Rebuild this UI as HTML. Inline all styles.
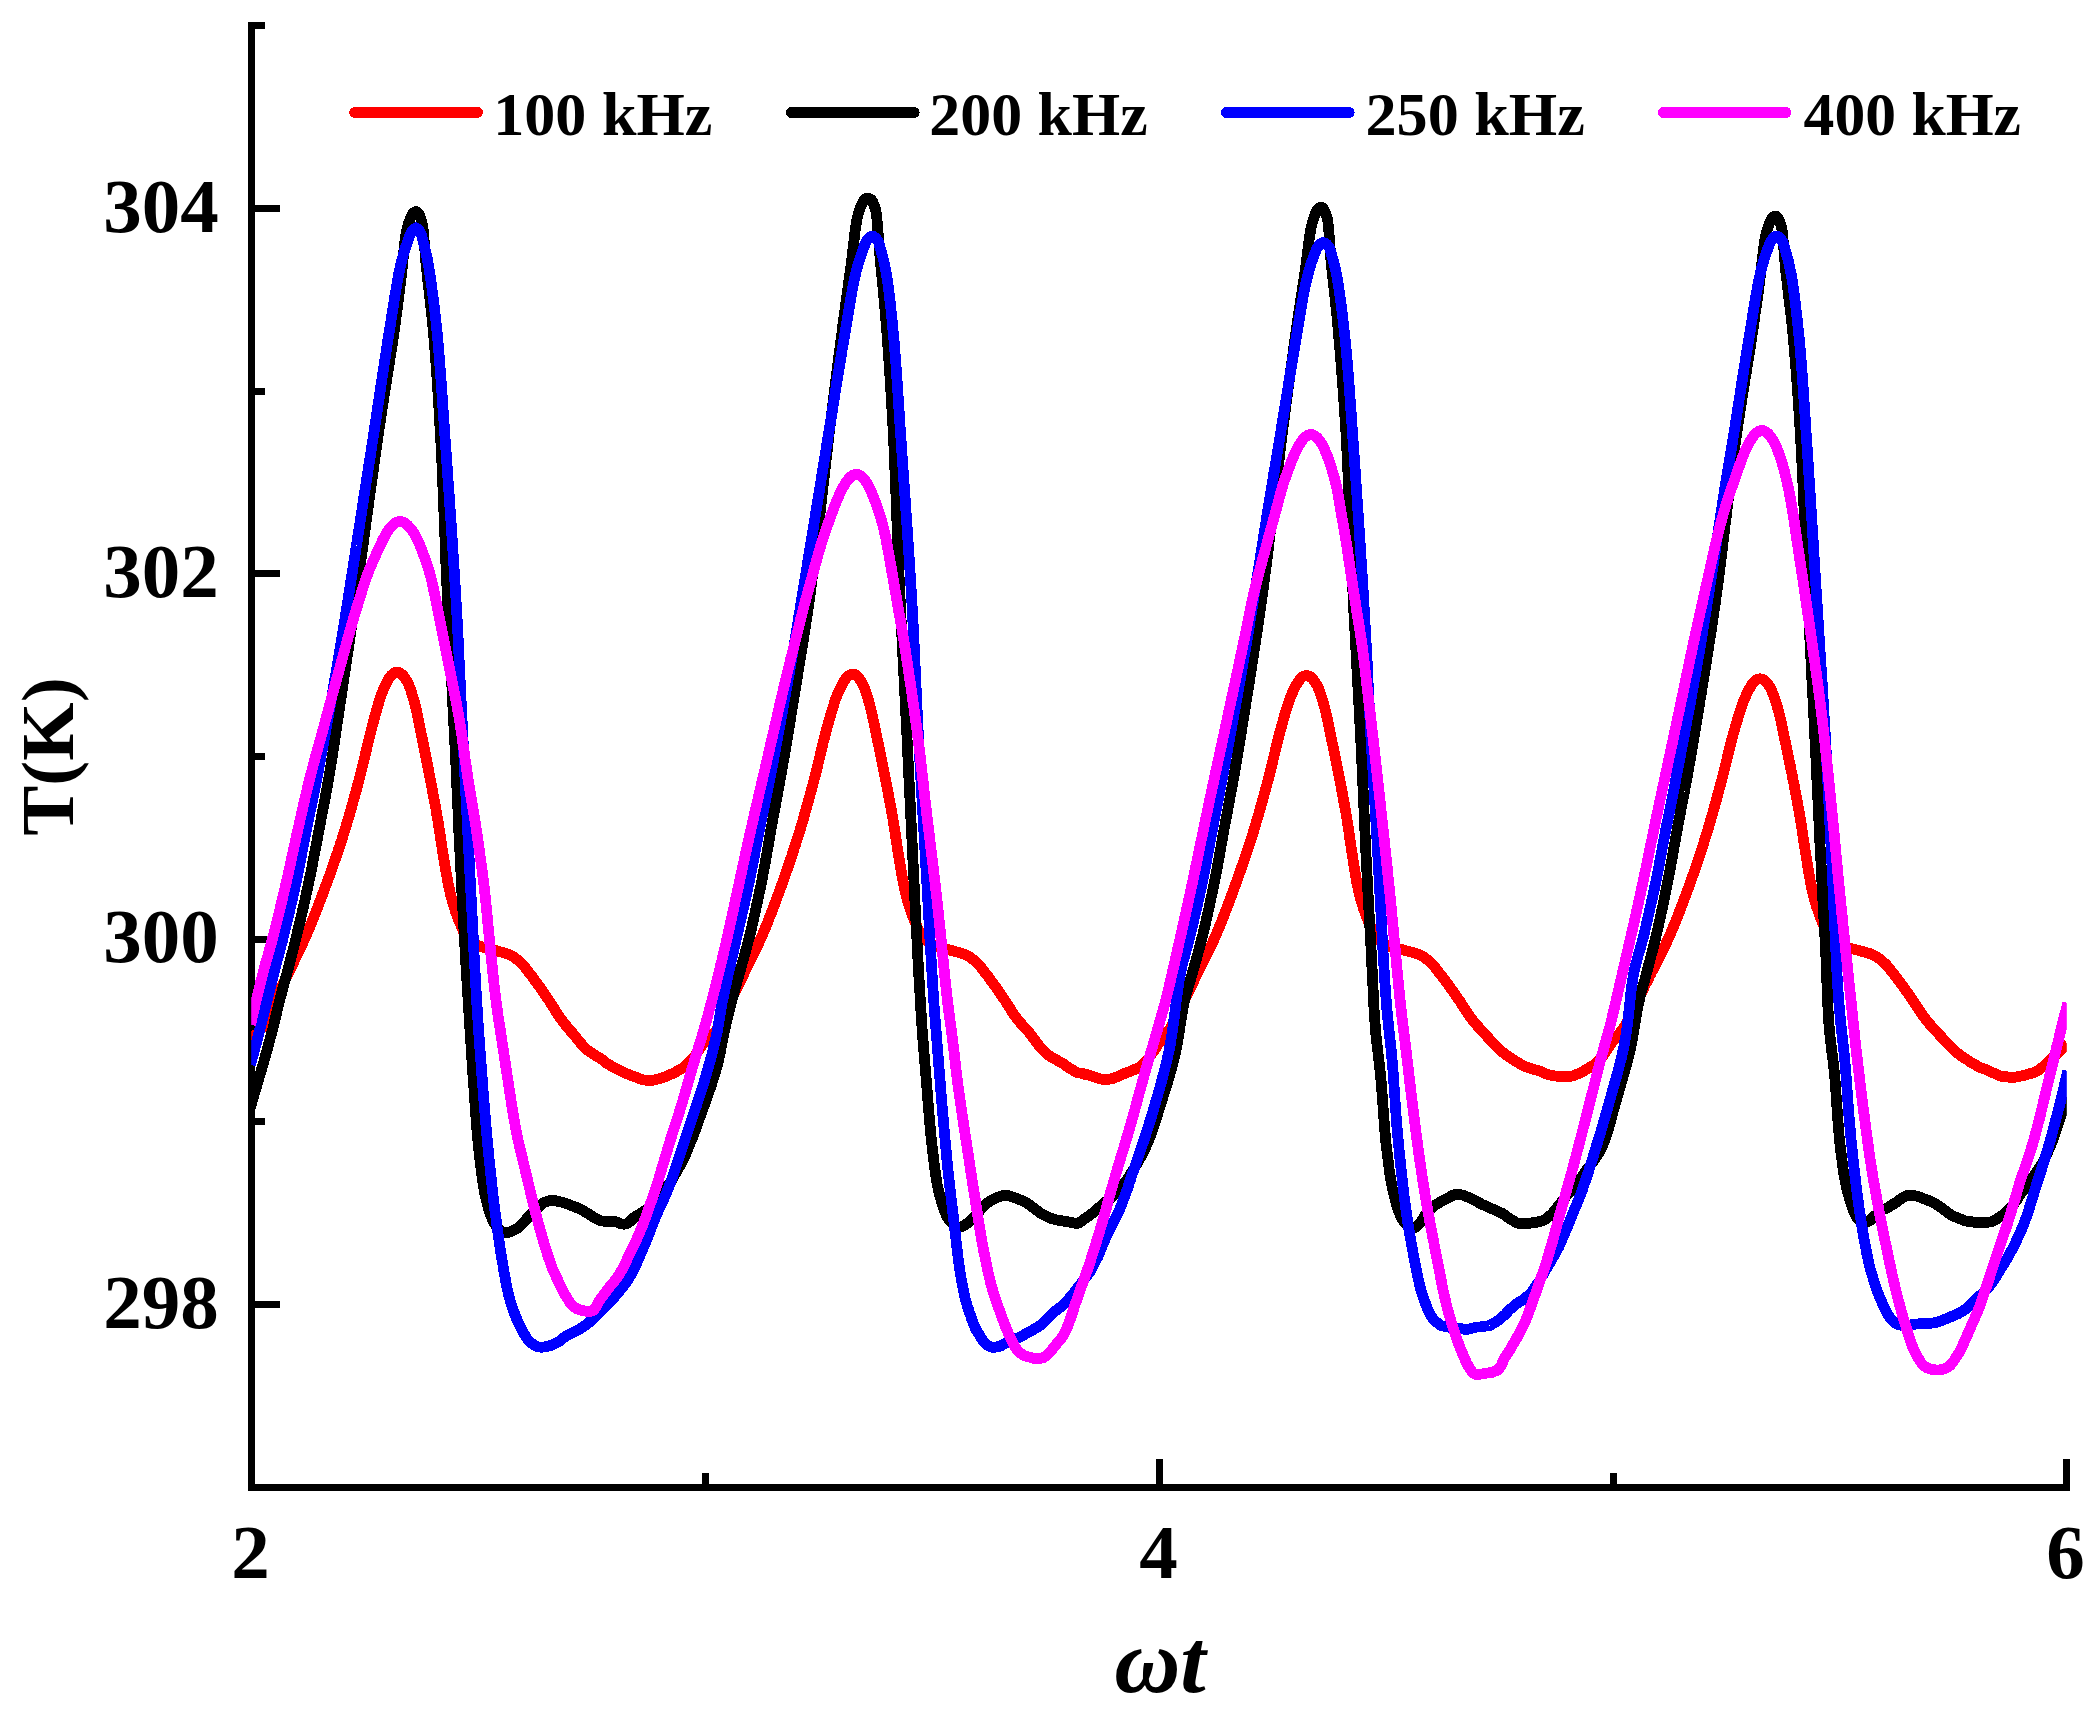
<!DOCTYPE html>
<html lang="en">
<head>
<meta charset="utf-8">
<title>T(K) vs ωt</title>
<style>
html,body{margin:0;padding:0;background:#fff;}
body{width:2091px;height:1715px;overflow:hidden;font-family:"Liberation Serif","Times New Roman",serif;}
svg text{font-family:"Liberation Serif","Times New Roman",serif;font-weight:bold;}
</style>
</head>
<body>
<svg width="2091" height="1715" viewBox="0 0 2091 1715" shape-rendering="crispEdges" style="display:block"><rect width="2091" height="1715" fill="#fff"/><defs><clipPath id="plot"><rect x="251.2" y="0" width="1815.6" height="1487"/></clipPath></defs><g fill="#000"><rect x="248.0" y="22" width="7" height="1469.0"/><rect x="248.0" y="1484.0" width="1822.0" height="7"/><rect x="251.5" y="1301" width="28.5" height="7"/><rect x="251.5" y="1118" width="13.5" height="7"/><rect x="251.5" y="936" width="28.5" height="7"/><rect x="251.5" y="753" width="13.5" height="7"/><rect x="251.5" y="570" width="28.5" height="7"/><rect x="251.5" y="388" width="13.5" height="7"/><rect x="251.5" y="205" width="28.5" height="7"/><rect x="251.5" y="22" width="13.5" height="7"/><rect x="702.00" y="1473.00" width="7" height="14.5"/><rect x="1156.00" y="1459.00" width="7" height="28.5"/><rect x="1610.00" y="1473.00" width="7" height="14.5"/><rect x="2063.00" y="1459.00" width="7" height="28.5"/></g><g clip-path="url(#plot)" shape-rendering="crispEdges"><path d="M250.6 1039.3L252.5 1037.7L254.4 1036.1L256.2 1034.4L257.9 1032.8L259.5 1031.1L261.2 1028.9L262.0 1027.7L262.8 1026.3L263.7 1024.8L264.5 1023.1L265.4 1021.4L266.3 1019.5L267.3 1017.5L268.2 1015.5L269.2 1013.5L270.1 1011.4L271.1 1009.3L272.0 1007.3L273.0 1005.2L273.9 1003.2L274.8 1001.3L275.7 999.4L276.6 997.6L277.5 995.8L278.4 993.9L279.2 992.1L280.1 990.3L281.0 988.5L281.9 986.6L282.8 984.8L283.7 982.9L284.6 981.1L285.5 979.2L286.4 977.2L287.3 975.3L288.3 973.3L289.1 971.6L290.0 969.8L290.8 968.0L291.7 966.3L292.6 964.5L293.4 962.7L294.3 960.9L295.2 959.0L296.1 957.2L297.0 955.3L297.9 953.4L298.8 951.6L299.7 949.7L300.6 947.7L301.5 945.8L302.4 943.9L303.3 941.9L304.2 940.0L305.1 938.0L305.9 936.0L306.7 934.2L307.5 932.4L308.3 930.6L309.0 928.7L309.8 926.9L310.6 925.0L311.3 923.2L312.1 921.3L312.9 919.4L313.6 917.5L314.4 915.6L315.2 913.6L315.9 911.7L316.7 909.8L317.5 907.8L318.2 905.9L319.0 903.9L319.7 901.9L320.5 900.0L321.2 898.0L322.0 896.0L322.7 894.0L323.5 892.0L324.2 890.0L324.9 888.0L325.6 886.1L326.3 884.3L327.0 882.4L327.7 880.5L328.4 878.6L329.1 876.7L329.8 874.8L330.4 872.9L331.1 871.0L331.8 869.1L332.5 867.1L333.2 865.2L333.9 863.2L334.5 861.3L335.2 859.4L335.9 857.4L336.5 855.4L337.2 853.5L337.9 851.5L338.5 849.6L339.2 847.6L339.8 845.7L340.5 843.7L341.1 841.7L341.8 839.8L342.4 837.8L343.0 835.9L343.6 833.9L344.2 832.0L344.8 830.1L345.4 828.1L346.0 826.2L346.6 824.2L347.2 822.3L347.8 820.3L348.4 818.3L348.9 816.4L349.5 814.4L350.1 812.4L350.6 810.4L351.2 808.5L351.8 806.5L352.3 804.5L352.9 802.6L353.4 800.6L354.0 798.6L354.5 796.7L355.0 794.8L355.5 792.8L356.1 790.9L356.6 789.0L357.1 787.1L357.6 785.2L358.1 783.3L358.6 781.5L359.1 779.6L359.5 777.8L360.0 776.0L360.6 773.9L361.1 771.7L361.7 769.6L362.2 767.5L362.7 765.4L363.2 763.3L363.7 761.3L364.2 759.2L364.7 757.1L365.2 755.1L365.6 753.1L366.1 751.1L366.6 749.1L367.0 747.1L367.5 745.2L367.9 743.3L368.4 741.4L368.9 739.5L369.3 737.6L369.8 735.8L370.2 734.0L370.8 731.8L371.4 729.6L371.9 727.4L372.5 725.3L373.0 723.2L373.6 721.1L374.1 719.0L374.7 717.0L375.2 715.0L375.7 713.1L376.3 711.3L376.8 709.4L377.3 707.7L377.8 706.0L378.5 703.7L379.1 701.6L379.7 699.6L380.3 697.7L381.0 695.8L381.7 693.9L382.4 692.0L383.3 689.9L384.2 687.7L385.2 685.5L386.2 683.4L387.3 681.4L388.3 679.6L389.2 678.0L391.2 675.4L393.2 673.6L395.1 672.6L397.2 672.2L399.1 672.6L400.9 673.6L403.0 675.5L404.9 678.0L406.0 679.5L406.9 681.2L407.9 683.1L408.9 685.2L409.5 686.8L410.2 688.6L410.9 690.5L411.5 692.5L412.2 694.7L412.9 696.9L413.5 699.2L414.2 701.4L414.8 703.7L415.4 706.0L415.9 707.9L416.3 709.8L416.8 711.7L417.2 713.7L417.6 715.7L418.0 717.7L418.4 719.7L418.8 721.8L419.2 723.8L419.6 725.9L420.0 727.9L420.4 730.0L420.8 732.0L421.2 734.0L421.6 736.0L422.1 738.0L422.5 740.0L422.9 742.0L423.3 744.0L423.7 746.0L424.1 748.0L424.5 750.0L424.9 752.0L425.3 754.0L425.7 756.0L426.1 758.0L426.5 760.0L426.9 762.0L427.3 764.0L427.7 766.0L428.1 768.0L428.5 770.0L428.9 772.1L429.3 774.1L429.7 776.1L430.0 778.1L430.4 780.1L430.8 782.1L431.2 784.1L431.6 786.1L432.0 788.0L432.3 790.0L432.7 792.1L433.1 794.2L433.5 796.2L433.9 798.2L434.3 800.2L434.7 802.2L435.0 804.2L435.4 806.2L435.8 808.3L436.2 810.5L436.6 812.7L436.9 815.0L437.2 816.8L437.5 818.6L437.9 820.5L438.2 822.4L438.5 824.4L438.8 826.4L439.1 828.4L439.4 830.5L439.7 832.6L440.1 834.7L440.4 836.8L440.7 838.9L441.0 841.0L441.3 843.1L441.6 845.2L442.0 847.2L442.3 849.2L442.6 851.2L442.9 853.2L443.2 855.1L443.5 857.0L443.9 859.2L444.3 861.4L444.6 863.6L445.0 865.8L445.4 868.0L445.7 870.1L446.1 872.2L446.4 874.3L446.8 876.4L447.2 878.4L447.5 880.4L447.9 882.4L448.3 884.3L448.7 886.2L449.1 888.0L449.6 890.3L450.1 892.6L450.6 894.8L451.2 896.9L451.7 899.0L452.3 901.0L452.9 903.0L453.4 905.0L454.0 907.0L454.8 909.2L455.5 911.4L456.2 913.6L457.0 915.7L457.8 917.8L458.6 919.9L459.5 922.0L460.4 924.0L461.2 926.2L462.1 928.3L463.0 930.5L464.0 932.5L465.1 934.5L466.2 936.4L467.5 938.0L469.0 939.5L470.5 940.8L472.2 942.1L474.0 943.2L475.8 944.2L477.6 945.1L479.5 946.0L481.5 946.8L483.6 947.5L485.7 948.1L487.9 948.6L490.1 949.1L492.3 949.6L494.5 950.2L496.6 950.8L498.7 951.4L500.9 952.0L503.0 952.6L505.2 953.2L507.2 953.9L509.2 954.6L511.0 955.5L512.9 956.6L514.7 957.7L516.3 958.9L517.9 960.2L519.4 961.6L521.0 963.0L522.4 964.4L523.8 965.9L525.1 967.5L526.4 969.1L527.7 970.8L529.0 972.6L530.5 974.5L531.6 975.9L532.7 977.4L533.8 978.9L535.0 980.5L536.2 982.1L537.4 983.8L538.6 985.5L539.8 987.2L541.1 989.0L542.3 990.7L543.5 992.5L544.7 994.2L545.9 995.9L547.0 997.5L548.2 999.3L549.4 1001.1L550.6 1002.9L551.7 1004.8L552.9 1006.6L554.0 1008.4L555.2 1010.2L556.3 1012.0L557.5 1013.8L558.6 1015.6L559.8 1017.3L561.0 1019.0L562.4 1020.8L563.7 1022.6L565.1 1024.4L566.5 1026.1L567.9 1027.8L569.3 1029.4L570.7 1031.1L572.2 1032.7L573.6 1034.4L575.0 1036.1L576.4 1037.8L577.8 1039.6L579.1 1041.3L580.5 1042.9L581.9 1044.5L583.3 1046.0L584.7 1047.4L586.1 1048.9L587.5 1050.3L589.0 1051.3L590.7 1052.3L592.4 1053.2L594.1 1054.5L595.9 1055.7L597.6 1056.7L599.4 1057.7L601.2 1058.9L603.0 1060.3L605.0 1061.9L606.9 1063.4L608.9 1064.6L610.9 1065.9L613.0 1067.1L615.0 1068.2L617.0 1069.2L619.0 1070.2L620.9 1071.1L622.9 1072.0L624.8 1072.9L626.8 1073.8L628.9 1074.6L631.0 1075.4L632.9 1076.2L634.9 1076.9L637.0 1077.6L639.1 1078.5L641.2 1079.3L643.4 1079.9L645.5 1080.2L647.5 1080.5L649.5 1080.6L651.7 1080.4L653.9 1080.0L656.1 1079.5L658.2 1079.0L660.3 1078.3L662.4 1077.6L664.5 1076.9L666.4 1076.2L668.3 1075.4L670.3 1074.5L672.2 1073.7L674.1 1072.8L675.9 1071.8L677.7 1070.7L679.5 1069.7L681.3 1068.8L683.0 1067.7L684.7 1066.3L686.3 1064.9L687.9 1063.5L689.5 1062.1L691.0 1060.5L692.5 1058.8L693.9 1057.2L695.2 1055.5L696.4 1053.7L697.7 1051.8L698.9 1049.9L700.1 1048.0L701.3 1046.2L702.6 1044.4L704.0 1042.7L705.4 1041.2L706.8 1039.8L708.3 1038.4L709.8 1037.0L711.3 1035.6L712.8 1034.2L714.2 1032.8L715.6 1031.2L717.0 1029.4L718.0 1027.9L719.0 1026.2L720.0 1024.6L720.9 1022.8L721.8 1021.0L722.7 1019.1L723.6 1017.2L724.4 1015.2L725.3 1013.2L726.2 1011.1L727.0 1009.1L727.9 1007.1L728.7 1005.1L729.6 1003.2L730.5 1001.3L731.4 999.4L732.3 997.6L733.2 995.8L734.1 993.9L735.0 992.1L735.8 990.3L736.7 988.5L737.6 986.6L738.5 984.8L739.4 982.9L740.3 981.1L741.2 979.2L742.2 977.2L743.1 975.3L744.1 973.3L744.9 971.6L745.7 969.8L746.6 968.1L747.5 966.3L748.4 964.5L749.3 962.7L750.2 960.9L751.1 959.1L752.0 957.2L752.9 955.4L753.8 953.5L754.7 951.6L755.6 949.7L756.5 947.8L757.4 945.9L758.4 944.0L759.2 942.0L760.1 940.1L761.0 938.1L761.9 936.1L762.7 934.3L763.4 932.5L764.2 930.7L764.9 928.9L765.7 927.0L766.5 925.2L767.2 923.3L768.0 921.5L768.7 919.6L769.4 917.7L770.2 915.8L770.9 913.9L771.7 912.0L772.4 910.0L773.2 908.1L773.9 906.2L774.6 904.2L775.3 902.3L776.1 900.3L776.8 898.3L777.5 896.4L778.3 894.4L779.0 892.4L779.7 890.4L780.4 888.4L781.1 886.6L781.8 884.7L782.4 882.9L783.1 881.0L783.8 879.1L784.4 877.2L785.1 875.3L785.8 873.4L786.4 871.5L787.1 869.6L787.8 867.7L788.4 865.8L789.1 863.8L789.7 861.9L790.4 860.0L791.0 858.0L791.7 856.1L792.3 854.1L793.0 852.2L793.6 850.3L794.2 848.3L794.9 846.4L795.5 844.4L796.1 842.5L796.7 840.5L797.3 838.6L798.0 836.7L798.6 834.7L799.2 832.8L799.8 830.8L800.4 828.8L801.0 826.8L801.6 824.8L802.2 822.8L802.8 820.8L803.4 818.8L803.9 816.7L804.5 814.7L805.1 812.7L805.7 810.6L806.3 808.6L806.8 806.6L807.4 804.5L808.0 802.5L808.5 800.5L809.1 798.5L809.6 796.5L810.1 794.5L810.7 792.5L811.2 790.6L811.7 788.6L812.3 786.7L812.8 784.7L813.3 782.8L813.8 780.9L814.3 779.0L814.8 777.2L815.3 775.1L815.9 773.0L816.4 770.9L816.9 768.8L817.4 766.7L817.9 764.6L818.4 762.5L818.9 760.5L819.4 758.5L819.9 756.4L820.4 754.4L820.8 752.5L821.3 750.5L821.8 748.5L822.2 746.6L822.7 744.7L823.1 742.8L823.6 740.9L824.1 739.1L824.5 737.3L825.0 735.5L825.6 733.3L826.2 731.1L826.7 729.0L827.3 726.8L827.9 724.7L828.5 722.6L829.0 720.6L829.6 718.6L830.2 716.6L830.7 714.7L831.3 712.9L831.8 711.1L832.3 709.3L832.9 707.7L833.6 705.4L834.2 703.3L834.9 701.3L835.5 699.4L836.2 697.6L836.9 695.7L837.7 693.8L838.6 691.7L839.6 689.5L840.7 687.3L841.7 685.2L842.8 683.2L843.8 681.4L844.8 679.9L846.8 677.3L848.8 675.5L850.9 674.5L853.0 674.1L854.7 674.5L856.3 675.5L858.3 677.4L860.2 679.9L861.2 681.4L862.2 683.0L863.1 684.9L864.1 687.0L864.7 688.6L865.4 690.4L866.0 692.3L866.7 694.3L867.3 696.4L868.0 698.6L868.6 700.9L869.2 703.1L869.9 705.4L870.4 707.7L870.9 709.5L871.4 711.4L871.8 713.3L872.3 715.3L872.7 717.3L873.1 719.3L873.6 721.3L874.0 723.3L874.4 725.4L874.8 727.4L875.2 729.4L875.7 731.5L876.1 733.5L876.5 735.5L876.9 737.5L877.3 739.4L877.7 741.4L878.2 743.4L878.6 745.4L879.0 747.4L879.4 749.4L879.8 751.4L880.2 753.4L880.6 755.3L881.0 757.3L881.4 759.3L881.8 761.3L882.2 763.3L882.6 765.3L883.0 767.3L883.4 769.3L883.8 771.3L884.2 773.3L884.6 775.3L885.0 777.3L885.4 779.3L885.8 781.3L886.2 783.3L886.6 785.2L887.0 787.2L887.4 789.2L887.8 791.1L888.2 793.2L888.6 795.2L888.9 797.2L889.3 799.2L889.7 801.2L890.1 803.2L890.4 805.2L890.8 807.2L891.2 809.3L891.6 811.4L892.0 813.6L892.4 815.9L892.7 817.7L893.0 819.5L893.3 821.4L893.6 823.3L893.9 825.2L894.2 827.2L894.5 829.3L894.8 831.3L895.2 833.4L895.5 835.5L895.8 837.5L896.1 839.6L896.4 841.7L896.7 843.8L897.1 845.9L897.4 847.9L897.7 849.9L898.0 851.9L898.3 853.9L898.6 855.8L899.0 857.6L899.3 859.8L899.7 862.0L900.0 864.2L900.4 866.4L900.8 868.5L901.1 870.7L901.5 872.8L901.8 874.8L902.2 876.9L902.6 878.9L902.9 880.9L903.3 882.8L903.7 884.7L904.1 886.6L904.5 888.4L905.0 890.7L905.5 893.0L906.1 895.2L906.6 897.3L907.2 899.3L907.8 901.4L908.4 903.4L909.0 905.3L909.6 907.3L910.3 909.5L911.1 911.7L911.8 913.8L912.6 915.9L913.4 918.0L914.3 920.1L915.2 922.2L916.0 924.2L916.9 926.3L917.8 928.5L918.7 930.6L919.7 932.7L920.8 934.6L922.0 936.5L923.3 938.1L924.7 939.6L926.4 940.9L928.1 942.1L929.9 943.2L931.7 944.2L933.6 945.1L935.5 946.0L937.5 946.8L939.6 947.5L941.7 948.1L943.9 948.6L946.1 949.1L948.3 949.6L950.5 950.2L952.6 950.8L954.7 951.4L956.9 952.0L959.0 952.6L961.2 953.2L963.2 953.9L965.2 954.6L967.0 955.5L968.9 956.6L970.7 957.7L972.3 958.9L973.9 960.2L975.4 961.6L977.0 963.0L978.4 964.4L979.8 965.9L981.1 967.5L982.4 969.1L983.7 970.8L985.0 972.6L986.5 974.5L987.6 975.9L988.7 977.4L989.8 978.9L991.0 980.5L992.2 982.1L993.4 983.8L994.6 985.5L995.8 987.2L997.1 989.0L998.3 990.7L999.5 992.5L1000.7 994.2L1001.9 995.9L1003.0 997.5L1004.2 999.3L1005.4 1001.1L1006.6 1002.9L1007.7 1004.8L1008.9 1006.6L1010.0 1008.4L1011.2 1010.2L1012.3 1012.0L1013.5 1013.8L1014.6 1015.6L1015.8 1017.2L1017.0 1018.8L1018.4 1020.4L1019.7 1021.9L1021.1 1023.6L1022.5 1025.2L1023.9 1026.7L1025.3 1028.3L1026.7 1029.8L1028.2 1031.4L1029.6 1033.1L1031.0 1035.0L1032.4 1036.9L1033.8 1038.7L1035.1 1040.4L1036.5 1042.2L1037.9 1044.0L1039.3 1045.9L1040.7 1047.7L1042.1 1049.3L1043.5 1050.7L1045.0 1052.1L1046.7 1053.6L1048.4 1055.0L1050.1 1056.3L1051.9 1057.3L1053.6 1058.2L1055.4 1059.2L1057.2 1060.4L1059.0 1061.4L1061.0 1062.3L1062.9 1063.4L1064.9 1064.8L1066.9 1066.4L1069.0 1067.8L1071.0 1068.9L1073.0 1070.2L1075.0 1071.4L1076.9 1072.4L1078.9 1073.0L1080.8 1073.2L1082.8 1073.6L1084.9 1074.3L1087.0 1074.7L1088.9 1075.1L1090.9 1075.7L1093.0 1076.5L1095.1 1077.3L1097.2 1078.1L1099.4 1078.6L1101.5 1079.2L1103.5 1079.6L1105.5 1079.7L1107.7 1079.5L1109.9 1079.1L1112.1 1078.7L1114.2 1078.0L1116.3 1077.0L1118.4 1076.2L1120.5 1075.4L1122.4 1074.5L1124.3 1073.6L1126.3 1072.8L1128.2 1072.2L1130.1 1071.5L1131.9 1070.7L1133.7 1069.8L1135.5 1069.2L1137.3 1068.6L1139.0 1067.7L1140.7 1066.3L1142.3 1064.8L1143.9 1063.3L1145.5 1061.8L1147.0 1060.1L1148.5 1058.3L1149.9 1056.5L1151.2 1054.6L1152.5 1052.8L1153.8 1050.9L1155.0 1049.1L1156.3 1047.2L1157.5 1045.3L1158.7 1043.4L1160.0 1041.6L1161.4 1039.9L1162.7 1038.2L1164.0 1036.5L1165.4 1034.8L1166.7 1033.2L1168.1 1031.4L1169.4 1029.5L1170.7 1027.5L1171.6 1026.0L1172.5 1024.4L1173.4 1022.8L1174.3 1021.0L1175.2 1019.3L1176.1 1017.4L1177.0 1015.6L1177.9 1013.7L1178.8 1011.8L1179.7 1009.8L1180.6 1007.9L1181.5 1006.0L1182.4 1004.1L1183.3 1002.2L1184.2 1000.3L1185.1 998.5L1186.0 996.7L1186.9 994.9L1187.7 993.1L1188.6 991.3L1189.5 989.5L1190.4 987.7L1191.3 985.9L1192.2 984.1L1193.1 982.3L1194.0 980.5L1194.9 978.6L1195.8 976.7L1196.7 974.8L1197.7 972.9L1198.5 971.1L1199.4 969.4L1200.2 967.7L1201.1 965.9L1202.0 964.2L1202.9 962.4L1203.8 960.6L1204.7 958.8L1205.6 957.0L1206.5 955.2L1207.4 953.3L1208.3 951.5L1209.2 949.6L1210.1 947.7L1211.0 945.8L1211.9 943.9L1212.8 942.0L1213.7 940.1L1214.6 938.1L1215.4 936.2L1216.2 934.4L1217.0 932.6L1217.7 930.8L1218.5 929.0L1219.2 927.2L1220.0 925.3L1220.7 923.5L1221.5 921.6L1222.2 919.8L1223.0 917.9L1223.7 916.0L1224.5 914.1L1225.2 912.2L1225.9 910.3L1226.7 908.3L1227.4 906.4L1228.1 904.5L1228.9 902.5L1229.6 900.5L1230.3 898.6L1231.1 896.6L1231.8 894.7L1232.5 892.7L1233.2 890.7L1234.0 888.7L1234.6 886.9L1235.3 885.1L1236.0 883.2L1236.7 881.3L1237.3 879.5L1238.0 877.6L1238.7 875.7L1239.3 873.8L1240.0 871.9L1240.7 870.0L1241.3 868.1L1242.0 866.2L1242.7 864.3L1243.3 862.4L1244.0 860.4L1244.7 858.5L1245.3 856.6L1246.0 854.6L1246.6 852.7L1247.3 850.8L1247.9 848.8L1248.5 846.9L1249.2 845.0L1249.8 843.0L1250.4 841.1L1251.0 839.2L1251.7 837.2L1252.3 835.3L1252.9 833.4L1253.5 831.4L1254.1 829.4L1254.7 827.5L1255.3 825.5L1255.9 823.4L1256.5 821.4L1257.1 819.4L1257.7 817.4L1258.3 815.4L1258.9 813.4L1259.4 811.3L1260.0 809.3L1260.6 807.3L1261.2 805.3L1261.7 803.3L1262.3 801.3L1262.8 799.3L1263.4 797.3L1263.9 795.3L1264.5 793.3L1265.0 791.4L1265.5 789.4L1266.0 787.5L1266.6 785.6L1267.1 783.7L1267.6 781.8L1268.1 779.9L1268.6 778.1L1269.1 776.0L1269.7 773.9L1270.2 771.8L1270.7 769.7L1271.2 767.6L1271.7 765.5L1272.2 763.5L1272.7 761.5L1273.2 759.4L1273.7 757.4L1274.1 755.4L1274.6 753.5L1275.1 751.5L1275.5 749.6L1276.0 747.6L1276.5 745.7L1276.9 743.9L1277.4 742.0L1277.8 740.2L1278.3 738.4L1278.8 736.6L1279.3 734.4L1279.9 732.2L1280.5 730.1L1281.1 728.0L1281.6 725.9L1282.2 723.8L1282.8 721.8L1283.3 719.8L1283.9 717.8L1284.4 715.9L1285.0 714.1L1285.5 712.3L1286.0 710.6L1286.5 708.9L1287.2 706.7L1287.9 704.6L1288.6 702.6L1289.2 700.7L1289.9 698.8L1290.6 697.0L1291.4 695.1L1292.3 693.0L1293.3 690.8L1294.3 688.7L1295.4 686.6L1296.4 684.6L1297.5 682.8L1298.5 681.2L1300.4 678.7L1302.5 676.9L1304.6 675.9L1306.7 675.5L1308.6 675.9L1310.5 676.9L1312.5 678.8L1314.5 681.2L1315.5 682.8L1316.5 684.4L1317.4 686.2L1318.4 688.3L1319.1 689.9L1319.7 691.7L1320.4 693.6L1321.1 695.6L1321.8 697.7L1322.4 699.9L1323.1 702.1L1323.7 704.4L1324.4 706.7L1325.0 708.9L1325.5 710.7L1325.9 712.6L1326.4 714.5L1326.8 716.5L1327.3 718.5L1327.7 720.4L1328.1 722.5L1328.5 724.5L1328.9 726.5L1329.3 728.5L1329.8 730.6L1330.2 732.6L1330.6 734.6L1331.0 736.6L1331.4 738.5L1331.8 740.5L1332.2 742.5L1332.6 744.5L1333.1 746.4L1333.5 748.4L1333.9 750.4L1334.3 752.4L1334.7 754.3L1335.1 756.3L1335.5 758.3L1335.9 760.3L1336.3 762.3L1336.7 764.2L1337.1 766.2L1337.5 768.2L1337.9 770.2L1338.3 772.2L1338.7 774.2L1339.1 776.2L1339.4 778.2L1339.8 780.1L1340.2 782.1L1340.6 784.1L1341.0 786.1L1341.3 788.0L1341.7 790.0L1342.1 791.9L1342.5 794.0L1342.8 796.0L1343.2 798.0L1343.6 800.0L1343.9 802.0L1344.3 803.9L1344.7 805.9L1345.0 807.9L1345.4 810.0L1345.8 812.1L1346.1 814.3L1346.5 816.6L1346.8 818.4L1347.1 820.3L1347.4 822.3L1347.7 824.3L1348.0 826.4L1348.4 828.5L1348.7 830.6L1349.0 832.7L1349.3 834.9L1349.6 837.1L1349.9 839.3L1350.3 841.4L1350.6 843.6L1350.9 845.8L1351.2 847.9L1351.5 850.0L1351.8 852.1L1352.2 854.2L1352.5 856.2L1352.8 858.1L1353.1 860.3L1353.5 862.5L1353.8 864.7L1354.2 866.8L1354.5 868.9L1354.9 871.1L1355.2 873.2L1355.5 875.2L1355.9 877.3L1356.2 879.3L1356.6 881.2L1356.9 883.2L1357.3 885.1L1357.7 886.9L1358.1 888.7L1358.6 891.0L1359.1 893.3L1359.7 895.4L1360.2 897.5L1360.8 899.6L1361.4 901.6L1362.0 903.6L1362.6 905.6L1363.2 907.5L1363.9 909.7L1364.7 911.9L1365.4 914.0L1366.2 916.1L1367.0 918.1L1367.9 920.2L1368.8 922.3L1369.7 924.4L1370.6 926.5L1371.4 928.6L1372.4 930.7L1373.4 932.8L1374.4 934.7L1375.6 936.5L1376.9 938.1L1378.4 939.6L1380.0 941.0L1381.7 942.2L1383.5 943.2L1385.4 944.2L1387.3 945.2L1389.2 946.0L1391.2 946.8L1393.3 947.5L1395.4 948.1L1397.6 948.6L1399.8 949.1L1402.0 949.6L1404.2 950.2L1406.3 950.8L1408.4 951.3L1410.6 951.9L1412.7 952.5L1414.9 953.1L1416.9 953.8L1418.9 954.6L1420.7 955.4L1422.6 956.4L1424.3 957.5L1426.0 958.7L1427.6 960.0L1429.1 961.3L1430.7 962.8L1432.1 964.1L1433.5 965.6L1434.8 967.1L1436.1 968.7L1437.4 970.4L1438.7 972.2L1440.2 974.0L1441.3 975.5L1442.5 977.1L1443.8 978.7L1445.0 980.4L1446.3 982.1L1447.7 983.9L1449.0 985.7L1450.3 987.6L1451.6 989.4L1452.9 991.3L1454.2 993.1L1455.5 994.8L1456.7 996.6L1457.9 998.4L1459.1 1000.1L1460.3 1001.9L1461.4 1003.7L1462.6 1005.5L1463.7 1007.3L1464.9 1009.0L1466.0 1010.8L1467.2 1012.5L1468.3 1014.3L1469.5 1016.0L1470.7 1017.6L1472.1 1019.4L1473.4 1021.1L1474.8 1022.8L1476.2 1024.4L1477.6 1026.0L1479.0 1027.6L1480.4 1029.1L1481.9 1030.6L1483.3 1032.2L1484.7 1033.8L1486.1 1035.3L1487.5 1036.9L1488.8 1038.4L1490.2 1040.0L1491.6 1041.5L1493.0 1043.1L1494.4 1044.6L1495.8 1046.1L1497.3 1047.5L1498.7 1048.9L1500.4 1050.4L1502.1 1051.8L1503.8 1053.2L1505.6 1054.5L1507.3 1055.7L1509.1 1056.9L1510.9 1058.1L1512.7 1059.3L1514.7 1060.5L1516.6 1061.7L1518.6 1062.9L1520.6 1064.1L1522.7 1065.4L1524.7 1066.5L1526.7 1067.2L1528.7 1067.8L1530.6 1068.4L1532.6 1069.1L1534.5 1069.7L1536.5 1070.1L1538.6 1070.7L1540.7 1071.5L1542.6 1072.5L1544.6 1073.4L1546.7 1074.1L1548.8 1074.7L1550.9 1075.2L1553.1 1075.7L1555.2 1076.0L1557.2 1076.2L1559.2 1076.2L1561.4 1076.4L1563.6 1076.7L1565.8 1076.8L1567.9 1076.5L1570.0 1076.3L1572.1 1076.0L1574.2 1075.4L1576.1 1074.6L1578.0 1073.8L1580.0 1072.9L1581.9 1072.0L1583.8 1071.0L1585.6 1069.8L1587.4 1068.7L1589.2 1067.7L1591.0 1066.7L1592.7 1065.7L1594.3 1064.4L1596.0 1062.9L1597.6 1061.5L1599.2 1060.0L1600.7 1058.4L1602.2 1056.7L1603.6 1054.9L1604.9 1052.9L1606.2 1050.9L1607.5 1048.9L1608.7 1047.0L1610.0 1045.2L1611.2 1043.4L1612.4 1041.7L1613.7 1040.0L1615.0 1038.4L1616.3 1036.9L1617.6 1035.4L1618.9 1034.0L1620.2 1032.5L1621.5 1031.0L1622.8 1029.3L1624.1 1027.3L1625.0 1025.8L1625.9 1024.2L1626.9 1022.5L1627.8 1020.8L1628.7 1019.0L1629.6 1017.2L1630.5 1015.4L1631.4 1013.5L1632.3 1011.6L1633.2 1009.7L1634.1 1007.7L1635.0 1005.8L1635.9 1003.9L1636.8 1002.0L1637.7 1000.1L1638.6 998.3L1639.5 996.5L1640.4 994.7L1641.3 992.9L1642.2 991.1L1643.1 989.4L1643.9 987.6L1644.8 985.8L1645.7 984.0L1646.7 982.2L1647.6 980.3L1648.5 978.5L1649.4 976.6L1650.4 974.7L1651.3 972.8L1652.2 971.1L1653.1 969.4L1653.9 967.6L1654.8 965.9L1655.7 964.1L1656.6 962.4L1657.5 960.6L1658.4 958.8L1659.3 957.0L1660.3 955.2L1661.2 953.4L1662.1 951.5L1663.0 949.7L1664.0 947.8L1664.9 945.9L1665.8 944.0L1666.7 942.1L1667.6 940.2L1668.5 938.3L1669.3 936.3L1670.1 934.6L1670.9 932.8L1671.6 931.0L1672.4 929.3L1673.1 927.5L1673.9 925.6L1674.7 923.8L1675.4 922.0L1676.1 920.1L1676.9 918.3L1677.6 916.4L1678.4 914.5L1679.1 912.6L1679.8 910.7L1680.6 908.8L1681.3 906.9L1682.0 905.0L1682.8 903.1L1683.5 901.1L1684.2 899.2L1684.9 897.3L1685.7 895.3L1686.4 893.4L1687.1 891.4L1687.8 889.5L1688.5 887.6L1689.2 885.7L1689.9 883.8L1690.5 881.9L1691.2 880.0L1691.9 878.1L1692.6 876.1L1693.3 874.2L1694.0 872.3L1694.6 870.3L1695.3 868.4L1696.0 866.4L1696.6 864.4L1697.3 862.5L1698.0 860.5L1698.6 858.5L1699.3 856.5L1700.0 854.6L1700.6 852.6L1701.3 850.6L1701.9 848.6L1702.6 846.6L1703.2 844.7L1703.8 842.7L1704.4 840.7L1705.1 838.7L1705.7 836.8L1706.3 834.8L1706.9 832.9L1707.5 830.9L1708.1 828.9L1708.7 826.9L1709.3 825.0L1709.9 823.0L1710.4 821.0L1711.0 819.0L1711.6 817.0L1712.2 815.0L1712.7 813.0L1713.3 811.0L1713.8 809.0L1714.4 807.0L1715.0 805.0L1715.5 803.1L1716.0 801.1L1716.6 799.1L1717.1 797.2L1717.6 795.2L1718.2 793.3L1718.7 791.3L1719.2 789.4L1719.7 787.5L1720.2 785.7L1720.7 783.8L1721.2 782.0L1721.7 780.1L1722.2 778.0L1722.8 776.0L1723.3 773.9L1723.8 771.8L1724.3 769.8L1724.8 767.8L1725.3 765.7L1725.8 763.7L1726.3 761.7L1726.8 759.7L1727.2 757.8L1727.7 755.8L1728.2 753.9L1728.7 752.0L1729.1 750.1L1729.6 748.2L1730.1 746.3L1730.5 744.5L1731.0 742.7L1731.5 740.9L1731.9 739.1L1732.5 737.0L1733.1 734.8L1733.7 732.7L1734.3 730.6L1734.9 728.6L1735.4 726.5L1736.0 724.5L1736.6 722.5L1737.2 720.6L1737.7 718.7L1738.3 716.9L1738.8 715.2L1739.4 713.4L1739.9 711.8L1740.6 709.6L1741.3 707.5L1742.0 705.6L1742.6 703.7L1743.3 701.9L1744.0 700.0L1744.8 698.1L1745.8 696.1L1746.7 694.0L1747.8 691.8L1748.8 689.7L1749.9 687.8L1750.9 686.0L1751.9 684.5L1753.9 681.9L1755.9 680.2L1758.0 679.2L1760.1 678.8L1762.1 679.2L1764.1 680.2L1766.1 682.0L1768.1 684.5L1769.1 686.0L1770.1 687.6L1771.1 689.4L1772.1 691.5L1772.7 693.1L1773.4 694.8L1774.1 696.7L1774.8 698.7L1775.5 700.7L1776.1 702.9L1776.8 705.1L1777.5 707.3L1778.1 709.6L1778.7 711.8L1779.2 713.8L1779.7 715.8L1780.2 717.8L1780.7 719.9L1781.2 722.0L1781.6 724.1L1782.1 726.3L1782.5 728.4L1782.9 730.6L1783.4 732.7L1783.8 734.9L1784.3 737.0L1784.7 739.1L1785.2 741.2L1785.6 743.3L1786.1 745.4L1786.5 747.5L1786.9 749.6L1787.4 751.7L1787.8 753.8L1788.2 755.9L1788.7 758.1L1789.1 760.2L1789.5 762.3L1790.0 764.4L1790.4 766.5L1790.8 768.6L1791.2 770.7L1791.7 772.8L1792.1 774.9L1792.5 777.0L1792.9 779.2L1793.3 781.3L1793.8 783.4L1794.2 785.5L1794.6 787.6L1795.0 789.7L1795.4 791.7L1795.8 793.8L1796.1 795.9L1796.5 797.9L1796.9 799.8L1797.3 801.8L1797.6 803.7L1798.0 805.7L1798.3 807.7L1798.7 809.7L1799.1 811.7L1799.4 813.8L1799.8 816.0L1800.2 818.2L1800.5 820.0L1800.8 821.9L1801.1 823.8L1801.4 825.8L1801.7 827.9L1802.1 829.9L1802.4 832.0L1802.7 834.1L1803.0 836.3L1803.3 838.4L1803.7 840.6L1804.0 842.8L1804.3 844.9L1804.7 847.0L1805.0 849.2L1805.3 851.2L1805.6 853.3L1806.0 855.3L1806.3 857.3L1806.6 859.2L1807.0 861.4L1807.3 863.5L1807.7 865.7L1808.0 867.8L1808.4 869.9L1808.7 872.0L1809.1 874.1L1809.4 876.1L1809.8 878.1L1810.1 880.1L1810.5 882.1L1810.9 884.0L1811.3 885.9L1811.6 887.7L1812.0 889.5L1812.6 891.8L1813.1 894.0L1813.6 896.1L1814.2 898.2L1814.7 900.2L1815.3 902.2L1815.8 904.2L1816.4 906.1L1817.0 908.0L1817.8 910.2L1818.5 912.3L1819.2 914.4L1820.0 916.5L1820.8 918.5L1821.7 920.6L1822.6 922.7L1823.4 924.7L1824.3 926.7L1825.2 928.8L1826.1 930.9L1827.1 933.0L1828.1 934.9L1829.3 936.7L1830.6 938.3L1832.1 939.7L1833.6 941.1L1835.3 942.2L1837.1 943.3L1838.9 944.3L1840.7 945.2L1842.6 946.1L1844.6 946.9L1846.7 947.5L1848.8 948.1L1851.0 948.6L1853.2 949.1L1855.4 949.6L1857.6 950.2L1859.7 950.8L1861.8 951.3L1864.0 951.9L1866.1 952.5L1868.3 953.1L1870.3 953.8L1872.3 954.5L1874.1 955.4L1876.0 956.4L1877.7 957.5L1879.4 958.7L1881.0 959.9L1882.5 961.3L1884.1 962.7L1885.5 964.1L1886.9 965.5L1888.2 967.1L1889.5 968.6L1890.8 970.3L1892.1 972.1L1893.6 973.9L1894.7 975.4L1895.9 976.9L1897.2 978.6L1898.4 980.3L1899.7 982.0L1901.1 983.8L1902.4 985.6L1903.7 987.4L1905.0 989.3L1906.3 991.1L1907.6 992.9L1908.9 994.7L1910.1 996.4L1911.3 998.2L1912.5 999.9L1913.7 1001.7L1914.8 1003.5L1916.0 1005.3L1917.1 1007.0L1918.3 1008.8L1919.4 1010.5L1920.6 1012.3L1921.7 1014.0L1922.9 1015.6L1924.1 1017.2L1925.5 1019.0L1926.8 1020.7L1928.2 1022.4L1929.6 1024.0L1931.0 1025.6L1932.4 1027.2L1933.8 1028.7L1935.3 1030.3L1936.7 1031.8L1938.1 1033.4L1939.5 1034.9L1940.9 1036.4L1942.2 1037.9L1943.6 1039.4L1945.0 1040.9L1946.4 1042.5L1947.8 1044.0L1949.2 1045.5L1950.7 1046.9L1952.1 1048.3L1953.8 1049.9L1955.5 1051.4L1957.2 1052.9L1959.0 1054.3L1960.7 1055.5L1962.5 1056.7L1964.3 1057.9L1966.1 1059.1L1968.1 1060.4L1970.0 1061.8L1972.0 1063.0L1974.0 1064.1L1976.1 1065.3L1978.1 1066.5L1980.1 1067.5L1982.1 1068.3L1984.0 1069.0L1986.0 1069.6L1987.9 1070.5L1989.9 1071.5L1992.0 1072.5L1994.1 1073.3L1996.0 1074.1L1998.0 1075.0L2000.1 1075.9L2002.2 1076.4L2004.3 1076.6L2006.5 1076.8L2008.6 1077.1L2010.6 1077.3L2012.6 1077.3L2014.8 1077.2L2017.0 1076.9L2019.2 1076.5L2021.3 1076.0L2023.4 1075.5L2025.5 1075.0L2027.6 1074.4L2029.5 1073.8L2031.4 1073.3L2033.4 1072.7L2035.3 1072.0L2037.2 1071.0L2039.0 1069.7L2040.8 1068.3L2042.6 1067.1L2044.3 1065.7L2046.0 1064.1L2047.7 1062.5L2049.3 1060.9L2050.9 1059.4L2052.5 1057.8L2054.0 1056.3L2055.6 1054.8L2057.1 1053.4L2058.7 1052.0L2060.2 1050.7L2061.7 1049.4L2063.2 1048.0L2064.7 1046.7L2066.2 1045.5L2067.7 1044.4" fill="none" stroke="#ff0000" stroke-width="10.8" stroke-linejoin="round" stroke-linecap="butt"/><path d="M250.4 1107.4L251.0 1105.5L251.5 1103.5L252.1 1101.5L252.7 1099.5L253.3 1097.5L253.9 1095.4L254.5 1093.4L255.1 1091.3L255.7 1089.3L256.3 1087.2L256.9 1085.1L257.5 1082.9L258.1 1080.8L258.8 1078.7L259.4 1076.7L260.0 1074.6L260.6 1072.6L261.2 1070.5L261.8 1068.5L262.4 1066.5L263.0 1064.4L263.6 1062.4L264.2 1060.3L264.8 1058.3L265.3 1056.2L265.9 1054.2L266.5 1052.1L267.0 1050.1L267.6 1048.1L268.1 1046.1L268.6 1044.2L269.1 1042.3L269.6 1040.5L270.1 1038.7L270.6 1037.0L271.0 1035.3L271.5 1033.7L271.9 1032.1L272.3 1030.6L272.7 1029.1L273.3 1026.6L273.9 1024.4L274.4 1022.2L274.9 1020.1L275.4 1018.1L275.9 1016.2L276.3 1014.3L276.7 1012.5L277.1 1010.7L277.6 1008.9L278.0 1007.0L278.4 1005.2L278.9 1003.3L279.4 1001.3L279.9 999.3L280.4 997.3L280.9 995.4L281.5 993.4L282.0 991.5L282.5 989.5L283.1 987.5L283.6 985.6L284.1 983.6L284.7 981.6L285.2 979.6L285.8 977.5L286.3 975.4L286.9 973.3L287.4 971.5L287.9 969.6L288.4 967.8L288.8 965.9L289.3 964.1L289.8 962.2L290.3 960.3L290.8 958.4L291.3 956.4L291.8 954.5L292.3 952.5L292.9 950.5L293.4 948.5L293.9 946.5L294.4 944.5L294.9 942.4L295.5 940.3L296.0 938.2L296.5 936.0L296.9 934.2L297.4 932.3L297.8 930.5L298.3 928.6L298.8 926.6L299.2 924.7L299.7 922.7L300.2 920.7L300.6 918.7L301.1 916.7L301.6 914.6L302.1 912.6L302.5 910.5L303.0 908.5L303.5 906.4L304.0 904.3L304.4 902.2L304.9 900.2L305.4 898.1L305.8 896.0L306.3 894.0L306.7 891.9L307.2 889.9L307.6 887.9L308.0 885.9L308.5 883.9L308.9 881.9L309.3 880.0L309.7 877.9L310.2 875.9L310.6 873.9L311.0 871.8L311.4 869.8L311.8 867.8L312.2 865.9L312.6 863.9L312.9 861.9L313.3 859.9L313.7 858.0L314.1 856.0L314.4 854.1L314.8 852.1L315.2 850.1L315.6 848.1L315.9 846.2L316.3 844.2L316.7 842.2L317.1 840.2L317.4 838.2L317.8 836.1L318.2 834.1L318.6 832.0L319.0 830.1L319.3 828.1L319.7 826.2L320.1 824.2L320.5 822.3L320.9 820.3L321.2 818.3L321.6 816.3L322.0 814.3L322.4 812.3L322.8 810.3L323.2 808.3L323.6 806.3L323.9 804.3L324.3 802.3L324.7 800.2L325.1 798.2L325.5 796.2L325.8 794.2L326.2 792.1L326.6 790.1L327.0 788.1L327.3 786.1L327.7 784.0L328.1 782.0L328.4 780.0L328.8 778.0L329.1 776.0L329.4 774.0L329.8 772.1L330.1 770.1L330.4 768.2L330.7 766.3L331.0 764.4L331.3 762.5L331.6 760.6L331.9 758.8L332.2 756.9L332.5 755.0L332.8 753.1L333.1 751.2L333.3 749.3L333.6 747.4L333.9 745.5L334.2 743.5L334.5 741.6L334.8 739.6L335.1 737.5L335.4 735.5L335.7 733.4L336.0 731.3L336.3 729.1L336.7 726.9L337.0 724.7L337.3 722.4L337.7 720.0L337.9 718.4L338.2 716.7L338.5 715.0L338.7 713.3L339.0 711.6L339.2 709.8L339.5 708.0L339.8 706.2L340.0 704.4L340.3 702.6L340.6 700.7L340.9 698.8L341.2 696.9L341.5 695.0L341.7 693.1L342.0 691.1L342.3 689.1L342.6 687.2L342.9 685.2L343.2 683.2L343.5 681.1L343.8 679.1L344.1 677.1L344.4 675.0L344.7 672.9L345.1 670.9L345.4 668.8L345.7 666.7L346.0 664.6L346.3 662.5L346.6 660.4L346.9 658.3L347.2 656.2L347.5 654.0L347.9 651.9L348.2 649.8L348.5 647.7L348.8 645.5L349.1 643.4L349.4 641.3L349.7 639.2L350.0 637.0L350.4 634.9L350.7 632.8L351.0 630.7L351.3 628.6L351.6 626.5L351.9 624.4L352.2 622.3L352.5 620.2L352.8 618.2L353.1 616.1L353.4 614.0L353.7 612.0L354.0 610.0L354.3 607.9L354.6 605.9L354.8 603.9L355.1 602.0L355.4 600.0L355.7 598.0L356.0 595.9L356.3 593.8L356.6 591.8L356.9 589.7L357.1 587.6L357.4 585.5L357.7 583.5L358.0 581.4L358.3 579.3L358.6 577.2L358.9 575.1L359.2 573.0L359.5 570.9L359.8 568.8L360.1 566.7L360.3 564.6L360.6 562.5L360.9 560.4L361.2 558.3L361.5 556.2L361.8 554.1L362.1 552.0L362.3 549.9L362.6 547.8L362.9 545.7L363.2 543.7L363.5 541.6L363.7 539.5L364.0 537.5L364.3 535.5L364.6 533.4L364.9 531.4L365.1 529.4L365.4 527.4L365.7 525.4L365.9 523.4L366.2 521.4L366.5 519.4L366.7 517.5L367.0 515.5L367.3 513.6L367.5 511.7L367.8 509.8L368.0 507.9L368.3 506.1L368.5 504.2L368.8 502.4L369.0 500.5L369.3 498.7L369.5 497.0L369.8 495.2L370.0 493.4L370.3 491.7L370.5 490.0L370.8 487.7L371.1 485.5L371.4 483.3L371.7 481.2L372.0 479.1L372.3 477.1L372.6 475.1L372.8 473.1L373.1 471.2L373.4 469.2L373.6 467.3L373.9 465.4L374.1 463.6L374.4 461.7L374.7 459.8L374.9 458.0L375.2 456.1L375.4 454.2L375.7 452.3L376.0 450.5L376.2 448.5L376.5 446.6L376.8 444.7L377.1 442.7L377.3 440.7L377.6 438.6L377.9 436.5L378.3 434.4L378.6 432.2L378.9 430.0L379.2 428.2L379.4 426.4L379.7 424.6L380.0 422.8L380.3 420.9L380.6 419.0L380.8 417.1L381.1 415.1L381.5 413.1L381.8 411.1L382.1 409.1L382.4 407.1L382.7 405.0L383.0 403.0L383.4 400.9L383.7 398.8L384.0 396.7L384.3 394.6L384.7 392.5L385.0 390.4L385.3 388.2L385.7 386.1L386.0 384.0L386.4 381.8L386.7 379.7L387.0 377.5L387.4 375.4L387.7 373.3L388.0 371.1L388.4 369.0L388.7 366.9L389.0 364.8L389.4 362.7L389.7 360.6L390.0 358.5L390.3 356.5L390.6 354.4L391.0 352.4L391.3 350.4L391.6 348.4L391.9 346.5L392.2 344.5L392.4 342.6L392.7 340.7L393.0 338.8L393.3 337.0L393.5 335.2L393.8 333.4L394.1 331.6L394.3 329.9L394.6 327.6L394.9 325.3L395.3 323.1L395.6 320.8L395.9 318.6L396.2 316.5L396.4 314.3L396.7 312.2L397.0 310.2L397.3 308.1L397.5 306.0L397.8 304.0L398.1 302.0L398.3 300.0L398.6 298.1L398.8 296.1L399.0 294.1L399.3 292.2L399.5 290.3L399.8 288.4L400.0 286.4L400.2 284.5L400.5 282.6L400.7 280.7L400.9 278.8L401.2 276.9L401.4 275.0L401.7 272.8L401.9 270.6L402.1 268.4L402.4 266.1L402.6 263.8L402.8 261.6L403.0 259.3L403.3 257.1L403.5 254.8L403.7 252.6L403.9 250.5L404.1 248.3L404.3 246.2L404.6 244.2L404.8 242.2L405.0 240.3L405.3 238.5L405.5 236.7L405.8 235.1L406.0 233.5L406.3 232.0L406.9 229.4L407.4 227.1L408.0 225.0L408.6 223.0L409.3 221.2L409.9 219.5L410.8 217.2L411.8 215.1L412.9 213.5L414.4 212.1L415.9 211.4L417.3 212.1L418.5 213.5L419.4 215.1L420.2 217.0L420.9 219.0L421.5 220.8L422.0 222.6L422.5 225.0L422.7 226.2L422.9 227.5L423.1 229.0L423.3 230.6L423.4 232.4L423.6 234.2L423.8 236.2L423.9 238.2L424.1 240.3L424.3 242.5L424.5 244.7L424.6 247.0L424.8 249.3L425.0 251.6L425.2 253.9L425.4 256.3L425.6 258.7L425.8 261.0L426.0 263.3L426.2 265.6L426.4 267.4L426.6 269.2L426.8 271.0L427.0 272.8L427.2 274.7L427.4 276.5L427.6 278.4L427.8 280.3L428.0 282.2L428.2 284.1L428.5 286.1L428.7 288.0L428.9 290.0L429.1 291.9L429.4 293.9L429.6 295.9L429.8 298.0L430.1 300.0L430.3 302.0L430.6 304.1L430.8 306.2L431.0 308.3L431.2 310.4L431.5 312.5L431.7 314.6L431.9 316.7L432.1 318.9L432.4 321.1L432.6 323.3L432.8 325.5L433.0 327.7L433.2 329.9L433.4 331.7L433.5 333.5L433.7 335.3L433.8 337.1L434.0 338.9L434.1 340.7L434.3 342.5L434.4 344.4L434.6 346.2L434.7 348.1L434.9 349.9L435.0 351.8L435.2 353.7L435.3 355.6L435.5 357.5L435.6 359.4L435.8 361.3L435.9 363.2L436.1 365.1L436.2 367.1L436.3 369.0L436.5 371.0L436.6 372.9L436.8 374.9L436.9 376.9L437.0 378.9L437.2 380.9L437.3 382.9L437.4 385.0L437.6 387.0L437.7 389.0L437.8 391.1L438.0 393.2L438.1 395.2L438.2 397.3L438.4 399.4L438.5 401.5L438.6 403.7L438.8 405.8L438.9 407.9L439.0 410.1L439.2 412.3L439.3 414.4L439.4 416.6L439.6 418.8L439.7 421.0L439.8 423.3L439.9 425.5L440.1 427.7L440.2 430.0L440.3 431.7L440.4 433.5L440.5 435.3L440.6 437.1L440.7 438.8L440.8 440.7L440.9 442.5L441.0 444.3L441.1 446.2L441.1 448.0L441.2 449.9L441.3 451.8L441.4 453.6L441.5 455.5L441.6 457.5L441.7 459.4L441.8 461.3L441.9 463.2L442.0 465.2L442.0 467.1L442.1 469.1L442.2 471.1L442.3 473.1L442.4 475.0L442.5 477.0L442.6 479.0L442.6 481.1L442.7 483.1L442.8 485.1L442.9 487.1L443.0 489.1L443.1 491.2L443.1 493.2L443.2 495.3L443.3 497.3L443.4 499.4L443.5 501.5L443.6 503.5L443.6 505.6L443.7 507.7L443.8 509.7L443.9 511.8L444.0 513.9L444.0 516.0L444.1 518.1L444.2 520.2L444.3 522.3L444.4 524.3L444.5 526.4L444.5 528.5L444.6 530.6L444.7 532.7L444.8 534.8L444.9 536.9L444.9 539.0L445.0 541.1L445.1 543.2L445.2 545.2L445.3 547.3L445.4 549.4L445.4 551.5L445.5 553.6L445.6 555.6L445.7 557.7L445.8 559.8L445.8 561.8L445.9 563.9L446.0 566.0L446.1 568.0L446.2 570.1L446.3 572.1L446.4 574.1L446.4 576.2L446.5 578.2L446.6 580.2L446.7 582.2L446.8 584.2L446.9 586.2L447.0 588.2L447.1 590.2L447.1 592.2L447.2 594.1L447.3 596.1L447.4 598.1L447.5 600.0L447.6 602.1L447.7 604.1L447.8 606.2L447.9 608.3L448.0 610.3L448.1 612.4L448.2 614.5L448.3 616.6L448.4 618.6L448.5 620.7L448.6 622.8L448.7 624.9L448.8 626.9L448.9 629.0L449.0 631.1L449.1 633.2L449.2 635.2L449.3 637.3L449.4 639.4L449.5 641.5L449.6 643.5L449.8 645.6L449.9 647.7L450.0 649.8L450.1 651.8L450.2 653.9L450.3 656.0L450.4 658.0L450.5 660.1L450.6 662.1L450.7 664.2L450.8 666.2L450.9 668.3L451.0 670.3L451.1 672.4L451.2 674.4L451.4 676.5L451.5 678.5L451.6 680.5L451.7 682.6L451.8 684.6L451.9 686.6L452.0 688.6L452.1 690.6L452.2 692.6L452.3 694.6L452.4 696.6L452.5 698.6L452.6 700.6L452.7 702.6L452.8 704.6L452.9 706.5L453.0 708.5L453.1 710.5L453.2 712.4L453.3 714.4L453.4 716.3L453.5 718.2L453.6 720.2L453.7 722.1L453.8 724.0L453.9 725.9L454.0 727.8L454.1 729.7L454.2 731.6L454.3 733.5L454.4 735.3L454.5 737.2L454.6 739.1L454.7 740.9L454.8 742.7L454.9 744.6L455.0 746.4L455.1 748.2L455.1 750.0L455.3 752.2L455.4 754.4L455.5 756.5L455.6 758.7L455.7 760.8L455.8 762.9L455.9 765.0L456.0 767.1L456.1 769.2L456.2 771.3L456.2 773.4L456.3 775.4L456.4 777.4L456.5 779.5L456.6 781.5L456.7 783.5L456.8 785.5L456.9 787.5L457.0 789.5L457.1 791.5L457.2 793.4L457.2 795.4L457.3 797.4L457.4 799.3L457.5 801.3L457.6 803.2L457.7 805.2L457.8 807.1L457.9 809.0L457.9 811.0L458.0 812.9L458.1 814.8L458.2 816.8L458.3 818.7L458.4 820.6L458.5 822.6L458.6 824.5L458.6 826.4L458.7 828.4L458.8 830.3L458.9 832.3L459.0 834.2L459.1 836.2L459.2 838.1L459.3 840.1L459.4 842.1L459.5 844.0L459.6 846.0L459.7 848.0L459.8 850.0L459.9 852.0L460.0 854.0L460.1 856.0L460.2 858.0L460.3 860.1L460.4 862.1L460.5 864.1L460.6 866.1L460.7 868.2L460.8 870.2L460.9 872.2L461.0 874.3L461.1 876.3L461.2 878.3L461.3 880.4L461.4 882.4L461.5 884.5L461.6 886.5L461.7 888.5L461.8 890.6L461.9 892.6L462.0 894.6L462.1 896.7L462.3 898.7L462.4 900.7L462.5 902.8L462.6 904.8L462.7 906.8L462.8 908.8L462.9 910.9L463.0 912.9L463.1 914.9L463.2 916.9L463.3 918.9L463.4 920.9L463.5 922.9L463.7 924.8L463.8 926.8L463.9 928.8L464.0 930.8L464.1 932.7L464.2 934.7L464.3 936.6L464.4 938.5L464.5 940.5L464.6 942.4L464.7 944.3L464.8 946.2L465.0 948.1L465.1 950.0L465.2 952.1L465.3 954.3L465.4 956.4L465.6 958.6L465.7 960.7L465.8 962.9L465.9 965.0L466.1 967.2L466.2 969.3L466.3 971.4L466.5 973.6L466.6 975.7L466.7 977.8L466.8 979.9L467.0 982.0L467.1 984.1L467.2 986.2L467.4 988.3L467.5 990.4L467.6 992.4L467.7 994.5L467.9 996.5L468.0 998.6L468.1 1000.6L468.3 1002.6L468.4 1004.6L468.5 1006.6L468.6 1008.5L468.8 1010.5L468.9 1012.4L469.0 1014.2L469.1 1016.1L469.2 1018.0L469.4 1019.8L469.5 1021.6L469.6 1023.4L469.7 1025.2L469.8 1026.9L469.9 1028.7L470.1 1030.9L470.2 1033.0L470.3 1035.1L470.5 1037.2L470.6 1039.2L470.7 1041.1L470.8 1043.0L471.0 1044.9L471.1 1046.8L471.2 1048.7L471.3 1050.6L471.4 1052.4L471.6 1054.3L471.7 1056.1L471.8 1058.0L471.9 1059.9L472.1 1061.9L472.2 1063.8L472.3 1065.8L472.5 1067.8L472.6 1069.9L472.8 1072.1L472.9 1074.3L473.1 1076.1L473.2 1078.0L473.3 1079.9L473.5 1081.8L473.6 1083.7L473.7 1085.7L473.9 1087.7L474.0 1089.7L474.1 1091.7L474.3 1093.8L474.4 1095.8L474.5 1097.9L474.7 1100.0L474.8 1102.1L475.0 1104.3L475.1 1106.4L475.3 1108.5L475.4 1110.7L475.6 1112.8L475.7 1115.0L475.9 1117.1L476.1 1119.3L476.2 1121.4L476.4 1123.6L476.6 1125.7L476.7 1127.8L476.9 1129.9L477.1 1132.0L477.3 1134.1L477.5 1136.1L477.6 1138.1L477.8 1140.1L478.0 1142.1L478.2 1144.1L478.4 1146.0L478.6 1147.9L478.8 1149.8L479.1 1152.0L479.3 1154.2L479.6 1156.4L479.8 1158.6L480.1 1160.8L480.3 1163.0L480.6 1165.2L480.8 1167.3L481.1 1169.4L481.4 1171.5L481.6 1173.6L481.9 1175.7L482.2 1177.7L482.5 1179.8L482.8 1181.8L483.1 1183.7L483.4 1185.7L483.7 1187.6L484.0 1189.5L484.4 1191.4L484.7 1193.3L485.1 1195.1L485.5 1196.8L485.9 1198.6L486.3 1200.3L486.9 1202.6L487.5 1204.9L488.1 1207.1L488.7 1209.2L489.4 1211.3L490.0 1213.3L490.7 1215.2L491.4 1217.1L492.2 1218.8L492.9 1220.5L493.7 1222.1L494.6 1223.5L495.5 1225.0L496.9 1226.9L498.4 1228.6L499.9 1230.1L501.5 1231.4L503.2 1232.4L505.0 1232.9L506.9 1232.8L508.9 1232.2L510.9 1231.5L513.0 1230.7L515.0 1229.7L517.0 1228.5L518.5 1227.4L520.0 1226.2L521.5 1224.8L522.9 1223.3L524.3 1221.6L525.7 1220.0L527.1 1218.4L528.6 1216.9L530.0 1215.5L531.5 1214.0L533.0 1212.6L534.4 1211.1L535.9 1209.8L537.4 1208.4L538.9 1206.9L540.4 1205.4L542.0 1204.0L543.9 1202.7L545.9 1201.9L547.9 1201.2L549.9 1200.7L552.0 1200.4L554.0 1200.5L556.1 1200.9L558.3 1201.4L560.5 1201.9L562.7 1202.5L564.8 1203.1L567.0 1203.8L569.2 1204.6L571.4 1205.5L573.6 1206.3L575.8 1207.2L577.9 1208.1L580.0 1209.1L582.1 1210.1L584.1 1211.3L586.0 1212.4L588.0 1213.5L590.0 1214.9L591.9 1216.2L593.9 1217.4L595.9 1218.5L597.9 1219.5L599.9 1220.4L602.0 1221.0L604.1 1221.2L606.3 1221.2L608.5 1221.4L610.8 1221.4L612.9 1221.4L615.0 1221.6L617.1 1222.2L619.1 1223.2L621.1 1223.8L623.1 1224.1L625.0 1224.1L627.0 1223.5L629.0 1222.4L630.9 1220.7L632.9 1218.6L635.0 1216.7L636.5 1215.8L638.1 1214.9L639.7 1213.9L641.4 1213.0L643.1 1211.9L644.8 1210.8L646.5 1209.5L648.3 1208.1L650.0 1206.6L651.2 1205.2L652.4 1203.7L653.7 1202.1L654.9 1200.4L656.2 1198.8L657.5 1197.4L658.8 1196.1L660.2 1194.8L661.5 1193.4L662.8 1191.9L664.1 1190.3L665.4 1188.7L666.7 1187.1L668.0 1185.5L669.2 1183.9L670.4 1182.2L671.6 1180.3L672.8 1178.4L673.9 1176.4L675.0 1174.5L676.1 1172.5L677.1 1170.7L678.1 1168.9L679.1 1167.2L680.1 1165.4L681.0 1163.7L682.0 1161.9L682.9 1160.2L683.8 1158.3L684.6 1156.5L685.5 1154.6L686.3 1152.6L687.2 1150.6L688.0 1148.6L688.8 1146.6L689.6 1144.6L690.4 1142.6L691.2 1140.7L692.0 1138.8L692.8 1136.8L693.6 1134.7L694.4 1132.6L695.2 1130.5L695.9 1128.4L696.7 1126.3L697.4 1124.3L698.1 1122.3L698.8 1120.3L699.5 1118.4L700.2 1116.5L700.9 1114.7L701.6 1112.8L702.3 1110.9L703.0 1109.0L703.6 1107.1L704.3 1105.2L705.0 1103.2L705.7 1101.3L706.3 1099.3L707.0 1097.4L707.7 1095.5L708.4 1093.6L709.0 1091.7L709.7 1089.8L710.4 1087.9L711.0 1085.9L711.7 1084.0L712.3 1082.0L712.9 1080.0L713.6 1078.0L714.2 1076.0L714.8 1074.1L715.4 1072.1L715.9 1070.2L716.5 1068.3L717.0 1066.4L717.5 1064.5L718.0 1062.5L718.5 1060.6L718.9 1058.6L719.3 1056.6L719.8 1054.6L720.2 1052.6L720.6 1050.6L720.9 1048.6L721.3 1046.6L721.7 1044.6L722.1 1042.7L722.5 1040.7L722.8 1038.8L723.2 1036.8L723.6 1034.9L724.0 1033.1L724.4 1031.2L724.8 1029.3L725.3 1027.2L725.8 1025.1L726.3 1023.0L726.7 1020.9L727.2 1018.9L727.7 1016.8L728.2 1014.8L728.7 1012.8L729.2 1010.8L729.7 1008.8L730.2 1006.9L730.7 1004.9L731.2 1002.9L731.7 1000.8L732.3 998.8L732.8 996.8L733.4 994.8L733.9 992.8L734.5 990.8L735.0 988.9L735.6 986.9L736.2 984.9L736.8 982.8L737.3 980.8L737.9 978.8L738.5 976.7L739.1 974.5L739.7 972.4L740.2 970.5L740.7 968.7L741.3 966.8L741.8 964.9L742.3 963.0L742.9 961.1L743.4 959.2L743.9 957.2L744.5 955.3L745.0 953.3L745.6 951.3L746.1 949.3L746.7 947.2L747.2 945.2L747.8 943.1L748.3 941.0L748.9 938.8L749.4 936.7L750.0 934.5L750.4 932.7L750.8 930.9L751.3 929.1L751.7 927.2L752.1 925.3L752.6 923.4L753.0 921.5L753.5 919.5L753.9 917.5L754.4 915.6L754.8 913.6L755.3 911.6L755.7 909.5L756.2 907.5L756.6 905.5L757.0 903.4L757.5 901.4L757.9 899.4L758.4 897.3L758.8 895.3L759.2 893.3L759.6 891.3L760.0 889.3L760.5 887.3L760.9 885.3L761.3 883.3L761.7 881.4L762.0 879.5L762.4 877.6L762.8 875.5L763.2 873.4L763.6 871.3L764.0 869.3L764.4 867.2L764.8 865.2L765.1 863.2L765.5 861.2L765.8 859.2L766.2 857.2L766.5 855.2L766.9 853.2L767.2 851.2L767.6 849.2L767.9 847.2L768.3 845.2L768.6 843.2L768.9 841.1L769.3 839.1L769.6 837.1L770.0 835.0L770.4 833.0L770.7 830.9L771.1 828.8L771.5 826.8L771.8 824.8L772.2 822.9L772.6 820.9L772.9 818.9L773.3 816.9L773.7 814.9L774.0 812.8L774.4 810.8L774.8 808.8L775.2 806.7L775.6 804.7L775.9 802.6L776.3 800.6L776.7 798.5L777.1 796.5L777.5 794.4L777.8 792.4L778.2 790.3L778.6 788.2L779.0 786.2L779.4 784.1L779.7 782.1L780.1 780.0L780.5 778.0L780.8 775.9L781.2 773.9L781.6 771.9L781.9 769.8L782.3 767.8L782.6 765.9L782.9 763.9L783.3 762.0L783.6 760.0L783.9 758.1L784.3 756.2L784.6 754.3L784.9 752.4L785.2 750.5L785.6 748.6L785.9 746.7L786.2 744.7L786.5 742.8L786.9 740.8L787.2 738.9L787.5 736.9L787.9 734.8L788.2 732.8L788.6 730.7L788.9 728.6L789.3 726.4L789.6 724.2L790.0 722.0L790.4 719.7L790.7 717.3L791.1 714.9L791.4 713.3L791.7 711.6L791.9 710.0L792.2 708.2L792.5 706.5L792.8 704.8L793.1 703.0L793.4 701.2L793.7 699.4L794.0 697.5L794.3 695.7L794.6 693.8L794.9 691.9L795.2 690.0L795.5 688.0L795.8 686.1L796.2 684.1L796.5 682.2L796.8 680.2L797.1 678.2L797.5 676.2L797.8 674.1L798.1 672.1L798.5 670.0L798.8 668.0L799.1 665.9L799.5 663.8L799.8 661.8L800.1 659.7L800.5 657.6L800.8 655.5L801.2 653.4L801.5 651.2L801.8 649.1L802.2 647.0L802.5 644.9L802.8 642.8L803.2 640.6L803.5 638.5L803.8 636.4L804.2 634.2L804.5 632.1L804.8 630.0L805.2 627.9L805.5 625.8L805.8 623.7L806.1 621.6L806.4 619.5L806.8 617.4L807.1 615.3L807.4 613.2L807.7 611.1L808.0 609.1L808.3 607.0L808.6 605.0L808.9 602.9L809.2 600.9L809.5 598.9L809.7 596.9L810.0 594.9L810.3 593.0L810.6 590.9L810.8 588.9L811.1 586.8L811.4 584.8L811.7 582.7L811.9 580.6L812.2 578.5L812.5 576.5L812.8 574.4L813.0 572.3L813.3 570.2L813.5 568.1L813.8 566.0L814.1 563.9L814.3 561.8L814.6 559.7L814.8 557.6L815.1 555.5L815.3 553.4L815.6 551.3L815.8 549.2L816.1 547.1L816.3 545.1L816.6 543.0L816.8 540.9L817.1 538.8L817.3 536.7L817.5 534.7L817.8 532.6L818.0 530.6L818.2 528.5L818.5 526.5L818.7 524.5L818.9 522.4L819.2 520.4L819.4 518.4L819.6 516.4L819.8 514.5L820.1 512.5L820.3 510.5L820.5 508.6L820.7 506.6L820.9 504.7L821.2 502.8L821.4 500.9L821.6 499.0L821.8 497.2L822.0 495.3L822.2 493.5L822.4 491.7L822.6 489.9L822.8 488.1L823.0 486.3L823.3 484.6L823.5 482.9L823.7 481.2L823.9 478.9L824.2 476.6L824.5 474.4L824.7 472.2L825.0 470.1L825.2 468.0L825.4 466.0L825.7 464.0L825.9 462.0L826.1 460.1L826.3 458.1L826.6 456.2L826.8 454.3L827.0 452.4L827.2 450.5L827.4 448.6L827.6 446.7L827.9 444.8L828.1 442.9L828.3 441.0L828.5 439.0L828.8 437.1L829.0 435.1L829.2 433.1L829.5 431.0L829.7 428.9L830.0 426.8L830.2 424.7L830.5 422.4L830.8 420.2L831.0 418.4L831.2 416.6L831.4 414.8L831.7 413.0L831.9 411.1L832.1 409.2L832.4 407.3L832.6 405.3L832.9 403.4L833.1 401.4L833.4 399.4L833.6 397.4L833.9 395.3L834.1 393.3L834.4 391.2L834.7 389.1L834.9 387.1L835.2 385.0L835.5 382.9L835.7 380.7L836.0 378.6L836.3 376.5L836.5 374.4L836.8 372.2L837.1 370.1L837.3 368.0L837.6 365.8L837.9 363.7L838.2 361.6L838.4 359.5L838.7 357.3L839.0 355.2L839.2 353.1L839.5 351.1L839.8 349.0L840.1 346.9L840.3 344.9L840.6 342.9L840.8 340.8L841.1 338.8L841.4 336.9L841.6 334.9L841.9 333.0L842.1 331.1L842.4 329.2L842.6 327.3L842.8 325.5L843.1 323.7L843.3 321.9L843.5 320.2L843.8 318.4L844.1 316.2L844.4 313.9L844.7 311.7L845.0 309.5L845.2 307.4L845.5 305.3L845.8 303.2L846.1 301.1L846.4 299.0L846.7 297.0L846.9 295.0L847.2 293.0L847.5 291.0L847.8 289.1L848.0 287.1L848.3 285.2L848.6 283.3L848.8 281.4L849.1 279.5L849.3 277.6L849.6 275.7L849.8 273.8L850.1 272.0L850.4 270.1L850.6 268.2L850.9 266.4L851.1 264.5L851.4 262.6L851.6 260.5L851.9 258.4L852.2 256.2L852.4 254.0L852.7 251.8L852.9 249.6L853.2 247.4L853.4 245.2L853.7 243.1L853.9 240.9L854.2 238.8L854.4 236.7L854.6 234.7L854.9 232.7L855.1 230.7L855.4 228.8L855.7 227.0L855.9 225.2L856.2 223.5L856.5 221.9L856.8 220.4L857.1 218.9L857.7 216.3L858.3 213.9L858.9 211.8L859.6 209.8L860.3 208.0L861.0 206.2L861.9 203.9L862.9 201.8L864.1 200.1L866.0 198.6L868.0 198.0L869.9 198.7L871.7 200.1L872.7 201.7L873.5 203.7L874.2 205.7L874.9 207.5L875.5 209.4L876.0 211.8L876.2 213.0L876.4 214.4L876.6 215.9L876.8 217.6L877.0 219.3L877.1 221.2L877.3 223.2L877.5 225.2L877.7 227.4L877.8 229.6L878.0 231.8L878.2 234.1L878.3 236.5L878.5 238.9L878.7 241.2L878.9 243.6L879.0 246.0L879.2 248.4L879.4 250.8L879.6 253.1L879.8 254.9L880.0 256.7L880.1 258.6L880.3 260.4L880.5 262.3L880.7 264.2L880.9 266.1L881.1 268.0L881.3 270.0L881.4 271.9L881.6 273.9L881.8 275.9L882.0 277.9L882.2 279.9L882.4 281.9L882.6 283.9L882.8 286.0L883.0 288.0L883.2 290.1L883.4 292.2L883.6 294.3L883.8 296.4L884.0 298.6L884.2 300.7L884.4 302.9L884.6 305.1L884.8 307.3L885.0 309.5L885.2 311.7L885.4 313.9L885.6 316.2L885.8 318.4L885.9 320.3L886.1 322.1L886.2 323.9L886.3 325.7L886.5 327.6L886.6 329.4L886.8 331.3L886.9 333.2L887.1 335.0L887.2 336.9L887.3 338.8L887.5 340.7L887.6 342.6L887.8 344.5L887.9 346.5L888.0 348.4L888.2 350.3L888.3 352.3L888.5 354.3L888.6 356.2L888.7 358.2L888.9 360.2L889.0 362.2L889.2 364.2L889.3 366.2L889.4 368.3L889.6 370.3L889.7 372.3L889.8 374.4L890.0 376.5L890.1 378.6L890.2 380.6L890.4 382.7L890.5 384.9L890.6 387.0L890.8 389.1L890.9 391.3L891.0 393.4L891.2 395.6L891.3 397.8L891.4 399.9L891.6 402.1L891.7 404.4L891.8 406.6L891.9 408.8L892.1 411.1L892.2 413.3L892.3 415.6L892.5 417.9L892.6 420.2L892.7 421.9L892.8 423.7L892.9 425.5L893.0 427.3L893.0 429.1L893.1 430.9L893.2 432.7L893.3 434.6L893.4 436.4L893.5 438.3L893.6 440.1L893.7 442.0L893.8 443.9L893.9 445.8L893.9 447.7L894.0 449.7L894.1 451.6L894.2 453.6L894.3 455.5L894.4 457.5L894.5 459.4L894.5 461.4L894.6 463.4L894.7 465.4L894.8 467.4L894.9 469.4L895.0 471.4L895.0 473.5L895.1 475.5L895.2 477.5L895.3 479.6L895.4 481.6L895.5 483.7L895.5 485.7L895.6 487.8L895.7 489.8L895.8 491.9L895.9 494.0L895.9 496.1L896.0 498.1L896.1 500.2L896.2 502.3L896.3 504.4L896.3 506.5L896.4 508.6L896.5 510.7L896.6 512.8L896.7 514.9L896.7 517.0L896.8 519.1L896.9 521.2L897.0 523.3L897.1 525.4L897.1 527.5L897.2 529.6L897.3 531.7L897.4 533.8L897.5 535.9L897.5 538.0L897.6 540.1L897.7 542.2L897.8 544.3L897.9 546.3L898.0 548.4L898.0 550.5L898.1 552.6L898.2 554.7L898.3 556.7L898.4 558.8L898.4 560.8L898.5 562.9L898.6 565.0L898.7 567.0L898.8 569.0L898.9 571.1L899.0 573.1L899.0 575.1L899.1 577.1L899.2 579.1L899.3 581.1L899.4 583.1L899.5 585.1L899.6 587.1L899.6 589.1L899.7 591.0L899.8 593.0L899.9 595.0L900.0 597.1L900.1 599.2L900.2 601.3L900.3 603.3L900.4 605.4L900.5 607.5L900.6 609.6L900.7 611.7L900.8 613.7L900.9 615.8L901.0 617.9L901.1 620.0L901.2 622.1L901.3 624.1L901.4 626.2L901.5 628.3L901.6 630.4L901.7 632.5L901.8 634.6L901.9 636.6L902.0 638.7L902.1 640.8L902.2 642.9L902.3 644.9L902.4 647.0L902.5 649.1L902.6 651.2L902.7 653.2L902.8 655.3L903.0 657.4L903.1 659.4L903.2 661.5L903.3 663.5L903.4 665.6L903.5 667.6L903.6 669.7L903.7 671.7L903.8 673.8L903.9 675.8L904.0 677.8L904.1 679.9L904.2 681.9L904.3 683.9L904.4 685.9L904.5 687.9L904.6 689.9L904.7 691.9L904.8 693.9L904.9 695.9L905.0 697.9L905.1 699.9L905.2 701.9L905.3 703.8L905.4 705.8L905.5 707.8L905.6 709.7L905.7 711.6L905.8 713.6L905.9 715.5L906.0 717.4L906.1 719.4L906.2 721.3L906.3 723.2L906.4 725.1L906.5 727.0L906.6 728.8L906.7 730.7L906.8 732.6L906.9 734.4L907.0 736.3L907.0 738.1L907.1 740.0L907.2 741.8L907.3 743.6L907.4 745.4L907.5 747.7L907.6 749.9L907.7 752.1L907.8 754.3L907.9 756.4L908.0 758.6L908.1 760.7L908.2 762.8L908.3 765.0L908.4 767.1L908.5 769.2L908.6 771.2L908.7 773.3L908.8 775.4L908.9 777.4L909.0 779.5L909.1 781.5L909.2 783.5L909.3 785.5L909.4 787.6L909.5 789.6L909.6 791.6L909.7 793.6L909.8 795.5L909.9 797.5L910.0 799.5L910.1 801.5L910.2 803.5L910.3 805.4L910.4 807.4L910.4 809.4L910.5 811.3L910.6 813.3L910.7 815.3L910.8 817.2L910.9 819.2L911.0 821.2L911.1 823.1L911.2 825.1L911.3 827.1L911.4 829.0L911.5 831.0L911.6 833.0L911.7 835.0L911.8 837.0L911.9 839.0L912.0 841.0L912.1 843.0L912.2 845.0L912.3 847.1L912.4 849.1L912.5 851.1L912.6 853.2L912.7 855.2L912.8 857.3L912.9 859.3L913.0 861.4L913.1 863.5L913.2 865.5L913.3 867.6L913.4 869.7L913.5 871.7L913.6 873.8L913.7 875.9L913.8 877.9L913.9 880.0L914.0 882.1L914.1 884.2L914.2 886.2L914.3 888.3L914.4 890.4L914.5 892.4L914.6 894.5L914.7 896.6L914.8 898.6L914.9 900.7L915.0 902.8L915.1 904.8L915.2 906.9L915.3 908.9L915.4 911.0L915.5 913.0L915.6 915.0L915.7 917.1L915.8 919.1L915.9 921.1L916.0 923.1L916.1 925.1L916.2 927.1L916.3 929.1L916.4 931.1L916.5 933.1L916.6 935.1L916.7 937.1L916.9 939.0L917.0 941.0L917.1 942.9L917.2 944.9L917.3 946.8L917.4 948.7L917.5 950.8L917.6 953.0L917.7 955.1L917.8 957.2L918.0 959.3L918.1 961.5L918.2 963.6L918.3 965.7L918.4 967.8L918.5 970.0L918.7 972.1L918.8 974.2L918.9 976.3L919.0 978.4L919.1 980.5L919.3 982.6L919.4 984.7L919.5 986.7L919.6 988.8L919.7 990.8L919.9 992.9L920.0 994.9L920.1 996.9L920.2 998.9L920.3 1000.9L920.4 1002.9L920.6 1004.9L920.7 1006.8L920.8 1008.8L920.9 1010.7L921.0 1012.6L921.2 1014.5L921.3 1016.3L921.4 1018.2L921.5 1020.0L921.7 1021.8L921.8 1023.6L921.9 1025.4L922.0 1027.1L922.1 1028.8L922.3 1031.0L922.4 1033.2L922.6 1035.3L922.8 1037.4L922.9 1039.4L923.1 1041.3L923.2 1043.3L923.4 1045.2L923.5 1047.1L923.7 1049.0L923.8 1050.8L924.0 1052.7L924.1 1054.6L924.3 1056.4L924.5 1058.3L924.6 1060.2L924.8 1062.2L924.9 1064.1L925.1 1066.1L925.3 1068.2L925.5 1070.3L925.7 1072.5L925.8 1074.7L926.0 1076.5L926.1 1078.4L926.3 1080.2L926.5 1082.2L926.6 1084.1L926.8 1086.1L926.9 1088.1L927.1 1090.2L927.3 1092.2L927.4 1094.3L927.6 1096.4L927.8 1098.5L927.9 1100.6L928.1 1102.8L928.3 1104.9L928.4 1107.1L928.6 1109.2L928.8 1111.4L929.0 1113.6L929.2 1115.7L929.3 1117.9L929.5 1120.0L929.7 1122.1L929.9 1124.3L930.1 1126.3L930.3 1128.4L930.5 1130.5L930.7 1132.5L930.8 1134.5L931.0 1136.5L931.2 1138.4L931.4 1140.4L931.6 1142.3L931.8 1144.1L932.1 1145.9L932.3 1147.7L932.5 1149.4L932.7 1151.7L933.0 1153.9L933.3 1156.1L933.5 1158.2L933.8 1160.4L934.0 1162.5L934.3 1164.6L934.6 1166.7L934.8 1168.8L935.1 1170.8L935.4 1172.9L935.7 1174.9L936.0 1176.9L936.3 1178.9L936.6 1180.8L936.9 1182.7L937.2 1184.6L937.6 1186.5L938.0 1188.3L938.4 1190.0L938.8 1191.7L939.2 1193.4L939.8 1195.5L940.4 1197.7L941.0 1199.8L941.6 1201.9L942.2 1204.0L942.8 1206.1L943.5 1208.1L944.2 1210.1L945.0 1212.0L945.8 1214.0L946.6 1215.8L947.5 1217.5L948.5 1219.0L950.3 1221.3L952.3 1223.2L954.4 1225.3L956.6 1226.7L958.8 1227.1L960.5 1227.0L962.1 1226.6L963.9 1225.7L965.6 1224.5L967.4 1223.2L969.1 1221.8L970.8 1220.4L972.5 1219.0L974.1 1217.3L975.7 1215.4L977.3 1213.6L978.8 1211.9L980.3 1210.1L981.8 1208.2L983.4 1206.4L985.0 1204.8L986.7 1203.5L988.5 1202.2L990.4 1201.0L992.2 1199.9L994.0 1198.9L995.8 1198.0L997.5 1197.3L999.6 1196.5L1001.7 1195.9L1003.8 1195.5L1006.0 1195.4L1007.8 1195.6L1009.8 1196.1L1011.8 1196.8L1013.9 1197.4L1016.0 1198.2L1018.0 1199.0L1020.0 1199.8L1021.9 1200.6L1023.7 1201.4L1025.5 1202.2L1027.2 1203.2L1029.0 1204.5L1030.7 1205.9L1032.5 1207.3L1034.3 1208.5L1036.1 1209.7L1037.8 1211.1L1039.6 1212.5L1041.4 1213.8L1043.2 1214.8L1045.0 1215.7L1047.1 1216.7L1049.1 1217.7L1051.2 1218.4L1053.3 1219.0L1055.4 1219.7L1057.5 1220.2L1059.6 1220.4L1061.8 1220.7L1063.9 1221.1L1066.1 1221.5L1068.1 1221.9L1070.0 1222.2L1072.6 1222.8L1075.0 1223.3L1077.5 1223.3L1079.4 1222.6L1081.4 1221.3L1083.4 1219.8L1085.4 1218.2L1087.5 1216.8L1089.0 1215.8L1090.5 1214.7L1092.0 1213.5L1093.5 1212.3L1095.0 1210.9L1096.6 1209.5L1098.3 1208.1L1100.0 1206.7L1101.2 1205.7L1102.5 1204.7L1103.8 1203.5L1105.2 1202.2L1106.6 1201.2L1108.0 1200.2L1109.4 1199.3L1110.9 1198.1L1112.3 1196.6L1113.8 1195.2L1115.3 1193.9L1116.8 1192.5L1118.2 1191.0L1119.6 1189.3L1121.0 1187.6L1122.4 1185.9L1123.7 1184.1L1125.0 1182.5L1126.2 1180.8L1127.5 1179.0L1128.7 1177.1L1129.8 1175.2L1131.0 1173.3L1132.2 1171.6L1133.3 1169.9L1134.5 1168.1L1135.6 1166.2L1136.7 1164.2L1137.8 1162.2L1138.9 1160.4L1139.9 1158.6L1141.0 1156.8L1142.0 1154.8L1143.0 1152.8L1144.0 1150.8L1145.0 1148.7L1145.8 1147.0L1146.6 1145.2L1147.4 1143.5L1148.1 1141.6L1148.9 1139.7L1149.6 1137.8L1150.4 1135.8L1151.1 1133.8L1151.8 1131.8L1152.5 1129.8L1153.1 1127.8L1153.8 1125.8L1154.5 1123.8L1155.1 1121.9L1155.8 1119.9L1156.4 1117.9L1157.1 1116.0L1157.7 1114.0L1158.3 1112.0L1158.9 1110.1L1159.5 1108.1L1160.1 1106.1L1160.7 1104.2L1161.3 1102.2L1161.9 1100.3L1162.5 1098.5L1163.1 1096.5L1163.7 1094.6L1164.3 1092.7L1164.9 1090.8L1165.5 1088.9L1166.1 1087.0L1166.7 1085.1L1167.3 1083.1L1167.8 1081.2L1168.4 1079.4L1168.9 1077.5L1169.5 1075.6L1170.0 1073.8L1170.5 1072.0L1171.1 1070.1L1171.6 1068.3L1172.1 1066.4L1172.6 1064.5L1173.1 1062.6L1173.6 1060.7L1174.1 1058.7L1174.5 1056.7L1175.0 1054.7L1175.4 1052.8L1175.8 1050.9L1176.2 1049.0L1176.6 1047.0L1177.0 1045.0L1177.4 1043.0L1177.7 1041.0L1178.1 1038.9L1178.4 1036.8L1178.7 1034.8L1179.1 1032.7L1179.4 1030.6L1179.7 1028.5L1180.0 1026.4L1180.4 1024.3L1180.7 1022.2L1181.0 1020.1L1181.3 1018.0L1181.7 1016.0L1182.0 1014.0L1182.3 1012.0L1182.7 1010.1L1183.0 1008.2L1183.4 1006.4L1183.7 1004.6L1184.1 1002.8L1184.4 1001.2L1185.0 998.9L1185.5 996.7L1186.1 994.6L1186.6 992.5L1187.2 990.6L1187.7 988.6L1188.3 986.7L1188.9 984.9L1189.5 983.0L1190.0 981.1L1190.6 979.1L1191.2 977.2L1191.8 975.1L1192.4 973.0L1192.9 971.2L1193.4 969.3L1193.9 967.5L1194.5 965.6L1195.0 963.7L1195.5 961.8L1196.1 959.9L1196.6 958.0L1197.1 956.1L1197.7 954.1L1198.2 952.1L1198.8 950.1L1199.3 948.1L1199.9 946.1L1200.4 944.0L1201.0 941.9L1201.5 939.8L1202.0 937.7L1202.6 935.5L1203.0 933.7L1203.5 931.8L1203.9 929.9L1204.4 928.0L1204.8 926.1L1205.3 924.1L1205.7 922.1L1206.2 920.1L1206.7 918.1L1207.1 916.1L1207.6 914.0L1208.1 912.0L1208.5 909.9L1209.0 907.8L1209.4 905.7L1209.9 903.6L1210.3 901.6L1210.8 899.5L1211.2 897.4L1211.7 895.3L1212.1 893.3L1212.5 891.2L1213.0 889.2L1213.4 887.1L1213.8 885.1L1214.2 883.1L1214.6 881.1L1215.0 879.2L1215.4 877.1L1215.8 875.1L1216.2 873.0L1216.6 871.0L1217.0 869.0L1217.4 867.0L1217.7 865.0L1218.1 863.0L1218.4 861.0L1218.8 859.0L1219.1 857.1L1219.5 855.1L1219.8 853.1L1220.2 851.1L1220.5 849.2L1220.9 847.2L1221.2 845.2L1221.6 843.2L1221.9 841.2L1222.3 839.2L1222.7 837.1L1223.0 835.1L1223.4 833.0L1223.8 830.9L1224.1 829.0L1224.5 827.1L1224.9 825.1L1225.2 823.1L1225.6 821.1L1226.0 819.2L1226.3 817.2L1226.7 815.2L1227.1 813.2L1227.5 811.2L1227.9 809.1L1228.2 807.1L1228.6 805.1L1229.0 803.1L1229.4 801.0L1229.8 799.0L1230.1 797.0L1230.5 794.9L1230.9 792.9L1231.3 790.9L1231.7 788.8L1232.0 786.8L1232.4 784.8L1232.8 782.7L1233.1 780.7L1233.5 778.7L1233.8 776.7L1234.2 774.6L1234.6 772.6L1234.9 770.7L1235.2 768.7L1235.6 766.8L1235.9 764.9L1236.2 763.0L1236.5 761.1L1236.9 759.2L1237.2 757.3L1237.5 755.4L1237.8 753.5L1238.1 751.6L1238.4 749.7L1238.8 747.8L1239.1 745.9L1239.4 744.0L1239.7 742.0L1240.0 740.0L1240.4 738.0L1240.7 736.0L1241.0 733.9L1241.4 731.8L1241.7 729.7L1242.0 727.5L1242.4 725.3L1242.8 723.0L1243.1 720.7L1243.5 718.3L1243.8 716.7L1244.0 715.1L1244.3 713.4L1244.6 711.7L1244.8 710.0L1245.1 708.3L1245.4 706.5L1245.7 704.7L1246.0 702.9L1246.2 701.1L1246.5 699.3L1246.8 697.4L1247.1 695.5L1247.4 693.6L1247.7 691.7L1248.0 689.8L1248.3 687.9L1248.7 685.9L1249.0 684.0L1249.3 682.0L1249.6 680.0L1249.9 678.0L1250.2 676.0L1250.5 673.9L1250.9 671.9L1251.2 669.8L1251.5 667.8L1251.8 665.7L1252.1 663.7L1252.5 661.6L1252.8 659.5L1253.1 657.4L1253.4 655.3L1253.8 653.2L1254.1 651.1L1254.4 649.0L1254.7 646.9L1255.0 644.8L1255.4 642.7L1255.7 640.6L1256.0 638.5L1256.3 636.4L1256.6 634.3L1256.9 632.2L1257.3 630.1L1257.6 628.0L1257.9 626.0L1258.2 623.9L1258.5 621.8L1258.8 619.7L1259.1 617.7L1259.4 615.6L1259.7 613.6L1260.0 611.6L1260.3 609.6L1260.6 607.5L1260.8 605.6L1261.1 603.6L1261.4 601.6L1261.7 599.6L1262.0 597.7L1262.2 595.6L1262.5 593.6L1262.8 591.5L1263.1 589.4L1263.4 587.3L1263.6 585.3L1263.9 583.2L1264.2 581.1L1264.5 579.0L1264.7 576.9L1265.0 574.7L1265.3 572.6L1265.6 570.5L1265.8 568.4L1266.1 566.3L1266.4 564.2L1266.6 562.1L1266.9 560.0L1267.2 557.8L1267.4 555.7L1267.7 553.6L1268.0 551.5L1268.2 549.4L1268.5 547.3L1268.7 545.2L1269.0 543.2L1269.2 541.1L1269.5 539.0L1269.7 536.9L1270.0 534.9L1270.2 532.8L1270.5 530.8L1270.7 528.7L1271.0 526.7L1271.2 524.7L1271.5 522.7L1271.7 520.7L1271.9 518.7L1272.2 516.7L1272.4 514.7L1272.6 512.8L1272.9 510.8L1273.1 508.9L1273.3 507.0L1273.6 505.1L1273.8 503.2L1274.0 501.4L1274.2 499.5L1274.4 497.7L1274.7 495.9L1274.9 494.1L1275.1 492.3L1275.3 490.6L1275.5 488.8L1275.7 487.1L1276.0 484.8L1276.3 482.6L1276.6 480.4L1276.8 478.3L1277.1 476.2L1277.3 474.1L1277.6 472.1L1277.8 470.1L1278.0 468.2L1278.3 466.2L1278.5 464.3L1278.7 462.4L1279.0 460.5L1279.2 458.6L1279.4 456.8L1279.6 454.9L1279.8 453.0L1280.1 451.1L1280.3 449.2L1280.5 447.3L1280.8 445.4L1281.0 443.5L1281.2 441.5L1281.5 439.5L1281.7 437.5L1282.0 435.4L1282.3 433.3L1282.5 431.2L1282.8 429.0L1283.1 426.8L1283.3 425.0L1283.6 423.2L1283.8 421.4L1284.1 419.5L1284.3 417.6L1284.6 415.7L1284.8 413.8L1285.1 411.8L1285.3 409.8L1285.6 407.8L1285.9 405.8L1286.1 403.7L1286.4 401.7L1286.7 399.6L1287.0 397.5L1287.2 395.4L1287.5 393.3L1287.8 391.2L1288.1 389.1L1288.4 386.9L1288.7 384.8L1289.0 382.6L1289.3 380.5L1289.5 378.3L1289.8 376.2L1290.1 374.0L1290.4 371.9L1290.7 369.7L1291.0 367.6L1291.3 365.5L1291.6 363.3L1291.9 361.2L1292.2 359.1L1292.5 357.0L1292.8 354.9L1293.0 352.9L1293.3 350.8L1293.6 348.8L1293.9 346.7L1294.2 344.7L1294.4 342.8L1294.7 340.8L1295.0 338.9L1295.3 337.0L1295.5 335.1L1295.8 333.2L1296.0 331.4L1296.3 329.6L1296.6 327.9L1296.8 326.1L1297.1 323.8L1297.5 321.5L1297.8 319.2L1298.1 317.0L1298.5 314.8L1298.8 312.6L1299.1 310.5L1299.4 308.4L1299.7 306.3L1300.1 304.2L1300.4 302.1L1300.7 300.1L1301.0 298.1L1301.3 296.1L1301.6 294.1L1301.9 292.1L1302.2 290.2L1302.5 288.2L1302.8 286.3L1303.1 284.4L1303.4 282.4L1303.7 280.5L1304.0 278.6L1304.3 276.7L1304.5 274.8L1304.8 272.9L1305.1 270.9L1305.4 268.7L1305.7 266.5L1306.0 264.3L1306.3 262.0L1306.6 259.7L1306.9 257.4L1307.2 255.2L1307.4 252.9L1307.7 250.7L1308.0 248.5L1308.3 246.3L1308.5 244.1L1308.8 242.0L1309.1 240.0L1309.4 238.0L1309.6 236.1L1309.9 234.2L1310.2 232.5L1310.5 230.8L1310.8 229.2L1311.1 227.7L1311.7 225.1L1312.3 222.8L1312.9 220.6L1313.5 218.7L1314.2 216.9L1314.8 215.1L1315.8 212.8L1316.7 210.8L1317.8 209.1L1319.3 207.7L1320.8 207.0L1322.2 207.7L1323.6 209.1L1324.5 210.7L1325.3 212.7L1326.0 214.6L1326.6 216.4L1327.2 218.2L1327.7 220.7L1327.9 221.9L1328.0 223.2L1328.2 224.7L1328.4 226.4L1328.6 228.1L1328.7 229.9L1328.9 231.9L1329.0 233.9L1329.2 236.0L1329.3 238.2L1329.5 240.5L1329.7 242.7L1329.8 245.1L1330.0 247.4L1330.2 249.8L1330.3 252.1L1330.5 254.5L1330.7 256.9L1330.9 259.2L1331.1 261.5L1331.3 263.3L1331.5 265.1L1331.6 266.9L1331.8 268.8L1332.0 270.6L1332.2 272.5L1332.4 274.4L1332.6 276.3L1332.8 278.2L1333.0 280.1L1333.2 282.1L1333.5 284.0L1333.7 286.0L1333.9 288.0L1334.1 290.0L1334.3 292.0L1334.5 294.0L1334.8 296.1L1335.0 298.1L1335.2 300.2L1335.4 302.3L1335.7 304.4L1335.9 306.5L1336.1 308.6L1336.3 310.8L1336.5 312.9L1336.8 315.1L1337.0 317.3L1337.2 319.5L1337.4 321.7L1337.6 323.9L1337.8 326.1L1338.0 327.9L1338.1 329.7L1338.3 331.5L1338.5 333.4L1338.6 335.2L1338.8 337.0L1338.9 338.8L1339.1 340.7L1339.3 342.6L1339.4 344.4L1339.6 346.3L1339.8 348.2L1339.9 350.1L1340.1 351.9L1340.2 353.9L1340.4 355.8L1340.6 357.7L1340.7 359.6L1340.9 361.6L1341.0 363.5L1341.2 365.5L1341.4 367.4L1341.5 369.4L1341.7 371.4L1341.8 373.4L1342.0 375.4L1342.1 377.4L1342.3 379.5L1342.4 381.5L1342.6 383.5L1342.8 385.6L1342.9 387.7L1343.1 389.7L1343.2 391.8L1343.4 393.9L1343.5 396.0L1343.7 398.2L1343.8 400.3L1344.0 402.4L1344.1 404.6L1344.3 406.8L1344.4 408.9L1344.6 411.1L1344.7 413.3L1344.8 415.5L1345.0 417.8L1345.1 420.0L1345.3 422.2L1345.4 424.5L1345.5 426.8L1345.7 428.5L1345.8 430.3L1345.9 432.1L1346.0 433.9L1346.1 435.7L1346.2 437.5L1346.3 439.3L1346.4 441.2L1346.5 443.0L1346.6 444.9L1346.7 446.8L1346.8 448.6L1346.9 450.5L1347.0 452.5L1347.0 454.4L1347.1 456.3L1347.2 458.2L1347.3 460.2L1347.4 462.1L1347.5 464.1L1347.6 466.1L1347.7 468.1L1347.8 470.1L1347.9 472.1L1348.0 474.1L1348.1 476.1L1348.2 478.1L1348.2 480.1L1348.3 482.2L1348.4 484.2L1348.5 486.2L1348.6 488.3L1348.7 490.3L1348.8 492.4L1348.9 494.5L1348.9 496.5L1349.0 498.6L1349.1 500.7L1349.2 502.8L1349.3 504.9L1349.4 506.9L1349.5 509.0L1349.5 511.1L1349.6 513.2L1349.7 515.3L1349.8 517.4L1349.9 519.5L1350.0 521.6L1350.0 523.7L1350.1 525.8L1350.2 527.9L1350.3 530.0L1350.4 532.1L1350.5 534.2L1350.6 536.3L1350.6 538.4L1350.7 540.5L1350.8 542.6L1350.9 544.7L1351.0 546.8L1351.1 548.9L1351.1 551.0L1351.2 553.1L1351.3 555.2L1351.4 557.3L1351.5 559.3L1351.6 561.4L1351.7 563.5L1351.8 565.5L1351.8 567.6L1351.9 569.6L1352.0 571.7L1352.1 573.7L1352.2 575.8L1352.3 577.8L1352.4 579.8L1352.5 581.8L1352.6 583.8L1352.6 585.8L1352.7 587.8L1352.8 589.8L1352.9 591.8L1353.0 593.8L1353.1 595.7L1353.2 597.7L1353.3 599.8L1353.4 601.8L1353.5 603.9L1353.6 606.0L1353.7 608.1L1353.8 610.2L1353.9 612.3L1354.0 614.3L1354.1 616.4L1354.3 618.5L1354.4 620.6L1354.5 622.7L1354.6 624.8L1354.7 626.9L1354.8 628.9L1354.9 631.0L1355.0 633.1L1355.1 635.2L1355.2 637.3L1355.4 639.4L1355.5 641.5L1355.6 643.5L1355.7 645.6L1355.8 647.7L1355.9 649.8L1356.0 651.9L1356.1 653.9L1356.2 656.0L1356.4 658.1L1356.5 660.2L1356.6 662.2L1356.7 664.3L1356.8 666.3L1356.9 668.4L1357.0 670.5L1357.1 672.5L1357.3 674.6L1357.4 676.6L1357.5 678.7L1357.6 680.7L1357.7 682.7L1357.8 684.8L1357.9 686.8L1358.0 688.8L1358.1 690.8L1358.3 692.8L1358.4 694.8L1358.5 696.8L1358.6 698.8L1358.7 700.8L1358.8 702.8L1358.9 704.8L1359.0 706.8L1359.1 708.7L1359.2 710.7L1359.3 712.7L1359.4 714.6L1359.5 716.6L1359.6 718.5L1359.7 720.4L1359.8 722.4L1360.0 724.3L1360.1 726.2L1360.1 728.1L1360.2 730.0L1360.3 731.9L1360.4 733.8L1360.5 735.6L1360.6 737.5L1360.7 739.3L1360.8 741.2L1360.9 743.0L1361.0 744.9L1361.1 746.7L1361.2 748.5L1361.3 750.7L1361.4 752.9L1361.5 755.1L1361.6 757.2L1361.7 759.4L1361.8 761.5L1361.9 763.6L1362.0 765.7L1362.1 767.8L1362.2 769.9L1362.3 772.0L1362.4 774.0L1362.5 776.1L1362.6 778.1L1362.7 780.2L1362.7 782.2L1362.8 784.2L1362.9 786.2L1363.0 788.2L1363.1 790.2L1363.2 792.2L1363.3 794.1L1363.3 796.1L1363.4 798.1L1363.5 800.0L1363.6 802.0L1363.7 803.9L1363.8 805.9L1363.9 807.9L1363.9 809.8L1364.0 811.7L1364.1 813.7L1364.2 815.6L1364.3 817.6L1364.4 819.5L1364.4 821.5L1364.5 823.4L1364.6 825.4L1364.7 827.3L1364.8 829.3L1364.9 831.2L1365.0 833.2L1365.1 835.1L1365.2 837.1L1365.2 839.1L1365.3 841.1L1365.4 843.0L1365.5 845.0L1365.6 847.0L1365.7 849.0L1365.8 851.0L1365.9 853.1L1366.0 855.1L1366.1 857.1L1366.2 859.1L1366.3 861.2L1366.4 863.2L1366.5 865.3L1366.6 867.3L1366.8 869.3L1366.9 871.4L1367.0 873.4L1367.1 875.5L1367.2 877.5L1367.3 879.6L1367.4 881.6L1367.5 883.7L1367.6 885.7L1367.7 887.8L1367.8 889.8L1367.9 891.9L1368.0 893.9L1368.2 896.0L1368.3 898.0L1368.4 900.0L1368.5 902.1L1368.6 904.1L1368.7 906.2L1368.8 908.2L1368.9 910.2L1369.0 912.2L1369.1 914.3L1369.3 916.3L1369.4 918.3L1369.5 920.3L1369.6 922.3L1369.7 924.3L1369.8 926.3L1369.9 928.2L1370.0 930.2L1370.1 932.2L1370.2 934.2L1370.3 936.1L1370.4 938.1L1370.6 940.0L1370.7 941.9L1370.8 943.9L1370.9 945.8L1371.0 947.7L1371.1 949.6L1371.2 951.7L1371.3 953.9L1371.4 956.1L1371.5 958.2L1371.6 960.4L1371.7 962.5L1371.8 964.7L1371.9 966.8L1372.1 969.0L1372.2 971.1L1372.3 973.3L1372.4 975.4L1372.5 977.5L1372.6 979.7L1372.7 981.8L1372.8 983.9L1372.9 986.0L1373.0 988.1L1373.1 990.2L1373.2 992.3L1373.3 994.3L1373.4 996.4L1373.5 998.4L1373.6 1000.5L1373.7 1002.5L1373.8 1004.5L1373.9 1006.5L1374.0 1008.4L1374.1 1010.4L1374.3 1012.3L1374.4 1014.2L1374.5 1016.1L1374.6 1018.0L1374.8 1019.8L1374.9 1021.6L1375.0 1023.5L1375.2 1025.3L1375.3 1027.0L1375.4 1028.8L1375.6 1031.0L1375.8 1033.2L1376.0 1035.3L1376.2 1037.4L1376.4 1039.4L1376.6 1041.4L1376.9 1043.4L1377.1 1045.3L1377.3 1047.2L1377.5 1049.1L1377.8 1050.9L1378.0 1052.8L1378.2 1054.6L1378.4 1056.5L1378.7 1058.4L1378.9 1060.3L1379.1 1062.2L1379.4 1064.2L1379.6 1066.2L1379.8 1068.2L1380.0 1070.3L1380.3 1072.5L1380.5 1074.7L1380.7 1076.5L1380.8 1078.3L1381.0 1080.2L1381.2 1082.1L1381.3 1084.0L1381.5 1086.0L1381.6 1088.0L1381.8 1090.0L1381.9 1092.1L1382.1 1094.1L1382.3 1096.2L1382.4 1098.3L1382.6 1100.4L1382.7 1102.6L1382.9 1104.7L1383.0 1106.9L1383.2 1109.0L1383.4 1111.2L1383.5 1113.3L1383.7 1115.5L1383.8 1117.6L1384.0 1119.8L1384.2 1121.9L1384.3 1124.0L1384.5 1126.1L1384.7 1128.2L1384.8 1130.3L1385.0 1132.3L1385.2 1134.4L1385.4 1136.4L1385.6 1138.3L1385.7 1140.3L1385.9 1142.2L1386.1 1144.1L1386.3 1145.9L1386.5 1147.7L1386.7 1149.4L1387.0 1151.7L1387.3 1153.9L1387.5 1156.1L1387.8 1158.3L1388.1 1160.5L1388.3 1162.6L1388.6 1164.8L1388.9 1166.8L1389.1 1168.9L1389.4 1171.0L1389.7 1173.0L1390.0 1175.0L1390.3 1177.0L1390.6 1179.0L1391.0 1180.9L1391.3 1182.8L1391.7 1184.7L1392.0 1186.6L1392.4 1188.5L1392.8 1190.3L1393.3 1192.1L1393.7 1193.9L1394.3 1196.2L1394.9 1198.6L1395.5 1200.9L1396.1 1203.2L1396.7 1205.4L1397.4 1207.6L1398.1 1209.7L1398.8 1211.7L1399.6 1213.6L1400.4 1215.5L1401.3 1217.4L1402.2 1219.1L1403.2 1220.7L1405.0 1222.9L1407.1 1224.7L1409.2 1226.7L1411.4 1228.1L1413.6 1228.2L1415.3 1227.3L1417.0 1225.9L1418.8 1224.3L1420.5 1222.5L1422.3 1219.7L1424.1 1216.7L1425.8 1214.2L1427.5 1212.5L1429.1 1211.0L1430.6 1209.4L1432.2 1207.8L1433.7 1206.3L1435.2 1205.1L1436.7 1204.1L1438.3 1203.3L1440.0 1202.3L1441.8 1201.2L1443.6 1200.2L1445.5 1199.3L1447.4 1198.3L1449.3 1197.2L1451.2 1196.1L1453.1 1195.2L1455.0 1194.6L1457.1 1194.5L1459.2 1194.6L1461.3 1194.8L1463.3 1195.2L1465.4 1196.1L1467.5 1197.0L1469.4 1197.6L1471.2 1198.5L1473.1 1199.4L1475.0 1200.5L1476.9 1201.6L1478.7 1202.6L1480.6 1203.6L1482.5 1204.6L1484.4 1205.4L1486.3 1206.2L1488.1 1207.0L1490.0 1208.0L1491.9 1208.8L1493.7 1209.4L1495.6 1210.2L1497.5 1211.1L1499.4 1212.0L1501.2 1212.9L1503.1 1213.8L1504.9 1215.0L1506.8 1216.6L1508.7 1218.1L1510.6 1219.2L1512.5 1220.3L1514.6 1221.7L1516.7 1222.9L1518.9 1223.6L1521.0 1223.7L1523.2 1223.7L1525.4 1223.9L1527.5 1223.7L1529.7 1223.3L1531.9 1222.9L1534.1 1222.6L1536.3 1222.4L1538.4 1221.8L1540.5 1221.2L1542.5 1220.6L1544.2 1219.9L1545.8 1219.0L1547.3 1217.9L1548.8 1216.7L1550.2 1215.4L1551.7 1214.0L1553.3 1212.4L1555.0 1210.3L1556.2 1208.7L1557.4 1207.1L1558.6 1205.5L1559.9 1204.0L1561.2 1202.4L1562.5 1200.8L1563.9 1199.0L1565.3 1197.2L1566.7 1195.5L1568.0 1194.0L1569.4 1192.7L1570.8 1191.3L1572.2 1189.9L1573.6 1188.3L1574.9 1186.6L1576.2 1184.8L1577.5 1183.2L1578.8 1181.5L1580.0 1179.9L1581.2 1178.2L1582.4 1176.4L1583.6 1174.5L1584.8 1172.7L1586.0 1170.9L1587.2 1169.2L1588.3 1167.7L1589.5 1166.2L1590.6 1164.8L1591.7 1163.5L1592.8 1162.0L1593.9 1160.4L1594.9 1158.8L1596.0 1157.3L1597.0 1155.8L1598.0 1154.4L1599.0 1152.9L1600.0 1151.3L1600.8 1149.8L1601.5 1148.1L1602.3 1146.4L1603.0 1144.6L1603.7 1142.8L1604.4 1140.9L1605.1 1139.1L1605.7 1137.1L1606.4 1135.2L1607.0 1133.2L1607.7 1131.2L1608.3 1129.2L1608.9 1127.1L1609.5 1125.0L1610.1 1122.9L1610.7 1120.7L1611.3 1118.5L1611.9 1116.4L1612.5 1114.2L1613.0 1112.0L1613.6 1109.9L1614.2 1107.8L1614.7 1105.7L1615.3 1103.7L1615.8 1101.7L1616.4 1099.8L1616.9 1097.8L1617.5 1095.9L1618.1 1093.8L1618.7 1091.8L1619.3 1089.7L1619.9 1087.7L1620.5 1085.7L1621.1 1083.7L1621.7 1081.8L1622.2 1079.8L1622.8 1077.9L1623.3 1076.0L1623.9 1074.0L1624.4 1072.1L1625.0 1070.2L1625.5 1068.3L1626.0 1066.4L1626.6 1064.4L1627.1 1062.5L1627.6 1060.5L1628.1 1058.6L1628.6 1056.6L1629.1 1054.6L1629.5 1052.6L1630.0 1050.6L1630.4 1048.5L1630.9 1046.5L1631.3 1044.4L1631.7 1042.4L1632.1 1040.3L1632.5 1038.1L1632.9 1036.0L1633.3 1033.9L1633.6 1031.7L1634.0 1029.6L1634.3 1027.4L1634.7 1025.3L1635.0 1023.1L1635.4 1021.0L1635.7 1018.9L1636.1 1016.8L1636.4 1014.8L1636.8 1012.7L1637.1 1010.7L1637.5 1008.8L1637.8 1006.9L1638.2 1005.0L1638.6 1003.2L1639.0 1001.5L1639.5 999.2L1640.0 997.1L1640.5 995.0L1641.0 993.0L1641.6 991.1L1642.1 989.2L1642.6 987.3L1643.1 985.4L1643.7 983.5L1644.2 981.6L1644.8 979.7L1645.3 977.7L1645.9 975.7L1646.4 973.6L1646.9 971.8L1647.4 970.0L1647.9 968.1L1648.3 966.3L1648.8 964.4L1649.3 962.6L1649.8 960.7L1650.3 958.8L1650.8 956.9L1651.3 954.9L1651.9 953.0L1652.4 951.0L1652.9 949.0L1653.4 947.0L1653.9 944.9L1654.4 942.9L1654.9 940.8L1655.4 938.7L1655.9 936.5L1656.4 934.7L1656.8 932.9L1657.2 931.0L1657.7 929.1L1658.1 927.2L1658.5 925.3L1659.0 923.3L1659.4 921.3L1659.9 919.3L1660.3 917.3L1660.7 915.3L1661.2 913.2L1661.6 911.2L1662.1 909.1L1662.5 907.1L1663.0 905.0L1663.4 903.0L1663.8 900.9L1664.3 898.8L1664.7 896.8L1665.1 894.7L1665.5 892.7L1665.9 890.7L1666.3 888.7L1666.7 886.7L1667.1 884.7L1667.5 882.8L1667.9 880.8L1668.3 878.8L1668.7 876.7L1669.1 874.7L1669.5 872.7L1669.8 870.7L1670.2 868.7L1670.6 866.8L1670.9 864.8L1671.3 862.8L1671.6 860.9L1672.0 858.9L1672.3 857.0L1672.7 855.0L1673.0 853.1L1673.3 851.1L1673.7 849.2L1674.0 847.2L1674.4 845.2L1674.7 843.2L1675.1 841.2L1675.4 839.2L1675.8 837.2L1676.2 835.2L1676.6 833.1L1676.9 831.2L1677.3 829.3L1677.6 827.3L1678.0 825.4L1678.4 823.4L1678.7 821.5L1679.1 819.5L1679.5 817.5L1679.9 815.5L1680.3 813.5L1680.6 811.5L1681.0 809.5L1681.4 807.5L1681.8 805.5L1682.2 803.5L1682.6 801.5L1682.9 799.5L1683.3 797.5L1683.7 795.5L1684.1 793.5L1684.5 791.5L1684.8 789.4L1685.2 787.4L1685.6 785.4L1686.0 783.4L1686.3 781.4L1686.7 779.4L1687.1 777.4L1687.4 775.4L1687.8 773.5L1688.1 771.6L1688.4 769.7L1688.8 767.8L1689.1 765.9L1689.4 764.0L1689.8 762.1L1690.1 760.3L1690.4 758.4L1690.7 756.5L1691.1 754.7L1691.4 752.8L1691.7 750.9L1692.0 749.0L1692.3 747.1L1692.7 745.1L1693.0 743.2L1693.3 741.2L1693.7 739.2L1694.0 737.1L1694.4 735.1L1694.7 733.0L1695.1 730.8L1695.4 728.6L1695.8 726.4L1696.2 724.1L1696.6 721.7L1696.8 720.1L1697.1 718.5L1697.4 716.8L1697.6 715.1L1697.9 713.4L1698.2 711.6L1698.5 709.8L1698.8 708.0L1699.1 706.2L1699.4 704.4L1699.7 702.5L1700.0 700.7L1700.3 698.8L1700.6 696.9L1701.0 695.0L1701.3 693.0L1701.6 691.1L1701.9 689.1L1702.2 687.1L1702.6 685.1L1702.9 683.1L1703.2 681.1L1703.5 679.1L1703.9 677.0L1704.2 675.0L1704.5 672.9L1704.9 670.8L1705.2 668.8L1705.5 666.7L1705.9 664.6L1706.2 662.5L1706.6 660.4L1706.9 658.3L1707.2 656.2L1707.6 654.1L1707.9 651.9L1708.2 649.8L1708.6 647.7L1708.9 645.6L1709.2 643.5L1709.5 641.4L1709.9 639.3L1710.2 637.2L1710.5 635.1L1710.8 633.0L1711.2 630.9L1711.5 628.8L1711.8 626.7L1712.1 624.6L1712.4 622.5L1712.7 620.5L1713.0 618.4L1713.3 616.4L1713.6 614.3L1713.9 612.3L1714.2 610.3L1714.5 608.3L1714.8 606.3L1715.1 604.4L1715.4 602.4L1715.7 600.4L1715.9 598.3L1716.2 596.3L1716.5 594.2L1716.8 592.2L1717.1 590.1L1717.3 588.0L1717.6 586.0L1717.9 583.9L1718.2 581.8L1718.4 579.7L1718.7 577.6L1719.0 575.5L1719.2 573.5L1719.5 571.4L1719.8 569.3L1720.0 567.2L1720.3 565.1L1720.6 563.0L1720.8 560.9L1721.1 558.8L1721.3 556.8L1721.6 554.7L1721.8 552.6L1722.1 550.5L1722.3 548.5L1722.6 546.4L1722.8 544.4L1723.1 542.3L1723.3 540.3L1723.6 538.2L1723.8 536.2L1724.1 534.2L1724.3 532.2L1724.5 530.2L1724.8 528.2L1725.0 526.2L1725.2 524.3L1725.5 522.3L1725.7 520.4L1725.9 518.4L1726.2 516.5L1726.4 514.6L1726.6 512.7L1726.9 510.9L1727.1 509.0L1727.3 507.2L1727.5 505.3L1727.7 503.5L1728.0 501.7L1728.2 499.9L1728.4 498.2L1728.6 496.5L1728.8 494.7L1729.1 493.0L1729.3 490.8L1729.6 488.6L1729.9 486.4L1730.1 484.3L1730.4 482.2L1730.7 480.2L1730.9 478.2L1731.1 476.2L1731.4 474.3L1731.6 472.4L1731.8 470.5L1732.1 468.6L1732.3 466.7L1732.5 464.9L1732.8 463.0L1733.0 461.2L1733.2 459.3L1733.5 457.5L1733.7 455.6L1733.9 453.7L1734.2 451.8L1734.4 449.9L1734.7 447.9L1734.9 446.0L1735.2 444.0L1735.5 441.9L1735.8 439.9L1736.1 437.7L1736.4 435.6L1736.7 433.4L1736.9 431.6L1737.2 429.8L1737.5 428.0L1737.7 426.2L1738.0 424.3L1738.3 422.4L1738.6 420.5L1738.9 418.5L1739.2 416.6L1739.5 414.6L1739.8 412.6L1740.1 410.6L1740.4 408.5L1740.8 406.5L1741.1 404.4L1741.4 402.4L1741.7 400.3L1742.1 398.2L1742.4 396.1L1742.8 393.9L1743.1 391.8L1743.4 389.7L1743.8 387.6L1744.1 385.5L1744.5 383.3L1744.8 381.2L1745.1 379.1L1745.5 377.0L1745.8 374.8L1746.2 372.7L1746.5 370.6L1746.9 368.5L1747.2 366.4L1747.5 364.4L1747.9 362.3L1748.2 360.3L1748.5 358.2L1748.8 356.2L1749.1 354.2L1749.5 352.3L1749.8 350.3L1750.1 348.4L1750.4 346.4L1750.7 344.6L1750.9 342.7L1751.2 340.9L1751.5 339.1L1751.8 337.3L1752.0 335.5L1752.3 333.8L1752.6 331.5L1753.0 329.3L1753.3 327.0L1753.6 324.8L1753.9 322.6L1754.2 320.5L1754.6 318.4L1754.9 316.3L1755.1 314.2L1755.4 312.1L1755.7 310.1L1756.0 308.1L1756.3 306.1L1756.6 304.1L1756.8 302.2L1757.1 300.2L1757.4 298.3L1757.6 296.3L1757.9 294.4L1758.2 292.5L1758.4 290.6L1758.7 288.7L1758.9 286.8L1759.2 284.9L1759.4 283.0L1759.7 281.1L1760.0 279.2L1760.2 277.1L1760.5 274.9L1760.8 272.6L1761.1 270.4L1761.3 268.1L1761.6 265.9L1761.8 263.6L1762.1 261.4L1762.3 259.2L1762.6 257.0L1762.8 254.8L1763.1 252.7L1763.3 250.6L1763.6 248.6L1763.8 246.7L1764.1 244.8L1764.3 242.9L1764.6 241.2L1764.9 239.5L1765.2 238.0L1765.5 236.5L1766.1 233.9L1766.7 231.6L1767.3 229.5L1767.9 227.6L1768.5 225.8L1769.2 224.1L1770.1 221.7L1771.1 219.7L1772.2 218.1L1773.9 216.6L1775.5 216.0L1776.8 216.7L1777.9 218.1L1779.2 220.6L1780.3 223.6L1780.9 225.3L1781.4 227.1L1781.9 229.5L1782.1 230.7L1782.3 232.1L1782.5 233.5L1782.6 235.1L1782.8 236.9L1783.0 238.7L1783.2 240.6L1783.3 242.6L1783.5 244.7L1783.7 246.9L1783.9 249.1L1784.0 251.4L1784.2 253.6L1784.4 256.0L1784.6 258.3L1784.8 260.7L1785.0 263.0L1785.2 265.3L1785.4 267.6L1785.7 269.9L1785.8 271.7L1786.0 273.5L1786.2 275.3L1786.4 277.1L1786.7 278.9L1786.9 280.8L1787.1 282.6L1787.3 284.5L1787.5 286.4L1787.8 288.3L1788.0 290.2L1788.2 292.2L1788.5 294.1L1788.7 296.1L1788.9 298.1L1789.2 300.1L1789.4 302.1L1789.7 304.1L1789.9 306.1L1790.2 308.2L1790.4 310.2L1790.6 312.3L1790.9 314.4L1791.1 316.5L1791.4 318.6L1791.6 320.8L1791.8 322.9L1792.1 325.1L1792.3 327.2L1792.5 329.4L1792.7 331.6L1792.9 333.8L1793.1 335.6L1793.3 337.5L1793.4 339.3L1793.6 341.1L1793.8 343.0L1793.9 344.8L1794.1 346.7L1794.3 348.5L1794.4 350.4L1794.6 352.3L1794.7 354.2L1794.9 356.1L1795.1 358.0L1795.2 359.9L1795.4 361.8L1795.5 363.8L1795.7 365.7L1795.8 367.7L1796.0 369.6L1796.1 371.6L1796.3 373.6L1796.4 375.6L1796.6 377.6L1796.7 379.6L1796.9 381.6L1797.0 383.6L1797.2 385.7L1797.3 387.7L1797.5 389.8L1797.6 391.8L1797.8 393.9L1797.9 396.0L1798.1 398.1L1798.2 400.2L1798.4 402.4L1798.5 404.5L1798.6 406.7L1798.8 408.8L1798.9 411.0L1799.1 413.2L1799.2 415.4L1799.4 417.6L1799.5 419.8L1799.6 422.0L1799.8 424.3L1799.9 426.5L1800.0 428.8L1800.2 431.1L1800.3 433.4L1800.4 435.1L1800.5 436.9L1800.6 438.7L1800.7 440.5L1800.8 442.3L1800.9 444.1L1801.0 445.9L1801.1 447.8L1801.2 449.6L1801.3 451.5L1801.4 453.4L1801.5 455.3L1801.6 457.2L1801.7 459.1L1801.8 461.0L1801.9 462.9L1802.0 464.9L1802.1 466.8L1802.2 468.8L1802.3 470.8L1802.4 472.7L1802.5 474.7L1802.6 476.7L1802.7 478.7L1802.8 480.7L1802.9 482.8L1803.0 484.8L1803.1 486.8L1803.2 488.8L1803.2 490.9L1803.3 492.9L1803.4 495.0L1803.5 497.0L1803.6 499.1L1803.7 501.2L1803.8 503.3L1803.9 505.3L1804.0 507.4L1804.1 509.5L1804.1 511.6L1804.2 513.7L1804.3 515.8L1804.4 517.9L1804.5 520.0L1804.6 522.1L1804.7 524.2L1804.8 526.3L1804.9 528.4L1804.9 530.5L1805.0 532.6L1805.1 534.7L1805.2 536.8L1805.3 538.9L1805.4 541.0L1805.5 543.1L1805.6 545.2L1805.7 547.3L1805.7 549.4L1805.8 551.5L1805.9 553.6L1806.0 555.7L1806.1 557.8L1806.2 559.9L1806.3 561.9L1806.4 564.0L1806.4 566.1L1806.5 568.2L1806.6 570.2L1806.7 572.3L1806.8 574.3L1806.9 576.4L1807.0 578.4L1807.1 580.5L1807.2 582.5L1807.3 584.5L1807.3 586.5L1807.4 588.6L1807.5 590.6L1807.6 592.6L1807.7 594.5L1807.8 596.5L1807.9 598.5L1808.0 600.5L1808.1 602.4L1808.2 604.5L1808.3 606.6L1808.4 608.7L1808.5 610.7L1808.6 612.8L1808.7 614.9L1808.8 617.0L1808.9 619.1L1809.0 621.2L1809.1 623.3L1809.2 625.4L1809.3 627.5L1809.4 629.6L1809.5 631.7L1809.6 633.7L1809.7 635.8L1809.8 637.9L1809.9 640.0L1810.0 642.1L1810.1 644.2L1810.3 646.3L1810.4 648.4L1810.5 650.5L1810.6 652.6L1810.7 654.6L1810.8 656.7L1810.9 658.8L1811.0 660.9L1811.1 663.0L1811.2 665.0L1811.3 667.1L1811.4 669.2L1811.5 671.2L1811.6 673.3L1811.7 675.4L1811.8 677.4L1811.9 679.5L1812.0 681.5L1812.1 683.6L1812.2 685.6L1812.3 687.6L1812.5 689.7L1812.6 691.7L1812.7 693.7L1812.8 695.7L1812.9 697.8L1813.0 699.8L1813.1 701.8L1813.2 703.8L1813.3 705.8L1813.4 707.7L1813.5 709.7L1813.6 711.7L1813.7 713.7L1813.8 715.6L1813.9 717.6L1814.0 719.5L1814.1 721.5L1814.2 723.4L1814.3 725.4L1814.4 727.3L1814.5 729.2L1814.6 731.1L1814.7 733.0L1814.7 734.9L1814.8 736.8L1814.9 738.7L1815.0 740.5L1815.1 742.4L1815.2 744.2L1815.3 746.1L1815.4 747.9L1815.5 749.8L1815.6 751.6L1815.7 753.8L1815.8 756.0L1815.9 758.2L1816.0 760.4L1816.1 762.5L1816.2 764.7L1816.3 766.8L1816.4 769.0L1816.5 771.1L1816.6 773.2L1816.7 775.2L1816.8 777.3L1816.9 779.4L1817.0 781.4L1817.1 783.5L1817.2 785.5L1817.3 787.6L1817.4 789.6L1817.5 791.6L1817.6 793.6L1817.7 795.6L1817.8 797.6L1817.9 799.6L1818.0 801.6L1818.1 803.5L1818.1 805.5L1818.2 807.5L1818.3 809.4L1818.4 811.4L1818.5 813.4L1818.6 815.3L1818.7 817.3L1818.8 819.3L1818.9 821.2L1819.0 823.2L1819.1 825.1L1819.2 827.1L1819.3 829.1L1819.4 831.0L1819.5 833.0L1819.6 835.0L1819.6 837.0L1819.7 839.0L1819.8 841.0L1819.9 843.0L1820.0 845.0L1820.1 847.0L1820.2 849.0L1820.3 851.0L1820.4 853.0L1820.5 855.1L1820.7 857.1L1820.8 859.2L1820.9 861.2L1821.0 863.3L1821.1 865.3L1821.2 867.4L1821.3 869.4L1821.4 871.5L1821.5 873.6L1821.6 875.6L1821.7 877.7L1821.8 879.8L1821.9 881.8L1822.1 883.9L1822.2 886.0L1822.3 888.0L1822.4 890.1L1822.5 892.2L1822.6 894.2L1822.7 896.3L1822.8 898.4L1822.9 900.4L1823.1 902.5L1823.2 904.5L1823.3 906.6L1823.4 908.6L1823.5 910.7L1823.6 912.7L1823.7 914.8L1823.8 916.8L1823.9 918.8L1824.0 920.9L1824.2 922.9L1824.3 924.9L1824.4 926.9L1824.5 928.9L1824.6 930.9L1824.7 932.9L1824.8 934.9L1824.9 936.9L1825.0 938.8L1825.1 940.8L1825.2 942.7L1825.3 944.7L1825.4 946.6L1825.5 948.5L1825.6 950.4L1825.7 952.6L1825.8 954.7L1825.9 956.8L1826.0 959.0L1826.1 961.1L1826.2 963.2L1826.3 965.4L1826.3 967.5L1826.4 969.6L1826.5 971.8L1826.6 973.9L1826.7 976.0L1826.8 978.1L1826.8 980.2L1826.9 982.3L1827.0 984.4L1827.1 986.5L1827.2 988.5L1827.2 990.6L1827.3 992.6L1827.4 994.7L1827.5 996.7L1827.6 998.7L1827.7 1000.7L1827.8 1002.7L1827.8 1004.7L1827.9 1006.7L1828.0 1008.6L1828.1 1010.6L1828.2 1012.4L1828.3 1014.3L1828.4 1016.1L1828.6 1017.9L1828.7 1019.7L1828.8 1021.5L1828.9 1023.3L1829.0 1025.0L1829.2 1026.8L1829.3 1028.5L1829.5 1030.7L1829.7 1032.8L1829.9 1034.9L1830.1 1036.9L1830.3 1038.9L1830.5 1040.8L1830.7 1042.8L1831.0 1044.6L1831.2 1046.5L1831.4 1048.4L1831.7 1050.2L1831.9 1052.1L1832.1 1053.9L1832.4 1055.7L1832.6 1057.6L1832.9 1059.5L1833.1 1061.4L1833.3 1063.3L1833.6 1065.3L1833.8 1067.3L1834.0 1069.4L1834.2 1071.6L1834.5 1073.8L1834.6 1075.6L1834.8 1077.5L1835.0 1079.4L1835.1 1081.3L1835.3 1083.3L1835.4 1085.3L1835.6 1087.3L1835.7 1089.3L1835.9 1091.4L1836.0 1093.5L1836.2 1095.6L1836.3 1097.7L1836.5 1099.9L1836.6 1102.0L1836.8 1104.2L1836.9 1106.3L1837.1 1108.5L1837.2 1110.7L1837.4 1112.8L1837.5 1115.0L1837.7 1117.2L1837.8 1119.3L1838.0 1121.5L1838.1 1123.6L1838.3 1125.7L1838.5 1127.8L1838.6 1129.9L1838.8 1132.0L1839.0 1134.1L1839.1 1136.1L1839.3 1138.1L1839.5 1140.0L1839.7 1142.0L1839.9 1143.8L1840.1 1145.7L1840.3 1147.5L1840.5 1149.3L1840.8 1151.5L1841.1 1153.8L1841.4 1156.0L1841.7 1158.2L1842.0 1160.4L1842.2 1162.6L1842.5 1164.7L1842.8 1166.8L1843.1 1168.9L1843.4 1170.9L1843.7 1173.0L1844.1 1175.0L1844.4 1176.9L1844.7 1178.9L1845.1 1180.8L1845.5 1182.7L1845.9 1184.6L1846.3 1186.4L1846.7 1188.3L1847.1 1190.1L1847.6 1191.8L1848.1 1193.6L1848.7 1196.0L1849.4 1198.4L1850.1 1200.8L1850.8 1203.2L1851.6 1205.5L1852.4 1207.8L1853.2 1209.9L1854.0 1211.9L1855.0 1213.8L1855.9 1215.7L1856.9 1217.5L1858.0 1219.0L1859.8 1220.8L1861.8 1221.7L1863.9 1222.1L1866.0 1222.0L1868.0 1221.7L1869.8 1220.7L1871.6 1219.0L1873.4 1217.1L1875.1 1215.4L1876.9 1213.9L1878.7 1212.6L1880.5 1211.4L1882.1 1210.2L1883.6 1209.4L1885.1 1208.9L1886.6 1208.3L1888.1 1207.4L1889.7 1206.2L1891.3 1205.2L1893.0 1204.3L1894.8 1203.4L1896.6 1202.3L1898.4 1200.7L1900.3 1199.2L1902.2 1198.0L1904.2 1197.1L1906.1 1196.1L1908.0 1195.3L1910.1 1195.1L1912.3 1195.2L1914.4 1195.6L1916.6 1196.1L1918.7 1196.8L1920.9 1197.6L1923.0 1198.4L1924.9 1199.0L1926.8 1199.8L1928.7 1200.6L1930.6 1201.4L1932.5 1202.3L1934.3 1203.3L1936.2 1204.4L1938.0 1205.4L1939.7 1206.4L1941.4 1207.7L1943.0 1209.0L1944.7 1210.2L1946.3 1211.5L1948.0 1212.7L1949.6 1213.8L1951.3 1214.9L1953.0 1215.9L1954.8 1216.7L1956.7 1217.5L1958.6 1218.3L1960.5 1219.1L1962.4 1219.8L1964.3 1220.5L1966.2 1221.1L1968.0 1221.4L1970.1 1221.6L1972.2 1221.9L1974.3 1222.2L1976.4 1222.2L1978.4 1222.2L1980.5 1222.2L1982.6 1222.6L1984.7 1222.8L1986.8 1222.5L1988.9 1222.1L1991.0 1221.8L1993.0 1221.1L1994.8 1220.2L1996.6 1219.1L1998.4 1218.0L2000.1 1216.8L2001.9 1215.5L2003.6 1214.2L2005.5 1212.8L2006.8 1211.8L2008.0 1210.5L2009.3 1209.1L2010.7 1207.6L2012.0 1206.0L2013.3 1204.4L2014.7 1202.8L2016.1 1201.0L2017.4 1198.9L2018.8 1196.7L2020.2 1194.5L2021.5 1192.6L2022.9 1190.8L2024.2 1189.0L2025.5 1187.0L2026.6 1185.4L2027.8 1183.7L2028.9 1182.1L2030.1 1180.7L2031.2 1179.3L2032.4 1177.9L2033.5 1176.5L2034.7 1175.0L2035.8 1173.2L2037.0 1171.5L2038.1 1169.8L2039.2 1168.1L2040.3 1166.3L2041.4 1164.6L2042.5 1162.8L2043.5 1160.9L2044.5 1158.8L2045.5 1156.8L2046.5 1154.7L2047.4 1152.7L2048.3 1150.8L2049.2 1148.8L2050.1 1146.8L2051.0 1144.7L2051.8 1142.5L2052.6 1140.3L2053.4 1138.0L2054.1 1135.8L2054.9 1133.7L2055.6 1131.5L2056.3 1129.5L2056.9 1127.5L2057.6 1125.5L2058.2 1123.5L2058.9 1121.5L2059.5 1119.6L2060.1 1117.8L2060.7 1116.0L2061.3 1114.4L2062.1 1112.1L2062.9 1110.1L2063.6 1108.1L2064.3 1106.3L2065.0 1104.6L2065.6 1102.9L2066.3 1101.2L2067.0 1099.5L2067.7 1097.7" fill="none" stroke="#000000" stroke-width="10.8" stroke-linejoin="round" stroke-linecap="butt"/><path d="M250.4 1064.7L250.9 1062.8L251.4 1060.9L252.0 1058.9L252.5 1057.0L253.0 1055.1L253.6 1053.2L254.1 1051.3L254.6 1049.3L255.1 1047.4L255.7 1045.4L256.2 1043.5L256.7 1041.5L257.2 1039.5L257.7 1037.5L258.2 1035.5L258.7 1033.5L259.2 1031.6L259.7 1029.7L260.2 1027.5L260.8 1025.4L261.3 1023.3L261.8 1021.2L262.3 1019.2L262.8 1017.2L263.3 1015.2L263.8 1013.2L264.3 1011.2L264.8 1009.2L265.3 1007.2L265.8 1005.3L266.3 1003.3L266.8 1001.3L267.3 999.3L267.8 997.3L268.3 995.4L268.8 993.4L269.3 991.5L269.7 989.5L270.2 987.5L270.7 985.6L271.2 983.6L271.7 981.6L272.2 979.6L272.7 977.5L273.3 975.4L273.8 973.3L274.3 971.5L274.7 969.6L275.2 967.8L275.7 965.9L276.2 964.1L276.7 962.2L277.2 960.3L277.8 958.4L278.3 956.4L278.8 954.5L279.3 952.5L279.8 950.5L280.4 948.5L280.9 946.5L281.4 944.5L282.0 942.4L282.5 940.3L283.0 938.2L283.6 936.0L284.0 934.2L284.5 932.3L284.9 930.5L285.4 928.6L285.9 926.6L286.3 924.7L286.8 922.7L287.3 920.7L287.8 918.7L288.2 916.7L288.7 914.6L289.2 912.6L289.7 910.5L290.2 908.5L290.7 906.4L291.1 904.3L291.6 902.2L292.1 900.2L292.6 898.1L293.0 896.0L293.5 894.0L293.9 891.9L294.4 889.9L294.8 887.9L295.3 885.9L295.7 883.9L296.1 881.9L296.6 880.0L297.0 877.9L297.4 875.9L297.8 873.9L298.2 871.8L298.6 869.8L299.0 867.8L299.4 865.9L299.8 863.9L300.2 861.9L300.6 859.9L300.9 858.0L301.3 856.0L301.7 854.0L302.1 852.1L302.4 850.1L302.8 848.1L303.2 846.2L303.5 844.2L303.9 842.2L304.3 840.2L304.7 838.2L305.1 836.1L305.5 834.1L305.9 832.0L306.3 830.1L306.7 828.2L307.1 826.3L307.4 824.4L307.8 822.5L308.2 820.7L308.6 818.8L309.0 816.9L309.4 815.0L309.8 813.2L310.2 811.3L310.6 809.4L311.0 807.5L311.4 805.6L311.8 803.6L312.2 801.7L312.6 799.7L313.0 797.7L313.4 795.7L313.8 793.6L314.3 791.6L314.7 789.5L315.1 787.3L315.5 785.1L316.0 782.9L316.4 780.7L316.9 778.3L317.3 776.0L317.6 774.4L318.0 772.7L318.3 771.0L318.6 769.2L318.9 767.5L319.3 765.7L319.6 763.9L320.0 762.1L320.3 760.2L320.7 758.3L321.0 756.4L321.4 754.5L321.7 752.5L322.1 750.6L322.5 748.6L322.8 746.6L323.2 744.6L323.6 742.6L323.9 740.5L324.3 738.5L324.7 736.4L325.1 734.3L325.4 732.2L325.8 730.1L326.2 728.0L326.6 725.9L327.0 723.8L327.3 721.7L327.7 719.6L328.1 717.4L328.5 715.3L328.9 713.1L329.3 711.0L329.6 708.9L330.0 706.7L330.4 704.6L330.8 702.4L331.1 700.3L331.5 698.2L331.9 696.1L332.3 693.9L332.6 691.8L333.0 689.7L333.4 687.6L333.7 685.6L334.1 683.5L334.5 681.4L334.8 679.4L335.2 677.4L335.5 675.3L335.9 673.3L336.2 671.4L336.6 669.4L336.9 667.4L337.2 665.5L337.5 663.6L337.9 661.7L338.2 659.8L338.5 658.0L338.9 655.8L339.2 653.7L339.6 651.6L339.9 649.5L340.3 647.3L340.6 645.3L341.0 643.2L341.3 641.1L341.7 639.1L342.0 637.0L342.3 635.0L342.7 633.0L343.0 631.0L343.3 629.0L343.6 627.0L344.0 625.0L344.3 623.0L344.6 621.0L344.9 619.0L345.2 617.1L345.5 615.1L345.8 613.2L346.1 611.2L346.5 609.3L346.8 607.3L347.1 605.4L347.4 603.4L347.7 601.5L348.0 599.5L348.3 597.6L348.6 595.6L348.9 593.7L349.2 591.7L349.5 589.8L349.8 587.8L350.1 585.9L350.4 583.9L350.7 581.9L351.1 580.0L351.4 578.0L351.7 576.0L352.0 574.0L352.3 572.0L352.6 570.0L352.9 568.0L353.3 565.9L353.6 563.9L353.9 561.9L354.2 559.8L354.5 557.8L354.9 555.7L355.2 553.7L355.5 551.6L355.8 549.6L356.1 547.5L356.5 545.5L356.8 543.4L357.1 541.4L357.4 539.3L357.7 537.3L358.0 535.2L358.4 533.2L358.7 531.1L359.0 529.1L359.3 527.0L359.6 525.0L359.9 523.0L360.2 521.0L360.5 519.0L360.8 517.0L361.2 515.0L361.5 513.0L361.8 511.0L362.1 509.0L362.4 507.1L362.7 505.1L363.0 503.2L363.3 501.3L363.6 499.3L363.8 497.5L364.1 495.6L364.4 493.7L364.7 491.8L365.0 490.0L365.3 487.9L365.7 485.7L366.0 483.7L366.3 481.6L366.6 479.6L366.9 477.6L367.2 475.6L367.5 473.7L367.8 471.7L368.1 469.8L368.4 467.9L368.7 466.0L369.0 464.1L369.3 462.2L369.6 460.3L369.9 458.4L370.2 456.5L370.5 454.6L370.8 452.7L371.1 450.8L371.4 448.8L371.7 446.8L372.0 444.8L372.3 442.8L372.6 440.8L373.0 438.7L373.3 436.6L373.6 434.4L374.0 432.2L374.3 430.0L374.6 428.2L374.8 426.5L375.1 424.6L375.4 422.8L375.7 420.9L376.0 419.0L376.3 417.1L376.5 415.2L376.8 413.2L377.1 411.3L377.4 409.3L377.7 407.3L378.0 405.3L378.3 403.2L378.6 401.2L379.0 399.1L379.3 397.0L379.6 395.0L379.9 392.9L380.2 390.8L380.5 388.7L380.8 386.6L381.1 384.4L381.5 382.3L381.8 380.2L382.1 378.1L382.4 376.0L382.7 373.9L383.1 371.7L383.4 369.6L383.7 367.5L384.0 365.4L384.3 363.3L384.6 361.3L384.9 359.2L385.3 357.1L385.6 355.1L385.9 353.0L386.2 351.0L386.5 349.0L386.8 347.0L387.1 345.0L387.4 343.1L387.7 341.1L388.0 339.2L388.3 337.3L388.6 335.5L388.9 333.6L389.2 331.8L389.5 330.0L389.9 327.8L390.2 325.5L390.6 323.3L390.9 321.0L391.3 318.8L391.6 316.6L392.0 314.3L392.3 312.1L392.7 309.9L393.0 307.7L393.4 305.5L393.7 303.3L394.1 301.2L394.4 299.0L394.7 296.9L395.1 294.8L395.4 292.7L395.8 290.7L396.1 288.7L396.4 286.7L396.8 284.7L397.1 282.8L397.4 280.9L397.8 279.0L398.1 277.2L398.5 275.4L398.8 273.6L399.1 271.9L399.5 270.3L399.8 268.7L400.2 267.1L400.5 265.6L401.1 263.1L401.7 260.7L402.3 258.4L402.9 256.3L403.4 254.2L404.0 252.2L404.6 250.3L405.2 248.4L405.8 246.7L406.4 244.9L407.0 243.2L407.8 240.9L408.6 238.7L409.4 236.6L410.2 234.7L411.0 233.0L411.9 231.5L413.9 229.0L415.9 227.8L418.0 229.0L419.9 231.5L420.7 233.0L421.3 234.7L421.9 236.6L422.5 238.7L423.0 240.9L423.6 243.2L424.1 244.9L424.5 246.7L424.9 248.5L425.4 250.3L425.8 252.2L426.3 254.2L426.7 256.3L427.2 258.4L427.6 260.7L428.1 263.1L428.5 265.6L428.8 267.1L429.0 268.7L429.3 270.3L429.5 271.9L429.8 273.6L430.1 275.4L430.3 277.2L430.6 279.0L430.9 280.8L431.2 282.7L431.4 284.7L431.7 286.6L432.0 288.6L432.2 290.6L432.5 292.7L432.8 294.8L433.0 296.9L433.3 299.0L433.6 301.1L433.8 303.3L434.1 305.4L434.3 307.6L434.6 309.8L434.9 312.0L435.1 314.2L435.4 316.5L435.6 318.7L435.9 320.9L436.1 323.2L436.3 325.4L436.6 327.7L436.8 329.9L437.0 331.7L437.2 333.5L437.3 335.3L437.5 337.1L437.7 338.9L437.9 340.7L438.0 342.5L438.2 344.4L438.3 346.2L438.5 348.1L438.7 349.9L438.8 351.8L439.0 353.7L439.1 355.6L439.3 357.5L439.4 359.4L439.6 361.3L439.7 363.2L439.9 365.1L440.0 367.1L440.2 369.0L440.3 371.0L440.5 372.9L440.6 374.9L440.8 376.9L440.9 378.9L441.1 380.9L441.2 382.9L441.3 385.0L441.5 387.0L441.6 389.0L441.8 391.1L441.9 393.2L442.1 395.2L442.2 397.3L442.4 399.4L442.5 401.5L442.6 403.7L442.8 405.8L442.9 407.9L443.1 410.1L443.2 412.3L443.4 414.4L443.5 416.6L443.7 418.8L443.9 421.0L444.0 423.3L444.2 425.5L444.3 427.7L444.5 430.0L444.6 431.7L444.8 433.5L444.9 435.3L445.0 437.1L445.1 438.9L445.3 440.7L445.4 442.5L445.5 444.4L445.7 446.2L445.8 448.1L445.9 450.0L446.1 451.9L446.2 453.8L446.3 455.7L446.5 457.7L446.6 459.6L446.8 461.5L446.9 463.5L447.0 465.5L447.2 467.5L447.3 469.5L447.5 471.5L447.6 473.5L447.8 475.5L447.9 477.5L448.0 479.5L448.2 481.6L448.3 483.6L448.5 485.7L448.6 487.7L448.8 489.8L448.9 491.9L449.1 493.9L449.2 496.0L449.3 498.1L449.5 500.2L449.6 502.3L449.8 504.4L449.9 506.5L450.1 508.6L450.2 510.7L450.4 512.8L450.5 514.9L450.6 517.0L450.8 519.1L450.9 521.2L451.1 523.3L451.2 525.4L451.4 527.5L451.5 529.6L451.6 531.7L451.8 533.8L451.9 535.9L452.1 538.0L452.2 540.1L452.3 542.2L452.5 544.3L452.6 546.4L452.8 548.5L452.9 550.5L453.0 552.6L453.2 554.7L453.3 556.7L453.4 558.8L453.6 560.8L453.7 562.9L453.8 564.9L454.0 566.9L454.1 569.0L454.2 571.0L454.3 573.0L454.5 575.0L454.6 577.0L454.7 578.9L454.8 580.9L455.0 582.9L455.1 584.8L455.2 586.8L455.3 588.7L455.4 590.6L455.6 592.5L455.7 594.4L455.8 596.3L455.9 598.1L456.0 600.0L456.1 602.2L456.3 604.3L456.4 606.5L456.5 608.6L456.6 610.7L456.7 612.9L456.9 615.0L457.0 617.1L457.1 619.2L457.2 621.2L457.3 623.3L457.4 625.4L457.5 627.5L457.6 629.5L457.7 631.6L457.9 633.6L458.0 635.7L458.1 637.7L458.2 639.7L458.3 641.7L458.4 643.8L458.5 645.8L458.6 647.8L458.7 649.8L458.8 651.8L458.9 653.8L459.0 655.8L459.0 657.7L459.1 659.7L459.2 661.7L459.3 663.7L459.4 665.7L459.5 667.6L459.6 669.6L459.7 671.6L459.8 673.6L459.9 675.5L460.0 677.5L460.1 679.5L460.2 681.4L460.3 683.4L460.4 685.4L460.4 687.3L460.5 689.3L460.6 691.2L460.7 693.2L460.8 695.2L460.9 697.2L461.0 699.1L461.1 701.1L461.2 703.1L461.3 705.0L461.4 707.0L461.5 709.0L461.6 711.0L461.7 713.0L461.8 715.0L461.9 717.0L462.0 719.0L462.1 721.0L462.2 723.0L462.3 725.0L462.4 727.0L462.5 729.0L462.6 731.0L462.7 733.0L462.8 735.0L462.9 737.0L463.0 739.0L463.1 741.0L463.2 743.0L463.3 745.0L463.4 747.0L463.5 749.0L463.6 751.0L463.7 753.0L463.8 755.0L463.9 757.0L464.0 759.0L464.1 761.0L464.2 762.9L464.3 764.9L464.4 766.9L464.5 768.9L464.6 770.9L464.7 772.9L464.8 774.9L464.9 776.8L465.0 778.8L465.1 780.8L465.2 782.8L465.3 784.8L465.4 786.8L465.5 788.8L465.6 790.8L465.7 792.8L465.8 794.8L466.0 796.8L466.1 798.8L466.2 800.8L466.3 802.8L466.4 804.8L466.5 806.8L466.6 808.8L466.7 810.9L466.8 812.9L466.9 814.9L467.0 816.9L467.1 819.0L467.2 821.0L467.3 823.0L467.4 825.1L467.5 827.1L467.6 829.2L467.7 831.3L467.8 833.3L468.0 835.4L468.1 837.5L468.2 839.5L468.3 841.6L468.4 843.7L468.5 845.8L468.6 847.9L468.7 850.0L468.8 851.9L468.9 853.8L469.0 855.8L469.1 857.7L469.2 859.7L469.3 861.7L469.4 863.7L469.5 865.7L469.6 867.7L469.7 869.7L469.8 871.7L469.9 873.8L470.0 875.8L470.1 877.9L470.3 880.0L470.4 882.0L470.5 884.1L470.6 886.2L470.7 888.3L470.8 890.4L470.9 892.5L471.0 894.6L471.1 896.7L471.2 898.8L471.3 900.9L471.4 903.0L471.5 905.1L471.6 907.2L471.8 909.4L471.9 911.5L472.0 913.6L472.1 915.7L472.2 917.9L472.3 920.0L472.4 922.1L472.5 924.2L472.6 926.3L472.7 928.4L472.8 930.5L472.9 932.6L473.1 934.7L473.2 936.8L473.3 938.9L473.4 941.0L473.5 943.1L473.6 945.1L473.7 947.2L473.8 949.2L473.9 951.3L474.0 953.3L474.1 955.3L474.2 957.4L474.3 959.4L474.5 961.4L474.6 963.3L474.7 965.3L474.8 967.3L474.9 969.2L475.0 971.2L475.1 973.1L475.2 975.0L475.3 976.9L475.4 978.8L475.5 980.6L475.6 982.5L475.7 984.3L475.8 986.1L475.9 987.9L476.0 989.7L476.1 991.5L476.2 993.2L476.3 994.9L476.4 996.6L476.5 998.3L476.6 1000.0L476.8 1002.4L476.9 1004.7L477.1 1007.0L477.2 1009.2L477.3 1011.4L477.5 1013.5L477.6 1015.6L477.8 1017.7L477.9 1019.8L478.0 1021.8L478.2 1023.8L478.3 1025.8L478.4 1027.8L478.6 1029.7L478.7 1031.6L478.8 1033.6L479.0 1035.5L479.1 1037.4L479.2 1039.2L479.4 1041.1L479.5 1043.0L479.6 1044.8L479.8 1046.7L479.9 1048.6L480.0 1050.4L480.2 1052.3L480.3 1054.1L480.4 1056.0L480.6 1057.8L480.7 1059.7L480.9 1061.6L481.0 1063.5L481.2 1065.4L481.3 1067.3L481.5 1069.2L481.6 1071.2L481.8 1073.2L481.9 1075.3L482.1 1077.3L482.2 1079.4L482.4 1081.4L482.5 1083.4L482.7 1085.5L482.9 1087.6L483.0 1089.6L483.2 1091.7L483.4 1093.7L483.5 1095.8L483.7 1097.9L483.8 1099.9L484.0 1102.0L484.2 1104.1L484.3 1106.1L484.5 1108.2L484.7 1110.2L484.9 1112.3L485.0 1114.3L485.2 1116.4L485.4 1118.4L485.5 1120.5L485.7 1122.5L485.9 1124.5L486.1 1126.6L486.2 1128.6L486.4 1130.6L486.6 1132.6L486.8 1134.6L487.0 1136.6L487.2 1138.6L487.3 1140.6L487.5 1142.5L487.7 1144.5L487.9 1146.4L488.1 1148.4L488.3 1150.5L488.5 1152.6L488.7 1154.6L488.9 1156.7L489.1 1158.8L489.3 1160.9L489.5 1163.0L489.8 1165.1L490.0 1167.1L490.2 1169.2L490.4 1171.3L490.6 1173.4L490.8 1175.4L491.1 1177.5L491.3 1179.5L491.5 1181.6L491.7 1183.6L492.0 1185.7L492.2 1187.7L492.4 1189.7L492.6 1191.7L492.9 1193.8L493.1 1195.8L493.3 1197.7L493.6 1199.7L493.8 1201.7L494.0 1203.7L494.3 1205.6L494.5 1207.5L494.8 1209.5L495.0 1211.4L495.3 1213.5L495.6 1215.6L495.9 1217.7L496.1 1219.8L496.4 1221.9L496.7 1224.0L497.0 1226.2L497.3 1228.3L497.6 1230.4L497.9 1232.5L498.2 1234.6L498.5 1236.7L498.8 1238.8L499.1 1240.9L499.4 1243.0L499.7 1245.1L500.0 1247.1L500.3 1249.1L500.6 1251.2L500.9 1253.2L501.2 1255.1L501.5 1257.1L501.9 1259.0L502.2 1260.9L502.5 1262.8L502.9 1264.9L503.2 1267.0L503.6 1269.1L503.9 1271.2L504.3 1273.2L504.7 1275.3L505.0 1277.3L505.4 1279.3L505.7 1281.2L506.1 1283.2L506.5 1285.1L506.9 1287.1L507.3 1289.0L507.7 1290.9L508.1 1292.7L508.6 1294.6L509.0 1296.4L509.5 1298.3L510.0 1300.1L510.6 1302.1L511.2 1304.2L511.9 1306.1L512.5 1308.1L513.2 1310.0L513.9 1311.9L514.6 1313.7L515.3 1315.6L516.1 1317.4L516.8 1319.3L517.6 1321.1L518.4 1322.9L519.2 1324.6L520.0 1326.2L521.0 1328.2L522.0 1330.1L523.0 1332.0L524.1 1333.8L525.1 1335.6L526.3 1337.4L527.4 1339.1L528.7 1340.7L530.0 1342.0L531.9 1343.5L533.9 1344.8L536.0 1346.0L538.2 1346.8L540.4 1347.1L542.5 1347.1L544.6 1346.9L546.7 1346.6L548.8 1346.1L550.9 1345.4L553.0 1344.6L555.0 1343.7L556.8 1342.7L558.6 1341.7L560.4 1340.4L562.2 1339.0L563.9 1337.7L565.7 1336.4L567.5 1335.3L569.3 1334.4L571.1 1333.5L572.9 1332.6L574.7 1331.7L576.5 1330.8L578.2 1329.8L580.0 1328.8L581.6 1327.8L583.2 1326.8L584.8 1325.8L586.3 1324.7L587.9 1323.4L589.4 1322.1L591.0 1320.8L592.5 1319.4L593.9 1318.1L595.3 1316.7L596.7 1315.3L598.1 1313.9L599.5 1312.5L600.9 1311.0L602.3 1309.7L603.6 1308.4L605.0 1307.1L606.4 1305.8L607.8 1304.3L609.2 1302.8L610.6 1301.3L612.0 1299.8L613.4 1298.3L614.8 1296.7L616.1 1295.1L617.5 1293.4L618.8 1291.9L620.1 1290.3L621.4 1288.7L622.6 1287.1L623.9 1285.4L625.1 1283.7L626.4 1282.0L627.6 1280.2L628.8 1278.4L630.0 1276.4L631.0 1274.5L632.0 1272.5L633.0 1270.6L634.0 1268.6L635.0 1266.6L636.0 1264.6L636.9 1262.6L637.8 1260.5L638.8 1258.3L639.7 1256.1L640.6 1253.9L641.6 1251.8L642.5 1249.7L643.3 1247.9L644.1 1246.0L644.9 1244.1L645.7 1242.1L646.5 1240.1L647.3 1238.1L648.0 1236.1L648.8 1234.2L649.6 1232.3L650.4 1230.3L651.1 1228.4L651.9 1226.4L652.7 1224.4L653.4 1222.5L654.2 1220.5L655.0 1218.6L655.8 1216.7L656.6 1214.8L657.4 1213.0L658.1 1211.3L658.9 1209.6L659.7 1208.0L660.5 1206.3L661.3 1204.7L662.1 1203.0L662.9 1201.2L663.7 1199.3L664.4 1197.5L665.2 1195.7L666.0 1194.0L666.7 1192.2L667.5 1190.5L668.2 1188.8L668.9 1187.0L669.6 1185.2L670.3 1183.3L671.0 1181.4L671.7 1179.4L672.4 1177.3L673.1 1175.3L673.8 1173.2L674.5 1171.1L675.2 1169.0L675.9 1166.9L676.6 1164.8L677.2 1162.8L677.9 1160.9L678.6 1158.8L679.3 1156.7L680.0 1154.5L680.7 1152.4L681.4 1150.2L682.1 1148.1L682.8 1146.0L683.5 1143.9L684.2 1141.9L684.9 1140.0L685.6 1138.0L686.3 1135.9L687.0 1133.9L687.7 1131.8L688.4 1129.7L689.1 1127.6L689.8 1125.5L690.5 1123.4L691.1 1121.4L691.8 1119.4L692.5 1117.4L693.1 1115.5L693.8 1113.6L694.4 1111.7L695.1 1109.7L695.7 1107.8L696.4 1105.9L697.0 1103.9L697.6 1101.9L698.3 1099.9L698.9 1097.9L699.5 1096.0L700.2 1094.1L700.8 1092.2L701.4 1090.3L702.0 1088.4L702.6 1086.6L703.2 1084.7L703.8 1082.7L704.4 1080.8L705.0 1078.8L705.5 1076.9L706.1 1075.0L706.6 1073.1L707.2 1071.2L707.7 1069.3L708.2 1067.5L708.8 1065.6L709.3 1063.8L709.8 1061.9L710.4 1060.0L710.9 1058.1L711.4 1056.2L711.9 1054.2L712.4 1052.3L712.9 1050.3L713.3 1048.4L713.8 1046.5L714.3 1044.6L714.7 1042.7L715.2 1040.8L715.6 1039.0L716.0 1037.1L716.4 1035.1L716.9 1033.0L717.3 1031.0L717.6 1029.0L718.0 1026.9L718.4 1024.9L718.7 1022.8L719.1 1020.8L719.4 1018.8L719.7 1016.8L720.1 1014.8L720.4 1012.8L720.7 1010.8L721.0 1008.9L721.4 1006.9L721.7 1005.0L722.1 1003.2L722.4 1001.3L722.8 999.2L723.3 997.2L723.7 995.2L724.1 993.2L724.5 991.3L724.9 989.4L725.3 987.5L725.7 985.5L726.2 983.6L726.6 981.7L727.0 979.7L727.5 977.7L727.9 975.7L728.4 973.6L728.8 971.7L729.3 969.8L729.7 967.8L730.1 965.9L730.6 963.9L731.0 961.9L731.5 960.0L732.0 958.0L732.4 955.9L732.9 953.9L733.4 951.8L733.9 949.7L734.3 947.6L734.8 945.5L735.3 943.3L735.8 941.1L736.3 938.9L736.8 936.7L737.2 934.9L737.7 933.1L738.1 931.2L738.5 929.3L739.0 927.4L739.4 925.5L739.8 923.5L740.3 921.5L740.7 919.6L741.2 917.6L741.7 915.5L742.1 913.5L742.6 911.5L743.1 909.4L743.5 907.4L744.0 905.3L744.5 903.3L744.9 901.2L745.4 899.2L745.8 897.1L746.3 895.1L746.7 893.1L747.2 891.1L747.6 889.1L748.0 887.1L748.5 885.1L748.9 883.2L749.3 881.3L749.7 879.2L750.1 877.2L750.5 875.2L750.9 873.2L751.3 871.2L751.7 869.2L752.1 867.3L752.5 865.3L752.9 863.4L753.3 861.4L753.6 859.5L754.0 857.5L754.4 855.6L754.8 853.7L755.1 851.7L755.5 849.8L755.9 847.8L756.3 845.8L756.7 843.9L757.0 841.9L757.4 839.9L757.8 837.9L758.2 835.8L758.6 833.8L759.0 831.9L759.4 830.0L759.8 828.1L760.2 826.3L760.6 824.4L760.9 822.6L761.3 820.7L761.7 818.9L762.1 817.0L762.5 815.2L762.9 813.3L763.3 811.4L763.7 809.5L764.1 807.6L764.5 805.7L764.9 803.8L765.3 801.8L765.7 799.9L766.1 797.9L766.5 795.8L766.9 793.8L767.3 791.7L767.8 789.6L768.2 787.4L768.6 785.2L769.1 783.0L769.5 780.7L770.0 778.4L770.3 776.8L770.6 775.1L770.9 773.4L771.3 771.7L771.6 770.0L771.9 768.2L772.3 766.4L772.6 764.6L773.0 762.7L773.3 760.9L773.7 759.0L774.0 757.1L774.4 755.2L774.7 753.2L775.1 751.3L775.5 749.3L775.9 747.3L776.2 745.3L776.6 743.3L777.0 741.3L777.4 739.2L777.7 737.2L778.1 735.1L778.5 733.0L778.9 730.9L779.3 728.8L779.6 726.7L780.0 724.6L780.4 722.5L780.8 720.4L781.2 718.3L781.6 716.2L781.9 714.1L782.3 712.0L782.7 709.8L783.1 707.7L783.5 705.6L783.9 703.5L784.2 701.4L784.6 699.3L785.0 697.2L785.4 695.1L785.7 693.0L786.1 691.0L786.5 688.9L786.8 686.9L787.2 684.8L787.6 682.8L787.9 680.8L788.3 678.8L788.6 676.8L789.0 674.8L789.3 672.9L789.6 671.0L790.0 669.1L790.3 667.2L790.6 665.3L791.0 663.5L791.3 661.6L791.6 659.5L792.0 657.4L792.4 655.3L792.7 653.2L793.1 651.1L793.4 649.0L793.8 647.0L794.1 644.9L794.5 642.9L794.8 640.9L795.1 638.9L795.5 636.9L795.8 634.9L796.1 632.9L796.5 630.9L796.8 629.0L797.1 627.0L797.4 625.0L797.8 623.1L798.1 621.1L798.4 619.2L798.7 617.3L799.0 615.3L799.3 613.4L799.7 611.5L800.0 609.6L800.3 607.6L800.6 605.7L800.9 603.8L801.2 601.9L801.5 599.9L801.8 598.0L802.2 596.1L802.5 594.1L802.8 592.2L803.1 590.3L803.4 588.3L803.7 586.4L804.1 584.4L804.4 582.5L804.7 580.5L805.0 578.5L805.3 576.5L805.7 574.6L806.0 572.6L806.3 570.6L806.7 568.5L807.0 566.5L807.3 564.5L807.6 562.5L808.0 560.5L808.3 558.4L808.6 556.4L809.0 554.4L809.3 552.3L809.6 550.3L810.0 548.3L810.3 546.2L810.6 544.2L811.0 542.2L811.3 540.1L811.6 538.1L812.0 536.1L812.3 534.1L812.6 532.1L812.9 530.1L813.3 528.1L813.6 526.1L813.9 524.1L814.2 522.1L814.6 520.1L814.9 518.1L815.2 516.2L815.5 514.2L815.8 512.3L816.1 510.4L816.5 508.5L816.8 506.6L817.1 504.7L817.4 502.8L817.7 500.9L818.0 499.1L818.3 497.2L818.6 495.4L818.9 493.3L819.3 491.2L819.6 489.1L819.9 487.1L820.2 485.1L820.6 483.1L820.9 481.2L821.2 479.3L821.5 477.3L821.8 475.4L822.1 473.6L822.4 471.7L822.7 469.8L823.0 467.9L823.3 466.1L823.6 464.2L823.9 462.3L824.3 460.4L824.6 458.5L824.9 456.6L825.2 454.7L825.5 452.7L825.8 450.7L826.1 448.7L826.5 446.7L826.8 444.6L827.2 442.6L827.5 440.4L827.8 438.3L828.2 436.1L828.5 434.3L828.8 432.5L829.1 430.7L829.4 428.9L829.7 427.1L830.0 425.2L830.3 423.3L830.6 421.4L830.9 419.5L831.2 417.5L831.5 415.6L831.8 413.6L832.2 411.6L832.5 409.6L832.8 407.5L833.1 405.5L833.5 403.4L833.8 401.4L834.1 399.3L834.5 397.2L834.8 395.2L835.1 393.1L835.5 391.0L835.8 388.9L836.1 386.8L836.5 384.7L836.8 382.6L837.1 380.5L837.5 378.4L837.8 376.3L838.2 374.2L838.5 372.2L838.8 370.1L839.2 368.0L839.5 366.0L839.8 363.9L840.2 361.9L840.5 359.9L840.8 357.9L841.2 355.9L841.5 353.9L841.8 352.0L842.1 350.0L842.4 348.1L842.8 346.2L843.1 344.4L843.4 342.5L843.7 340.7L844.0 338.9L844.3 337.1L844.7 334.9L845.1 332.7L845.4 330.5L845.8 328.2L846.2 326.0L846.5 323.8L846.9 321.6L847.3 319.4L847.6 317.2L848.0 315.0L848.3 312.9L848.7 310.7L849.1 308.6L849.4 306.5L849.8 304.4L850.1 302.3L850.5 300.2L850.8 298.2L851.2 296.2L851.5 294.2L851.9 292.3L852.2 290.4L852.6 288.5L852.9 286.7L853.3 284.8L853.6 283.1L854.0 281.4L854.3 279.7L854.7 278.0L855.0 276.4L855.4 274.9L855.7 273.4L856.3 270.9L857.0 268.5L857.6 266.3L858.2 264.1L858.8 262.1L859.4 260.1L860.0 258.2L860.6 256.4L861.2 254.7L861.8 252.9L862.4 251.2L863.3 249.0L864.0 246.8L864.8 244.7L865.7 242.8L866.5 241.1L867.5 239.7L869.7 237.2L872.0 236.0L873.7 236.5L875.5 237.9L877.1 239.7L878.0 241.1L878.7 242.8L879.3 244.7L879.9 246.8L880.5 249.0L881.1 251.2L881.6 252.9L882.1 254.7L882.6 256.4L883.1 258.3L883.5 260.1L884.0 262.1L884.5 264.2L884.9 266.3L885.4 268.6L885.8 270.9L886.3 273.4L886.5 274.9L886.8 276.4L887.0 278.0L887.3 279.7L887.5 281.4L887.8 283.1L888.0 284.8L888.3 286.6L888.5 288.5L888.8 290.4L889.0 292.3L889.2 294.2L889.5 296.2L889.7 298.2L889.9 300.2L890.2 302.3L890.4 304.3L890.6 306.4L890.9 308.5L891.1 310.7L891.3 312.8L891.5 315.0L891.7 317.2L892.0 319.3L892.2 321.5L892.4 323.7L892.6 325.9L892.8 328.2L893.0 330.4L893.3 332.6L893.5 334.8L893.7 337.0L893.8 338.8L894.0 340.6L894.2 342.4L894.3 344.3L894.5 346.1L894.6 347.9L894.8 349.8L894.9 351.6L895.1 353.5L895.2 355.4L895.4 357.3L895.5 359.1L895.7 361.0L895.8 362.9L896.0 364.9L896.1 366.8L896.2 368.7L896.4 370.7L896.5 372.6L896.7 374.6L896.8 376.6L896.9 378.5L897.1 380.5L897.2 382.5L897.3 384.5L897.5 386.6L897.6 388.6L897.7 390.6L897.9 392.7L898.0 394.7L898.2 396.8L898.3 398.9L898.4 401.0L898.6 403.1L898.7 405.2L898.8 407.3L899.0 409.5L899.1 411.6L899.3 413.8L899.4 416.0L899.5 418.1L899.7 420.3L899.8 422.6L900.0 424.8L900.1 427.0L900.3 429.2L900.4 431.5L900.6 433.8L900.8 436.1L900.9 437.8L901.0 439.6L901.1 441.3L901.2 443.1L901.4 444.9L901.5 446.8L901.6 448.6L901.8 450.5L901.9 452.3L902.0 454.2L902.1 456.1L902.3 458.0L902.4 459.9L902.5 461.8L902.7 463.8L902.8 465.7L903.0 467.7L903.1 469.6L903.2 471.6L903.4 473.6L903.5 475.6L903.7 477.6L903.8 479.6L903.9 481.6L904.1 483.7L904.2 485.7L904.4 487.7L904.5 489.8L904.6 491.8L904.8 493.9L904.9 496.0L905.1 498.0L905.2 500.1L905.4 502.2L905.5 504.3L905.7 506.4L905.8 508.5L905.9 510.6L906.1 512.7L906.2 514.8L906.4 516.9L906.5 519.0L906.7 521.1L906.8 523.2L907.0 525.3L907.1 527.4L907.2 529.5L907.4 531.6L907.5 533.7L907.7 535.9L907.8 538.0L907.9 540.1L908.1 542.2L908.2 544.3L908.4 546.4L908.5 548.4L908.6 550.5L908.8 552.6L908.9 554.7L909.1 556.8L909.2 558.8L909.3 560.9L909.5 563.0L909.6 565.0L909.7 567.1L909.9 569.1L910.0 571.1L910.1 573.2L910.2 575.2L910.4 577.2L910.5 579.2L910.6 581.2L910.7 583.2L910.9 585.1L911.0 587.1L911.1 589.1L911.2 591.0L911.3 592.9L911.4 594.8L911.6 596.7L911.7 598.6L911.8 600.5L911.9 602.4L912.0 604.2L912.1 606.4L912.2 608.6L912.4 610.8L912.5 612.9L912.6 615.0L912.7 617.2L912.8 619.3L912.9 621.4L913.1 623.5L913.2 625.6L913.3 627.7L913.4 629.8L913.5 631.9L913.6 633.9L913.7 636.0L913.8 638.0L913.9 640.1L914.0 642.1L914.1 644.2L914.2 646.2L914.3 648.2L914.4 650.2L914.5 652.3L914.6 654.3L914.6 656.3L914.7 658.3L914.8 660.3L914.9 662.3L915.0 664.3L915.1 666.3L915.2 668.3L915.3 670.2L915.4 672.2L915.5 674.2L915.5 676.2L915.6 678.2L915.7 680.2L915.8 682.1L915.9 684.1L916.0 686.1L916.1 688.1L916.2 690.0L916.3 692.0L916.3 694.0L916.4 696.0L916.5 697.9L916.6 699.9L916.7 701.9L916.8 703.9L916.9 705.9L917.0 707.9L917.1 709.9L917.2 711.8L917.3 713.8L917.4 715.8L917.5 717.8L917.6 719.8L917.7 721.9L917.8 723.9L917.9 725.9L918.0 727.9L918.1 729.9L918.2 732.0L918.3 734.0L918.4 736.0L918.5 738.0L918.7 740.0L918.8 742.0L918.9 744.1L919.0 746.1L919.1 748.1L919.2 750.1L919.3 752.1L919.4 754.1L919.5 756.1L919.6 758.1L919.8 760.1L919.9 762.1L920.0 764.1L920.1 766.1L920.2 768.1L920.3 770.1L920.4 772.1L920.5 774.1L920.7 776.1L920.8 778.0L920.9 780.0L921.0 782.0L921.1 784.0L921.2 786.0L921.3 788.1L921.5 790.1L921.6 792.1L921.7 794.1L921.8 796.1L921.9 798.1L922.0 800.1L922.2 802.1L922.3 804.1L922.4 806.2L922.5 808.2L922.6 810.2L922.8 812.2L922.9 814.3L923.0 816.3L923.1 818.4L923.2 820.4L923.4 822.4L923.5 824.5L923.6 826.5L923.7 828.6L923.8 830.7L924.0 832.7L924.1 834.8L924.2 836.9L924.3 839.0L924.4 841.1L924.6 843.2L924.7 845.3L924.8 847.4L924.9 849.5L925.0 851.6L925.2 853.5L925.3 855.5L925.4 857.4L925.5 859.4L925.6 861.4L925.7 863.4L925.8 865.4L925.9 867.5L926.1 869.5L926.2 871.6L926.3 873.7L926.4 875.8L926.5 877.9L926.7 880.0L926.8 882.1L926.9 884.2L927.0 886.4L927.1 888.5L927.3 890.7L927.4 892.8L927.5 895.0L927.6 897.2L927.7 899.3L927.9 901.5L928.0 903.7L928.1 905.9L928.2 908.1L928.4 910.3L928.5 912.5L928.6 914.6L928.7 916.8L928.8 919.0L929.0 921.2L929.1 923.4L929.2 925.5L929.3 927.7L929.5 929.9L929.6 932.0L929.7 934.2L929.8 936.3L929.9 938.5L930.1 940.6L930.2 942.7L930.3 944.8L930.4 946.9L930.6 949.0L930.7 951.1L930.8 953.1L930.9 955.2L931.0 957.2L931.1 959.2L931.3 961.2L931.4 963.2L931.5 965.2L931.6 967.2L931.7 969.1L931.8 971.0L932.0 972.9L932.1 974.8L932.2 976.6L932.3 978.5L932.4 980.3L932.5 982.1L932.6 983.8L932.7 985.6L932.9 987.3L933.0 989.0L933.1 990.6L933.2 992.3L933.3 993.9L933.4 995.4L933.5 997.0L933.6 998.5L933.7 1000.0L933.9 1002.5L934.0 1004.9L934.2 1007.2L934.4 1009.4L934.5 1011.6L934.7 1013.7L934.8 1015.8L935.0 1017.8L935.1 1019.7L935.3 1021.6L935.5 1023.5L935.6 1025.4L935.8 1027.2L935.9 1029.1L936.1 1030.9L936.2 1032.7L936.4 1034.5L936.5 1036.3L936.7 1038.2L936.8 1040.1L937.0 1042.0L937.1 1043.9L937.3 1045.9L937.5 1047.9L937.6 1049.9L937.8 1051.8L937.9 1053.7L938.1 1055.6L938.2 1057.6L938.4 1059.5L938.5 1061.4L938.7 1063.4L938.8 1065.3L939.0 1067.3L939.1 1069.3L939.3 1071.2L939.4 1073.2L939.6 1075.2L939.8 1077.2L939.9 1079.2L940.1 1081.2L940.2 1083.2L940.4 1085.3L940.5 1087.3L940.7 1089.3L940.9 1091.3L941.0 1093.3L941.2 1095.3L941.4 1097.4L941.5 1099.4L941.7 1101.4L941.9 1103.4L942.0 1105.4L942.2 1107.4L942.4 1109.4L942.5 1111.4L942.7 1113.4L942.9 1115.4L943.1 1117.5L943.3 1119.5L943.4 1121.5L943.6 1123.6L943.8 1125.6L944.0 1127.7L944.2 1129.7L944.3 1131.8L944.5 1133.9L944.7 1135.9L944.9 1138.0L945.1 1140.0L945.3 1142.1L945.5 1144.1L945.7 1146.2L945.9 1148.2L946.1 1150.3L946.2 1152.3L946.4 1154.3L946.6 1156.4L946.8 1158.4L947.0 1160.4L947.2 1162.4L947.4 1164.3L947.6 1166.3L947.8 1168.3L948.0 1170.2L948.2 1172.2L948.4 1174.1L948.7 1176.2L948.9 1178.3L949.1 1180.4L949.4 1182.4L949.6 1184.5L949.8 1186.5L950.0 1188.5L950.3 1190.5L950.5 1192.5L950.8 1194.6L951.0 1196.6L951.2 1198.6L951.5 1200.7L951.7 1202.7L952.0 1204.8L952.2 1206.9L952.4 1209.0L952.7 1211.1L952.9 1213.2L953.2 1215.3L953.4 1217.4L953.7 1219.5L953.9 1221.7L954.2 1223.8L954.4 1226.0L954.7 1228.2L954.9 1230.3L955.2 1232.5L955.4 1234.7L955.7 1236.9L955.9 1239.0L956.1 1241.2L956.4 1243.3L956.6 1245.5L956.9 1247.6L957.1 1249.7L957.4 1251.7L957.6 1253.8L957.9 1255.8L958.1 1257.9L958.4 1259.9L958.6 1261.9L958.9 1264.0L959.2 1266.0L959.5 1268.0L959.8 1269.9L960.1 1271.9L960.4 1273.8L960.7 1275.7L961.0 1277.6L961.4 1280.0L961.8 1282.2L962.2 1284.5L962.7 1286.8L963.1 1289.0L963.6 1291.2L964.0 1293.3L964.5 1295.4L964.9 1297.5L965.4 1299.4L965.9 1301.2L966.4 1303.0L966.9 1304.7L967.4 1306.4L967.9 1308.0L968.5 1309.5L969.0 1311.1L969.6 1312.9L970.3 1314.7L970.9 1316.6L971.5 1318.6L972.2 1320.5L972.9 1322.4L973.5 1324.2L974.3 1325.9L975.0 1327.5L975.8 1329.1L976.6 1330.6L977.5 1332.0L978.8 1334.0L980.1 1336.2L981.5 1338.5L982.9 1340.7L984.4 1342.6L985.9 1344.0L987.5 1345.2L989.4 1346.3L991.4 1347.0L993.4 1347.4L995.5 1347.2L997.5 1346.8L999.5 1346.3L1001.5 1345.5L1003.5 1344.4L1005.5 1343.2L1007.5 1342.3L1009.2 1341.6L1011.0 1340.9L1012.8 1340.1L1014.6 1339.2L1016.4 1338.5L1018.2 1337.9L1020.0 1337.1L1022.1 1336.0L1024.2 1334.7L1026.3 1333.5L1028.4 1332.5L1030.5 1331.4L1032.5 1330.2L1034.3 1329.0L1036.1 1327.9L1037.9 1326.9L1039.7 1325.8L1041.5 1324.5L1043.2 1322.9L1045.0 1320.9L1046.6 1319.2L1048.2 1317.7L1049.7 1316.4L1051.3 1314.9L1052.9 1313.3L1054.4 1311.7L1056.0 1310.4L1057.5 1309.3L1058.9 1308.3L1060.4 1307.3L1061.8 1306.1L1063.2 1304.7L1064.6 1303.3L1065.9 1301.9L1067.3 1300.5L1068.7 1299.0L1070.0 1297.4L1071.3 1295.9L1072.6 1294.3L1073.8 1292.8L1075.1 1291.2L1076.4 1289.5L1077.6 1287.8L1078.8 1286.3L1080.1 1284.9L1081.3 1283.4L1082.5 1281.8L1083.7 1280.1L1084.8 1278.5L1086.0 1277.0L1087.1 1275.5L1088.3 1274.0L1089.4 1272.4L1090.6 1270.7L1091.7 1268.7L1092.8 1266.7L1093.9 1264.5L1095.0 1262.4L1096.0 1260.4L1097.0 1258.4L1098.0 1256.5L1098.9 1254.3L1099.9 1251.9L1100.9 1249.4L1101.8 1246.9L1102.8 1244.5L1103.7 1242.2L1104.7 1240.2L1105.6 1238.2L1106.6 1236.2L1107.5 1234.2L1108.3 1232.5L1109.2 1230.7L1110.0 1228.9L1110.9 1227.1L1111.7 1225.3L1112.6 1223.6L1113.4 1222.0L1114.3 1220.5L1115.1 1219.0L1115.9 1217.5L1116.7 1215.9L1117.6 1214.2L1118.4 1212.4L1119.2 1210.5L1120.0 1208.5L1120.8 1206.6L1121.5 1204.6L1122.3 1202.7L1123.0 1200.7L1123.8 1198.7L1124.5 1196.8L1125.3 1194.8L1126.0 1192.9L1126.7 1190.8L1127.5 1188.7L1128.2 1186.5L1128.9 1184.2L1129.6 1182.0L1130.4 1179.8L1131.1 1177.6L1131.8 1175.4L1132.5 1173.4L1133.2 1171.5L1133.9 1169.6L1134.5 1167.7L1135.2 1165.8L1135.9 1163.9L1136.5 1162.0L1137.2 1160.1L1137.9 1158.2L1138.5 1156.2L1139.2 1154.3L1139.8 1152.3L1140.5 1150.4L1141.1 1148.4L1141.8 1146.5L1142.4 1144.7L1143.1 1142.8L1143.7 1140.9L1144.4 1139.0L1145.0 1137.0L1145.6 1135.2L1146.2 1133.4L1146.7 1131.5L1147.3 1129.6L1147.9 1127.8L1148.5 1126.0L1149.1 1124.1L1149.6 1122.3L1150.2 1120.5L1150.8 1118.6L1151.4 1116.8L1151.9 1114.9L1152.5 1113.0L1153.1 1111.1L1153.6 1109.1L1154.2 1107.2L1154.7 1105.3L1155.3 1103.4L1155.8 1101.5L1156.4 1099.6L1157.0 1097.7L1157.5 1095.8L1158.0 1094.0L1158.5 1092.2L1159.1 1090.3L1159.6 1088.4L1160.1 1086.6L1160.6 1084.6L1161.2 1082.7L1161.7 1080.8L1162.2 1078.9L1162.7 1076.9L1163.3 1075.0L1163.8 1073.0L1164.3 1071.0L1164.8 1069.0L1165.3 1067.0L1165.8 1064.9L1166.3 1062.9L1166.8 1060.8L1167.3 1058.7L1167.7 1056.6L1168.2 1054.4L1168.7 1052.2L1169.1 1050.0L1169.6 1047.7L1170.0 1045.5L1170.4 1043.5L1170.7 1041.5L1171.0 1039.5L1171.4 1037.5L1171.7 1035.4L1172.0 1033.4L1172.3 1031.3L1172.6 1029.2L1172.9 1027.0L1173.2 1024.9L1173.5 1022.8L1173.8 1020.6L1174.1 1018.5L1174.4 1016.3L1174.6 1014.1L1174.9 1012.0L1175.2 1009.8L1175.4 1007.6L1175.7 1005.5L1176.0 1003.3L1176.2 1001.2L1176.5 999.1L1176.8 996.9L1177.1 994.9L1177.3 992.8L1177.6 990.7L1177.9 988.7L1178.2 986.7L1178.5 984.8L1178.8 982.8L1179.1 980.9L1179.4 979.1L1179.7 977.3L1180.0 975.5L1180.4 973.8L1180.8 971.5L1181.3 969.2L1181.8 967.1L1182.3 965.0L1182.8 962.9L1183.3 961.0L1183.8 959.0L1184.3 957.1L1184.9 955.2L1185.4 953.3L1185.9 951.4L1186.4 949.5L1187.0 947.6L1187.5 945.6L1188.1 943.6L1188.6 941.5L1189.1 939.4L1189.7 937.2L1190.1 935.4L1190.5 933.6L1191.0 931.8L1191.4 929.9L1191.9 928.0L1192.4 926.1L1192.8 924.2L1193.3 922.2L1193.8 920.3L1194.2 918.3L1194.7 916.3L1195.2 914.3L1195.6 912.2L1196.1 910.2L1196.6 908.2L1197.1 906.1L1197.5 904.1L1198.0 902.1L1198.5 900.0L1198.9 898.0L1199.4 896.0L1199.8 894.0L1200.3 892.0L1200.7 890.0L1201.1 888.1L1201.5 886.1L1202.0 884.2L1202.4 882.3L1202.8 880.2L1203.2 878.1L1203.6 876.0L1204.1 873.9L1204.5 871.9L1204.9 869.8L1205.2 867.8L1205.6 865.8L1206.0 863.8L1206.4 861.8L1206.8 859.8L1207.1 857.7L1207.5 855.7L1207.9 853.7L1208.2 851.7L1208.6 849.7L1209.0 847.7L1209.4 845.6L1209.7 843.6L1210.1 841.5L1210.5 839.4L1210.9 837.3L1211.3 835.2L1211.7 833.2L1212.1 831.3L1212.4 829.4L1212.8 827.5L1213.2 825.6L1213.6 823.7L1213.9 821.8L1214.3 819.9L1214.7 818.0L1215.1 816.0L1215.4 814.1L1215.8 812.2L1216.2 810.2L1216.6 808.3L1217.0 806.3L1217.4 804.3L1217.7 802.3L1218.1 800.2L1218.5 798.2L1219.0 796.1L1219.4 793.9L1219.8 791.7L1220.2 789.5L1220.6 787.3L1221.1 785.0L1221.5 782.7L1222.0 780.3L1222.3 778.6L1222.6 776.9L1222.9 775.2L1223.2 773.5L1223.5 771.8L1223.9 770.0L1224.2 768.2L1224.5 766.3L1224.9 764.5L1225.2 762.6L1225.6 760.7L1225.9 758.8L1226.3 756.8L1226.7 754.9L1227.0 752.9L1227.4 750.9L1227.8 748.9L1228.1 746.8L1228.5 744.8L1228.9 742.8L1229.3 740.7L1229.6 738.6L1230.0 736.5L1230.4 734.4L1230.8 732.3L1231.2 730.2L1231.5 728.1L1231.9 726.0L1232.3 723.8L1232.7 721.7L1233.1 719.6L1233.5 717.4L1233.9 715.3L1234.2 713.2L1234.6 711.0L1235.0 708.9L1235.4 706.8L1235.8 704.6L1236.1 702.5L1236.5 700.4L1236.9 698.3L1237.3 696.2L1237.6 694.1L1238.0 692.0L1238.4 690.0L1238.7 687.9L1239.1 685.9L1239.5 683.8L1239.8 681.8L1240.2 679.8L1240.5 677.8L1240.9 675.9L1241.2 673.9L1241.5 672.0L1241.9 670.1L1242.2 668.2L1242.5 666.4L1242.8 664.5L1243.2 662.3L1243.6 660.2L1243.9 658.0L1244.3 655.9L1244.7 653.8L1245.0 651.7L1245.4 649.6L1245.7 647.6L1246.1 645.5L1246.4 643.4L1246.7 641.4L1247.1 639.4L1247.4 637.4L1247.7 635.4L1248.1 633.3L1248.4 631.4L1248.7 629.4L1249.1 627.4L1249.4 625.4L1249.7 623.4L1250.0 621.5L1250.3 619.5L1250.7 617.5L1251.0 615.6L1251.3 613.6L1251.6 611.7L1251.9 609.7L1252.2 607.8L1252.5 605.8L1252.9 603.9L1253.2 601.9L1253.5 599.9L1253.8 598.0L1254.1 596.0L1254.4 594.0L1254.8 592.1L1255.1 590.1L1255.4 588.1L1255.7 586.1L1256.0 584.1L1256.4 582.1L1256.7 580.1L1257.0 578.1L1257.3 576.0L1257.7 574.0L1258.0 572.0L1258.3 569.9L1258.6 567.9L1259.0 565.8L1259.3 563.8L1259.6 561.7L1260.0 559.6L1260.3 557.6L1260.6 555.5L1260.9 553.4L1261.3 551.4L1261.6 549.3L1261.9 547.2L1262.2 545.2L1262.6 543.1L1262.9 541.1L1263.2 539.0L1263.5 537.0L1263.9 534.9L1264.2 532.9L1264.5 530.9L1264.8 528.8L1265.1 526.8L1265.5 524.8L1265.8 522.8L1266.1 520.8L1266.4 518.8L1266.7 516.9L1267.0 514.9L1267.4 513.0L1267.7 511.0L1268.0 509.1L1268.3 507.2L1268.6 505.3L1268.9 503.4L1269.2 501.6L1269.5 499.7L1269.9 497.5L1270.2 495.4L1270.5 493.3L1270.9 491.2L1271.2 489.2L1271.6 487.1L1271.9 485.1L1272.2 483.2L1272.5 481.2L1272.9 479.3L1273.2 477.3L1273.5 475.4L1273.8 473.5L1274.2 471.6L1274.5 469.6L1274.8 467.7L1275.1 465.8L1275.5 463.8L1275.8 461.9L1276.1 459.9L1276.5 457.9L1276.8 455.9L1277.1 453.8L1277.5 451.8L1277.8 449.7L1278.2 447.5L1278.6 445.3L1278.9 443.1L1279.3 440.9L1279.6 439.1L1279.9 437.3L1280.2 435.5L1280.5 433.6L1280.8 431.8L1281.1 429.9L1281.4 428.0L1281.7 426.0L1282.1 424.1L1282.4 422.1L1282.7 420.1L1283.0 418.1L1283.4 416.1L1283.7 414.0L1284.0 412.0L1284.4 409.9L1284.7 407.8L1285.0 405.7L1285.4 403.6L1285.7 401.5L1286.0 399.4L1286.4 397.3L1286.7 395.2L1287.1 393.1L1287.4 391.0L1287.8 388.8L1288.1 386.7L1288.5 384.6L1288.8 382.5L1289.1 380.4L1289.5 378.3L1289.8 376.2L1290.2 374.1L1290.5 372.0L1290.9 369.9L1291.2 367.9L1291.5 365.8L1291.9 363.8L1292.2 361.8L1292.5 359.8L1292.9 357.8L1293.2 355.9L1293.5 353.9L1293.8 352.0L1294.2 350.1L1294.5 348.2L1294.8 346.4L1295.1 344.6L1295.4 342.8L1295.8 340.6L1296.1 338.4L1296.5 336.2L1296.9 334.0L1297.2 331.8L1297.6 329.6L1298.0 327.4L1298.3 325.2L1298.7 323.0L1299.0 320.9L1299.4 318.7L1299.8 316.6L1300.1 314.5L1300.5 312.4L1300.8 310.3L1301.2 308.2L1301.5 306.2L1301.8 304.2L1302.2 302.2L1302.5 300.2L1302.9 298.3L1303.2 296.4L1303.6 294.5L1303.9 292.7L1304.3 290.9L1304.6 289.2L1305.0 287.5L1305.3 285.8L1305.6 284.2L1306.0 282.6L1306.3 281.1L1306.7 279.6L1307.3 277.1L1307.9 274.8L1308.5 272.5L1309.1 270.4L1309.7 268.4L1310.2 266.4L1310.8 264.6L1311.4 262.7L1312.0 261.0L1312.6 259.3L1313.3 257.6L1314.1 255.4L1314.9 253.2L1315.7 251.2L1316.5 249.3L1317.4 247.6L1318.3 246.1L1320.6 243.7L1323.0 242.5L1324.8 243.0L1326.7 244.3L1328.4 246.1L1329.3 247.6L1330.0 249.3L1330.6 251.2L1331.2 253.2L1331.8 255.4L1332.4 257.6L1332.9 259.3L1333.4 261.0L1333.8 262.8L1334.3 264.6L1334.8 266.4L1335.2 268.4L1335.7 270.4L1336.1 272.6L1336.5 274.8L1337.0 277.1L1337.4 279.6L1337.7 281.1L1338.0 282.7L1338.2 284.3L1338.5 286.0L1338.8 287.7L1339.0 289.5L1339.3 291.3L1339.6 293.2L1339.9 295.1L1340.1 297.0L1340.4 299.0L1340.7 301.0L1340.9 303.0L1341.2 305.1L1341.5 307.1L1341.7 309.2L1342.0 311.4L1342.2 313.5L1342.5 315.7L1342.8 317.9L1343.0 320.1L1343.3 322.3L1343.5 324.6L1343.8 326.8L1344.0 329.1L1344.3 331.3L1344.5 333.6L1344.8 335.9L1345.0 338.1L1345.2 340.4L1345.5 342.7L1345.6 344.4L1345.8 346.2L1346.0 348.0L1346.2 349.8L1346.3 351.7L1346.5 353.5L1346.7 355.3L1346.8 357.2L1347.0 359.0L1347.2 360.9L1347.3 362.7L1347.5 364.6L1347.6 366.5L1347.8 368.4L1348.0 370.3L1348.1 372.2L1348.3 374.1L1348.4 376.0L1348.6 378.0L1348.7 379.9L1348.9 381.9L1349.0 383.8L1349.2 385.8L1349.3 387.8L1349.5 389.8L1349.6 391.8L1349.8 393.8L1349.9 395.8L1350.0 397.8L1350.2 399.9L1350.3 401.9L1350.5 404.0L1350.6 406.1L1350.8 408.2L1350.9 410.3L1351.1 412.4L1351.2 414.5L1351.4 416.6L1351.5 418.8L1351.7 420.9L1351.8 423.1L1352.0 425.3L1352.1 427.5L1352.3 429.7L1352.4 431.9L1352.6 434.1L1352.8 436.3L1352.9 438.6L1353.1 440.9L1353.2 442.6L1353.3 444.4L1353.5 446.2L1353.6 448.0L1353.7 449.8L1353.9 451.6L1354.0 453.4L1354.1 455.3L1354.2 457.2L1354.4 459.1L1354.5 461.0L1354.6 462.9L1354.8 464.8L1354.9 466.7L1355.1 468.7L1355.2 470.6L1355.3 472.6L1355.5 474.6L1355.6 476.6L1355.7 478.5L1355.9 480.6L1356.0 482.6L1356.2 484.6L1356.3 486.6L1356.4 488.7L1356.6 490.7L1356.7 492.8L1356.9 494.8L1357.0 496.9L1357.1 499.0L1357.3 501.0L1357.4 503.1L1357.6 505.2L1357.7 507.3L1357.8 509.4L1358.0 511.5L1358.1 513.6L1358.3 515.7L1358.4 517.8L1358.6 519.9L1358.7 522.0L1358.8 524.1L1359.0 526.3L1359.1 528.4L1359.3 530.5L1359.4 532.6L1359.5 534.7L1359.7 536.8L1359.8 538.9L1359.9 541.1L1360.1 543.2L1360.2 545.3L1360.4 547.4L1360.5 549.5L1360.6 551.6L1360.8 553.7L1360.9 555.8L1361.0 557.9L1361.2 560.0L1361.3 562.0L1361.4 564.1L1361.6 566.2L1361.7 568.2L1361.8 570.3L1362.0 572.3L1362.1 574.4L1362.2 576.4L1362.3 578.4L1362.5 580.5L1362.6 582.5L1362.7 584.5L1362.8 586.5L1363.0 588.4L1363.1 590.4L1363.2 592.4L1363.3 594.3L1363.4 596.2L1363.6 598.2L1363.7 600.1L1363.8 602.0L1363.9 603.9L1364.0 605.8L1364.1 607.6L1364.3 609.8L1364.4 611.9L1364.5 614.1L1364.6 616.2L1364.8 618.3L1364.9 620.4L1365.0 622.5L1365.1 624.6L1365.2 626.7L1365.3 628.8L1365.5 630.9L1365.6 632.9L1365.7 635.0L1365.8 637.0L1365.9 639.1L1366.0 641.1L1366.1 643.1L1366.2 645.2L1366.3 647.2L1366.4 649.2L1366.5 651.2L1366.6 653.2L1366.7 655.2L1366.8 657.2L1366.9 659.2L1367.1 661.2L1367.2 663.2L1367.3 665.2L1367.4 667.1L1367.5 669.1L1367.5 671.1L1367.6 673.1L1367.7 675.0L1367.8 677.0L1367.9 678.9L1368.0 680.9L1368.1 682.9L1368.2 684.8L1368.3 686.8L1368.4 688.8L1368.5 690.7L1368.6 692.7L1368.7 694.6L1368.8 696.6L1368.9 698.5L1369.0 700.5L1369.1 702.5L1369.2 704.4L1369.3 706.4L1369.4 708.4L1369.5 710.3L1369.6 712.3L1369.7 714.3L1369.8 716.3L1370.0 718.3L1370.1 720.2L1370.2 722.2L1370.3 724.2L1370.4 726.2L1370.5 728.2L1370.6 730.2L1370.7 732.2L1370.8 734.2L1370.9 736.3L1371.1 738.3L1371.2 740.3L1371.3 742.2L1371.4 744.2L1371.5 746.2L1371.6 748.2L1371.7 750.2L1371.8 752.2L1372.0 754.2L1372.1 756.2L1372.2 758.2L1372.3 760.1L1372.4 762.1L1372.5 764.1L1372.6 766.1L1372.7 768.1L1372.9 770.0L1373.0 772.0L1373.1 774.0L1373.2 776.0L1373.3 778.0L1373.4 779.9L1373.6 781.9L1373.7 783.9L1373.8 785.9L1373.9 787.9L1374.0 789.9L1374.1 791.8L1374.2 793.8L1374.4 795.8L1374.5 797.8L1374.6 799.8L1374.7 801.8L1374.8 803.8L1375.0 805.8L1375.1 807.8L1375.2 809.8L1375.3 811.8L1375.4 813.8L1375.5 815.9L1375.7 817.9L1375.8 819.9L1375.9 821.9L1376.0 824.0L1376.1 826.0L1376.3 828.0L1376.4 830.1L1376.5 832.1L1376.6 834.2L1376.7 836.2L1376.9 838.3L1377.0 840.3L1377.1 842.4L1377.2 844.5L1377.3 846.6L1377.5 848.7L1377.6 850.8L1377.7 852.9L1377.8 854.8L1377.9 856.7L1378.0 858.7L1378.1 860.7L1378.3 862.7L1378.4 864.7L1378.5 866.7L1378.6 868.7L1378.7 870.8L1378.8 872.8L1378.9 874.9L1379.0 877.0L1379.1 879.1L1379.3 881.2L1379.4 883.3L1379.5 885.4L1379.6 887.5L1379.7 889.6L1379.8 891.8L1379.9 893.9L1380.0 896.0L1380.2 898.2L1380.3 900.3L1380.4 902.5L1380.5 904.7L1380.6 906.8L1380.7 909.0L1380.8 911.1L1381.0 913.3L1381.1 915.5L1381.2 917.6L1381.3 919.8L1381.4 921.9L1381.5 924.1L1381.6 926.3L1381.8 928.4L1381.9 930.5L1382.0 932.7L1382.1 934.8L1382.2 937.0L1382.3 939.1L1382.5 941.2L1382.6 943.3L1382.7 945.4L1382.8 947.5L1382.9 949.6L1383.0 951.6L1383.2 953.7L1383.3 955.7L1383.4 957.8L1383.5 959.8L1383.6 961.8L1383.8 963.8L1383.9 965.8L1384.0 967.8L1384.1 969.7L1384.2 971.7L1384.3 973.6L1384.5 975.5L1384.6 977.4L1384.7 979.2L1384.8 981.1L1384.9 982.9L1385.1 984.7L1385.2 986.5L1385.3 988.3L1385.4 990.0L1385.5 991.7L1385.7 993.4L1385.8 995.1L1385.9 996.8L1386.0 998.4L1386.2 1000.0L1386.3 1002.4L1386.5 1004.8L1386.7 1007.1L1386.9 1009.3L1387.1 1011.5L1387.3 1013.6L1387.5 1015.7L1387.7 1017.7L1387.9 1019.7L1388.1 1021.7L1388.3 1023.7L1388.5 1025.6L1388.7 1027.5L1388.9 1029.4L1389.1 1031.2L1389.3 1033.1L1389.5 1034.9L1389.7 1036.8L1389.9 1038.6L1390.1 1040.4L1390.3 1042.3L1390.5 1044.1L1390.7 1046.0L1390.9 1047.8L1391.1 1049.7L1391.3 1051.6L1391.5 1053.5L1391.7 1055.5L1391.8 1057.5L1392.0 1059.5L1392.2 1061.6L1392.4 1063.5L1392.5 1065.4L1392.7 1067.4L1392.9 1069.4L1393.0 1071.4L1393.2 1073.4L1393.3 1075.4L1393.5 1077.4L1393.6 1079.4L1393.7 1081.5L1393.9 1083.5L1394.0 1085.6L1394.2 1087.7L1394.3 1089.7L1394.4 1091.8L1394.6 1093.9L1394.7 1095.9L1394.9 1098.0L1395.0 1100.1L1395.1 1102.2L1395.3 1104.3L1395.4 1106.4L1395.6 1108.5L1395.7 1110.6L1395.9 1112.7L1396.0 1114.7L1396.2 1116.8L1396.3 1118.9L1396.5 1121.0L1396.7 1123.1L1396.8 1125.2L1397.0 1127.2L1397.2 1129.3L1397.3 1131.4L1397.5 1133.4L1397.7 1135.5L1397.9 1137.5L1398.1 1139.6L1398.3 1141.6L1398.5 1143.7L1398.7 1145.7L1398.9 1147.8L1399.1 1149.9L1399.3 1152.0L1399.5 1154.1L1399.7 1156.2L1399.9 1158.3L1400.2 1160.4L1400.4 1162.6L1400.6 1164.7L1400.8 1166.8L1401.1 1168.9L1401.3 1171.0L1401.5 1173.2L1401.7 1175.3L1402.0 1177.4L1402.2 1179.5L1402.4 1181.6L1402.7 1183.7L1402.9 1185.7L1403.2 1187.8L1403.4 1189.9L1403.7 1191.9L1403.9 1193.9L1404.1 1196.0L1404.4 1197.9L1404.6 1199.9L1404.9 1201.9L1405.1 1203.8L1405.4 1205.7L1405.7 1207.6L1405.9 1209.5L1406.2 1211.3L1406.4 1213.2L1406.7 1215.3L1407.1 1217.5L1407.4 1219.7L1407.7 1221.8L1408.0 1223.9L1408.4 1226.0L1408.7 1228.1L1409.0 1230.1L1409.4 1232.2L1409.7 1234.2L1410.1 1236.2L1410.4 1238.2L1410.8 1240.2L1411.1 1242.2L1411.4 1244.1L1411.8 1246.1L1412.2 1248.0L1412.5 1249.9L1412.9 1251.8L1413.2 1253.7L1413.6 1255.5L1413.9 1257.4L1414.3 1259.2L1414.6 1261.0L1415.0 1262.7L1415.4 1264.9L1415.9 1267.1L1416.3 1269.2L1416.7 1271.4L1417.2 1273.5L1417.6 1275.5L1418.0 1277.6L1418.4 1279.6L1418.9 1281.6L1419.3 1283.6L1419.8 1285.5L1420.3 1287.5L1420.8 1289.4L1421.3 1291.3L1421.9 1293.1L1422.5 1294.9L1423.2 1297.0L1423.9 1299.1L1424.6 1301.2L1425.4 1303.2L1426.1 1305.2L1426.9 1307.2L1427.7 1309.1L1428.6 1311.1L1429.5 1313.0L1430.4 1314.8L1431.4 1316.5L1432.5 1318.0L1433.8 1319.7L1435.3 1321.1L1436.7 1322.4L1438.2 1323.5L1439.8 1324.6L1441.5 1325.6L1443.2 1326.1L1445.0 1326.4L1447.0 1326.8L1449.1 1327.3L1451.2 1327.6L1453.5 1327.7L1455.8 1328.0L1458.0 1328.5L1460.3 1328.8L1462.5 1328.9L1464.5 1329.2L1466.4 1329.4L1468.4 1329.2L1470.4 1328.7L1472.3 1328.2L1474.3 1327.7L1476.2 1327.1L1478.1 1326.9L1480.0 1326.9L1481.9 1326.7L1483.9 1326.2L1485.8 1326.1L1487.6 1326.0L1489.5 1325.5L1491.3 1324.6L1493.2 1323.5L1495.0 1322.4L1496.9 1321.3L1498.8 1319.9L1500.7 1318.2L1502.6 1316.6L1504.5 1315.3L1506.3 1313.3L1508.2 1311.1L1510.0 1309.3L1511.7 1307.9L1513.4 1306.5L1515.2 1304.9L1516.9 1303.5L1518.6 1302.2L1520.2 1301.4L1521.9 1300.6L1523.4 1299.6L1525.0 1298.2L1526.5 1296.9L1528.0 1295.7L1529.4 1294.4L1530.8 1293.0L1532.2 1291.3L1533.5 1289.5L1534.8 1287.6L1536.2 1285.6L1537.5 1283.7L1538.7 1282.0L1539.9 1280.1L1541.0 1278.1L1542.2 1276.1L1543.3 1274.0L1544.5 1271.9L1545.6 1270.0L1546.7 1268.2L1547.8 1266.3L1548.9 1264.5L1550.0 1262.7L1551.0 1260.9L1552.0 1259.2L1553.0 1257.3L1554.0 1255.6L1554.9 1253.9L1555.9 1252.2L1556.9 1250.5L1557.8 1248.7L1558.8 1246.9L1559.7 1244.9L1560.6 1242.8L1561.6 1240.7L1562.5 1238.5L1563.3 1236.6L1564.1 1234.7L1564.9 1232.8L1565.7 1230.9L1566.5 1229.0L1567.3 1227.1L1568.1 1225.3L1568.8 1223.4L1569.6 1221.5L1570.4 1219.6L1571.2 1217.7L1571.9 1215.8L1572.7 1213.9L1573.5 1212.0L1574.2 1210.1L1575.0 1208.2L1575.7 1206.4L1576.5 1204.6L1577.2 1202.8L1578.0 1201.0L1578.7 1199.2L1579.5 1197.3L1580.2 1195.5L1581.0 1193.6L1581.7 1191.5L1582.5 1189.5L1583.2 1187.3L1583.9 1185.2L1584.6 1183.0L1585.4 1180.8L1586.1 1178.7L1586.8 1176.6L1587.5 1174.6L1588.2 1172.6L1588.8 1170.7L1589.4 1168.7L1590.1 1166.7L1590.7 1164.6L1591.4 1162.6L1592.0 1160.5L1592.6 1158.4L1593.2 1156.4L1593.9 1154.3L1594.5 1152.3L1595.1 1150.3L1595.7 1148.3L1596.3 1146.3L1596.9 1144.3L1597.6 1142.3L1598.2 1140.3L1598.8 1138.3L1599.4 1136.3L1600.0 1134.3L1600.6 1132.4L1601.1 1130.5L1601.7 1128.6L1602.2 1126.7L1602.8 1124.8L1603.3 1122.9L1603.9 1121.1L1604.4 1119.2L1605.0 1117.3L1605.5 1115.5L1606.1 1113.6L1606.6 1111.7L1607.1 1109.8L1607.7 1107.8L1608.2 1105.9L1608.8 1103.9L1609.3 1102.0L1609.8 1100.1L1610.4 1098.2L1610.9 1096.3L1611.4 1094.4L1612.0 1092.5L1612.5 1090.7L1613.0 1088.8L1613.5 1087.0L1614.1 1085.1L1614.6 1083.3L1615.1 1081.4L1615.6 1079.4L1616.2 1077.5L1616.7 1075.6L1617.2 1073.6L1617.8 1071.7L1618.3 1069.7L1618.8 1067.8L1619.3 1065.8L1619.8 1063.8L1620.4 1061.7L1620.9 1059.7L1621.4 1057.7L1621.8 1055.6L1622.3 1053.5L1622.8 1051.4L1623.3 1049.3L1623.7 1047.1L1624.2 1044.9L1624.6 1042.6L1625.0 1040.4L1625.3 1038.4L1625.7 1036.4L1626.0 1034.4L1626.3 1032.4L1626.6 1030.3L1626.9 1028.3L1627.2 1026.2L1627.4 1024.1L1627.7 1022.0L1627.9 1019.9L1628.2 1017.8L1628.4 1015.7L1628.7 1013.6L1628.9 1011.5L1629.1 1009.4L1629.3 1007.2L1629.6 1005.1L1629.8 1003.0L1630.0 1000.9L1630.2 998.8L1630.5 996.7L1630.7 994.6L1630.9 992.6L1631.2 990.5L1631.4 988.5L1631.7 986.5L1631.9 984.6L1632.2 982.7L1632.5 980.8L1632.8 978.9L1633.1 977.1L1633.4 975.3L1633.7 973.6L1634.2 971.4L1634.6 969.3L1635.1 967.2L1635.6 965.2L1636.1 963.3L1636.6 961.4L1637.1 959.5L1637.6 957.6L1638.1 955.8L1638.6 954.0L1639.2 952.2L1639.7 950.4L1640.2 948.5L1640.7 946.6L1641.3 944.8L1641.8 942.8L1642.3 940.8L1642.9 938.8L1643.4 936.7L1643.8 934.9L1644.3 933.1L1644.7 931.2L1645.2 929.3L1645.6 927.4L1646.1 925.5L1646.5 923.5L1647.0 921.6L1647.5 919.6L1647.9 917.6L1648.4 915.5L1648.9 913.5L1649.3 911.5L1649.8 909.4L1650.2 907.4L1650.7 905.3L1651.2 903.3L1651.6 901.2L1652.1 899.2L1652.5 897.1L1653.0 895.1L1653.4 893.1L1653.8 891.1L1654.3 889.1L1654.7 887.1L1655.1 885.1L1655.5 883.2L1655.9 881.3L1656.3 879.2L1656.8 877.2L1657.2 875.2L1657.6 873.2L1657.9 871.2L1658.3 869.2L1658.7 867.3L1659.1 865.3L1659.4 863.4L1659.8 861.4L1660.2 859.5L1660.5 857.5L1660.9 855.6L1661.3 853.7L1661.6 851.7L1662.0 849.8L1662.3 847.8L1662.7 845.8L1663.1 843.9L1663.4 841.9L1663.8 839.9L1664.2 837.9L1664.6 835.8L1665.0 833.8L1665.4 831.9L1665.7 830.0L1666.1 828.1L1666.5 826.3L1666.8 824.4L1667.2 822.6L1667.6 820.7L1668.0 818.9L1668.3 817.0L1668.7 815.1L1669.1 813.3L1669.5 811.4L1669.9 809.5L1670.2 807.6L1670.6 805.7L1671.0 803.8L1671.4 801.8L1671.8 799.9L1672.2 797.9L1672.6 795.8L1673.0 793.8L1673.4 791.7L1673.9 789.6L1674.3 787.4L1674.7 785.2L1675.1 783.0L1675.6 780.7L1676.0 778.4L1676.3 776.8L1676.7 775.1L1677.0 773.4L1677.3 771.7L1677.7 770.0L1678.0 768.2L1678.3 766.4L1678.7 764.6L1679.0 762.7L1679.4 760.9L1679.7 759.0L1680.1 757.1L1680.5 755.2L1680.8 753.2L1681.2 751.3L1681.6 749.3L1682.0 747.3L1682.3 745.3L1682.7 743.3L1683.1 741.3L1683.5 739.2L1683.9 737.2L1684.3 735.1L1684.7 733.0L1685.1 730.9L1685.4 728.8L1685.8 726.7L1686.2 724.6L1686.6 722.5L1687.0 720.4L1687.4 718.3L1687.8 716.2L1688.2 714.1L1688.6 712.0L1689.0 709.8L1689.4 707.7L1689.8 705.6L1690.2 703.5L1690.5 701.4L1690.9 699.3L1691.3 697.2L1691.7 695.1L1692.1 693.0L1692.5 691.0L1692.8 688.9L1693.2 686.9L1693.6 684.8L1693.9 682.8L1694.3 680.8L1694.6 678.8L1695.0 676.8L1695.4 674.8L1695.7 672.9L1696.0 671.0L1696.4 669.1L1696.7 667.2L1697.0 665.3L1697.4 663.5L1697.7 661.6L1698.0 659.5L1698.4 657.4L1698.8 655.3L1699.1 653.2L1699.5 651.1L1699.8 649.0L1700.2 647.0L1700.5 644.9L1700.9 642.9L1701.2 640.9L1701.5 638.9L1701.9 636.9L1702.2 634.9L1702.5 632.9L1702.8 630.9L1703.1 629.0L1703.5 627.0L1703.8 625.0L1704.1 623.1L1704.4 621.2L1704.7 619.2L1705.0 617.3L1705.3 615.3L1705.6 613.4L1705.9 611.5L1706.2 609.6L1706.5 607.6L1706.8 605.7L1707.1 603.8L1707.4 601.9L1707.7 599.9L1708.0 598.0L1708.3 596.1L1708.6 594.2L1709.0 592.2L1709.3 590.3L1709.6 588.3L1709.9 586.4L1710.2 584.4L1710.5 582.5L1710.8 580.5L1711.1 578.5L1711.4 576.5L1711.7 574.6L1712.0 572.6L1712.3 570.6L1712.6 568.5L1712.9 566.5L1713.3 564.5L1713.6 562.5L1713.9 560.5L1714.2 558.4L1714.5 556.4L1714.8 554.4L1715.1 552.3L1715.4 550.3L1715.7 548.3L1716.0 546.2L1716.3 544.2L1716.6 542.2L1716.9 540.1L1717.2 538.1L1717.5 536.1L1717.8 534.1L1718.1 532.1L1718.4 530.1L1718.7 528.1L1719.0 526.1L1719.3 524.1L1719.6 522.1L1719.9 520.1L1720.2 518.1L1720.5 516.2L1720.8 514.2L1721.1 512.3L1721.4 510.4L1721.7 508.5L1722.0 506.6L1722.3 504.7L1722.6 502.8L1722.9 500.9L1723.1 499.1L1723.4 497.2L1723.7 495.4L1724.0 493.3L1724.4 491.2L1724.7 489.1L1725.0 487.1L1725.4 485.1L1725.7 483.1L1726.0 481.2L1726.3 479.3L1726.6 477.3L1726.9 475.4L1727.2 473.6L1727.6 471.7L1727.9 469.8L1728.2 467.9L1728.5 466.1L1728.8 464.2L1729.1 462.3L1729.4 460.4L1729.7 458.5L1730.1 456.6L1730.4 454.7L1730.7 452.7L1731.0 450.7L1731.4 448.7L1731.7 446.7L1732.0 444.6L1732.4 442.6L1732.7 440.4L1733.1 438.3L1733.4 436.1L1733.7 434.3L1734.0 432.5L1734.3 430.7L1734.6 428.9L1734.9 427.1L1735.2 425.2L1735.5 423.3L1735.8 421.4L1736.1 419.5L1736.4 417.5L1736.7 415.6L1737.0 413.6L1737.3 411.6L1737.6 409.6L1737.9 407.5L1738.3 405.5L1738.6 403.4L1738.9 401.4L1739.2 399.3L1739.5 397.2L1739.9 395.2L1740.2 393.1L1740.5 391.0L1740.8 388.9L1741.2 386.8L1741.5 384.7L1741.8 382.6L1742.2 380.5L1742.5 378.4L1742.8 376.3L1743.1 374.2L1743.5 372.2L1743.8 370.1L1744.1 368.0L1744.4 366.0L1744.8 363.9L1745.1 361.9L1745.4 359.9L1745.7 357.9L1746.0 355.9L1746.4 353.9L1746.7 352.0L1747.0 350.0L1747.3 348.1L1747.6 346.2L1747.9 344.4L1748.2 342.5L1748.5 340.7L1748.8 338.9L1749.1 337.1L1749.5 334.9L1749.9 332.7L1750.2 330.5L1750.6 328.2L1750.9 326.0L1751.3 323.8L1751.7 321.6L1752.0 319.4L1752.4 317.2L1752.7 315.0L1753.1 312.9L1753.4 310.7L1753.8 308.6L1754.1 306.5L1754.5 304.4L1754.8 302.3L1755.2 300.2L1755.5 298.2L1755.8 296.2L1756.2 294.2L1756.5 292.3L1756.9 290.4L1757.2 288.5L1757.6 286.7L1757.9 284.8L1758.3 283.1L1758.6 281.4L1758.9 279.7L1759.3 278.0L1759.6 276.4L1760.0 274.9L1760.3 273.4L1760.9 270.9L1761.5 268.5L1762.1 266.3L1762.7 264.1L1763.3 262.1L1763.9 260.1L1764.5 258.2L1765.1 256.4L1765.7 254.7L1766.3 252.9L1766.9 251.2L1767.7 249.0L1768.5 246.8L1769.3 244.7L1770.1 242.8L1770.9 241.1L1771.9 239.7L1773.8 237.2L1776.0 236.0L1777.8 236.5L1779.7 237.8L1781.4 239.7L1782.4 241.1L1783.1 242.8L1783.8 244.7L1784.4 246.8L1785.0 249.0L1785.6 251.2L1786.1 252.9L1786.6 254.7L1787.1 256.4L1787.6 258.3L1788.1 260.1L1788.6 262.1L1789.1 264.2L1789.6 266.3L1790.0 268.6L1790.5 270.9L1791.0 273.4L1791.3 274.9L1791.5 276.4L1791.8 278.0L1792.1 279.7L1792.3 281.3L1792.6 283.1L1792.9 284.8L1793.1 286.6L1793.4 288.5L1793.7 290.4L1793.9 292.3L1794.2 294.2L1794.5 296.2L1794.7 298.2L1795.0 300.2L1795.2 302.2L1795.5 304.3L1795.7 306.4L1796.0 308.5L1796.2 310.7L1796.5 312.8L1796.7 315.0L1797.0 317.1L1797.2 319.3L1797.4 321.5L1797.7 323.7L1797.9 325.9L1798.1 328.2L1798.4 330.4L1798.6 332.6L1798.8 334.8L1799.1 337.0L1799.2 338.8L1799.4 340.6L1799.6 342.4L1799.8 344.3L1799.9 346.1L1800.1 347.9L1800.2 349.8L1800.4 351.6L1800.6 353.5L1800.7 355.4L1800.9 357.3L1801.0 359.1L1801.2 361.0L1801.3 362.9L1801.5 364.9L1801.6 366.8L1801.8 368.7L1801.9 370.7L1802.1 372.6L1802.2 374.6L1802.4 376.5L1802.5 378.5L1802.6 380.5L1802.8 382.5L1802.9 384.5L1803.1 386.6L1803.2 388.6L1803.3 390.6L1803.5 392.7L1803.6 394.7L1803.7 396.8L1803.9 398.9L1804.0 401.0L1804.2 403.1L1804.3 405.2L1804.4 407.3L1804.6 409.5L1804.7 411.6L1804.9 413.8L1805.0 416.0L1805.2 418.1L1805.3 420.3L1805.4 422.5L1805.6 424.8L1805.7 427.0L1805.9 429.2L1806.0 431.5L1806.2 433.8L1806.4 436.1L1806.5 437.8L1806.6 439.6L1806.7 441.3L1806.8 443.1L1807.0 444.9L1807.1 446.8L1807.2 448.6L1807.3 450.4L1807.5 452.3L1807.6 454.2L1807.7 456.1L1807.8 458.0L1808.0 459.9L1808.1 461.8L1808.2 463.8L1808.3 465.7L1808.5 467.7L1808.6 469.6L1808.7 471.6L1808.8 473.6L1809.0 475.6L1809.1 477.6L1809.2 479.6L1809.4 481.6L1809.5 483.7L1809.6 485.7L1809.8 487.7L1809.9 489.8L1810.0 491.8L1810.2 493.9L1810.3 496.0L1810.4 498.1L1810.5 500.1L1810.7 502.2L1810.8 504.3L1810.9 506.4L1811.1 508.5L1811.2 510.6L1811.3 512.7L1811.5 514.8L1811.6 516.9L1811.7 519.0L1811.9 521.1L1812.0 523.2L1812.1 525.3L1812.3 527.4L1812.4 529.5L1812.5 531.6L1812.7 533.8L1812.8 535.9L1812.9 538.0L1813.1 540.1L1813.2 542.2L1813.3 544.3L1813.4 546.4L1813.6 548.5L1813.7 550.5L1813.8 552.6L1814.0 554.7L1814.1 556.8L1814.2 558.9L1814.3 560.9L1814.5 563.0L1814.6 565.0L1814.7 567.1L1814.9 569.1L1815.0 571.1L1815.1 573.2L1815.2 575.2L1815.4 577.2L1815.5 579.2L1815.6 581.2L1815.7 583.2L1815.9 585.1L1816.0 587.1L1816.1 589.1L1816.2 591.0L1816.3 592.9L1816.5 594.8L1816.6 596.7L1816.7 598.6L1816.8 600.5L1816.9 602.4L1817.1 604.2L1817.2 606.4L1817.3 608.6L1817.5 610.8L1817.6 612.9L1817.7 615.0L1817.9 617.2L1818.0 619.3L1818.2 621.4L1818.3 623.5L1818.4 625.6L1818.6 627.7L1818.7 629.8L1818.8 631.9L1819.0 633.9L1819.1 636.0L1819.2 638.0L1819.4 640.1L1819.5 642.1L1819.6 644.2L1819.8 646.2L1819.9 648.2L1820.0 650.2L1820.1 652.3L1820.3 654.3L1820.4 656.3L1820.5 658.3L1820.7 660.3L1820.8 662.3L1820.9 664.3L1821.0 666.3L1821.2 668.3L1821.3 670.2L1821.4 672.2L1821.6 674.2L1821.7 676.2L1821.8 678.2L1821.9 680.2L1822.1 682.1L1822.2 684.1L1822.3 686.1L1822.4 688.1L1822.5 690.0L1822.7 692.0L1822.8 694.0L1822.9 696.0L1823.0 697.9L1823.2 699.9L1823.3 701.9L1823.4 703.9L1823.5 705.9L1823.6 707.9L1823.8 709.8L1823.9 711.8L1824.0 713.8L1824.1 715.8L1824.2 717.8L1824.4 719.8L1824.5 721.9L1824.6 723.9L1824.7 725.9L1824.8 727.9L1824.9 729.9L1825.1 732.0L1825.2 734.0L1825.3 736.0L1825.4 738.0L1825.5 740.0L1825.6 742.0L1825.7 744.1L1825.8 746.1L1826.0 748.1L1826.1 750.1L1826.2 752.1L1826.3 754.1L1826.4 756.1L1826.5 758.1L1826.6 760.1L1826.7 762.1L1826.8 764.1L1826.9 766.1L1827.0 768.1L1827.1 770.1L1827.2 772.1L1827.3 774.0L1827.4 776.0L1827.6 778.0L1827.7 780.0L1827.8 782.0L1827.9 784.0L1828.0 786.0L1828.1 788.0L1828.2 790.1L1828.3 792.1L1828.4 794.1L1828.5 796.1L1828.6 798.1L1828.7 800.1L1828.8 802.1L1828.9 804.1L1829.0 806.2L1829.1 808.2L1829.2 810.2L1829.3 812.2L1829.4 814.3L1829.5 816.3L1829.6 818.3L1829.7 820.4L1829.8 822.4L1829.9 824.5L1830.0 826.5L1830.1 828.6L1830.2 830.7L1830.3 832.7L1830.4 834.8L1830.5 836.9L1830.6 839.0L1830.7 841.1L1830.9 843.2L1831.0 845.3L1831.1 847.4L1831.2 849.5L1831.3 851.6L1831.4 853.5L1831.5 855.5L1831.6 857.4L1831.7 859.4L1831.8 861.4L1831.9 863.4L1832.0 865.4L1832.1 867.4L1832.2 869.4L1832.2 871.5L1832.3 873.5L1832.4 875.6L1832.5 877.7L1832.6 879.7L1832.7 881.8L1832.8 883.9L1832.9 886.1L1833.0 888.2L1833.1 890.3L1833.2 892.4L1833.3 894.6L1833.4 896.7L1833.5 898.8L1833.6 901.0L1833.7 903.1L1833.8 905.3L1833.8 907.4L1833.9 909.6L1834.0 911.7L1834.1 913.9L1834.2 916.0L1834.3 918.2L1834.4 920.3L1834.5 922.5L1834.6 924.6L1834.7 926.8L1834.8 928.9L1834.9 931.0L1835.0 933.2L1835.1 935.3L1835.2 937.4L1835.3 939.5L1835.4 941.6L1835.5 943.7L1835.6 945.8L1835.7 947.9L1835.8 949.9L1835.9 952.0L1836.0 954.0L1836.1 956.1L1836.2 958.1L1836.3 960.1L1836.4 962.1L1836.5 964.1L1836.6 966.1L1836.7 968.0L1836.8 969.9L1836.9 971.9L1837.0 973.8L1837.1 975.7L1837.2 977.5L1837.3 979.4L1837.4 981.2L1837.6 983.0L1837.7 984.8L1837.8 986.6L1837.9 988.4L1838.0 990.1L1838.1 991.8L1838.2 993.5L1838.3 995.2L1838.5 996.8L1838.6 998.4L1838.7 1000.0L1838.9 1002.4L1839.1 1004.8L1839.3 1007.1L1839.5 1009.4L1839.7 1011.6L1839.9 1013.8L1840.1 1016.0L1840.3 1018.1L1840.5 1020.1L1840.7 1022.2L1840.9 1024.2L1841.1 1026.2L1841.3 1028.1L1841.5 1030.1L1841.7 1032.0L1842.0 1033.9L1842.2 1035.8L1842.4 1037.6L1842.6 1039.5L1842.8 1041.3L1843.0 1043.2L1843.2 1045.0L1843.4 1046.9L1843.6 1048.7L1843.8 1050.6L1844.0 1052.5L1844.2 1054.3L1844.4 1056.2L1844.6 1058.2L1844.8 1060.1L1844.9 1062.1L1845.1 1064.0L1845.3 1066.0L1845.5 1068.0L1845.6 1070.0L1845.8 1072.0L1845.9 1074.0L1846.1 1076.0L1846.2 1078.0L1846.4 1080.0L1846.5 1082.1L1846.7 1084.1L1846.8 1086.1L1847.0 1088.1L1847.1 1090.1L1847.2 1092.1L1847.4 1094.2L1847.5 1096.2L1847.7 1098.2L1847.8 1100.2L1847.9 1102.2L1848.1 1104.2L1848.2 1106.3L1848.4 1108.3L1848.5 1110.3L1848.7 1112.3L1848.8 1114.3L1849.0 1116.3L1849.2 1118.4L1849.3 1120.4L1849.5 1122.4L1849.7 1124.4L1849.9 1126.4L1850.1 1128.5L1850.3 1130.5L1850.5 1132.5L1850.6 1134.6L1850.8 1136.6L1851.0 1138.7L1851.2 1140.7L1851.4 1142.8L1851.6 1144.8L1851.9 1146.9L1852.1 1148.9L1852.3 1151.0L1852.5 1153.0L1852.7 1155.1L1852.9 1157.1L1853.1 1159.2L1853.3 1161.2L1853.6 1163.2L1853.8 1165.3L1854.0 1167.3L1854.2 1169.3L1854.5 1171.3L1854.7 1173.3L1854.9 1175.4L1855.2 1177.4L1855.4 1179.4L1855.6 1181.3L1855.9 1183.3L1856.1 1185.3L1856.4 1187.2L1856.6 1189.4L1856.9 1191.5L1857.2 1193.7L1857.5 1195.8L1857.7 1198.0L1858.0 1200.1L1858.3 1202.2L1858.6 1204.3L1858.9 1206.4L1859.2 1208.5L1859.5 1210.5L1859.8 1212.6L1860.1 1214.6L1860.4 1216.6L1860.7 1218.6L1861.0 1220.5L1861.3 1222.5L1861.6 1224.4L1861.9 1226.4L1862.2 1228.3L1862.5 1230.2L1862.9 1232.0L1863.2 1233.9L1863.5 1235.8L1863.8 1237.6L1864.2 1239.7L1864.6 1241.7L1865.0 1243.8L1865.4 1245.9L1865.8 1247.9L1866.1 1250.0L1866.5 1252.0L1866.9 1254.0L1867.3 1256.0L1867.7 1258.0L1868.2 1259.9L1868.6 1261.8L1869.0 1263.7L1869.4 1265.5L1869.9 1267.3L1870.3 1269.0L1870.8 1270.7L1871.3 1272.4L1871.8 1274.1L1872.4 1276.0L1873.0 1278.0L1873.6 1280.0L1874.2 1281.9L1874.8 1283.9L1875.5 1285.9L1876.2 1287.9L1876.8 1289.8L1877.5 1291.7L1878.2 1293.6L1879.0 1295.5L1879.7 1297.3L1880.5 1299.1L1881.4 1301.1L1882.3 1303.1L1883.2 1305.2L1884.2 1307.4L1885.2 1309.6L1886.2 1311.7L1887.2 1313.7L1888.3 1315.4L1889.4 1317.0L1890.5 1318.4L1892.0 1320.1L1893.6 1321.7L1895.2 1323.1L1896.9 1324.2L1898.7 1324.8L1900.5 1325.1L1902.4 1325.5L1904.4 1325.6L1906.5 1325.4L1908.7 1325.1L1910.8 1324.9L1913.0 1324.6L1915.1 1324.2L1917.2 1324.0L1919.4 1323.8L1921.5 1323.6L1923.7 1323.2L1925.9 1323.3L1928.0 1323.5L1930.2 1323.4L1932.3 1323.0L1934.5 1322.8L1936.6 1322.4L1938.7 1321.7L1940.9 1320.8L1943.0 1320.0L1944.9 1319.3L1946.8 1318.5L1948.7 1317.7L1950.6 1316.9L1952.4 1316.1L1954.3 1315.4L1956.2 1314.6L1958.0 1313.8L1959.7 1312.8L1961.4 1311.8L1963.1 1310.7L1964.8 1309.6L1966.5 1308.4L1968.1 1306.9L1969.8 1305.2L1971.4 1303.6L1973.0 1302.2L1974.6 1300.9L1976.1 1299.4L1977.7 1297.8L1979.2 1296.3L1980.7 1294.9L1982.2 1293.6L1983.7 1292.3L1985.2 1291.0L1986.6 1289.5L1988.0 1287.8L1989.4 1286.1L1990.7 1284.4L1992.0 1282.7L1993.2 1280.9L1994.5 1279.1L1995.7 1277.2L1996.9 1275.2L1998.1 1273.2L1999.3 1271.1L2000.5 1269.2L2001.6 1267.5L2002.7 1265.8L2003.7 1264.1L2004.8 1262.4L2005.8 1260.7L2006.9 1258.8L2007.9 1257.0L2008.9 1255.1L2010.0 1253.3L2011.0 1251.4L2012.0 1249.6L2013.0 1247.7L2013.9 1246.0L2014.7 1244.2L2015.6 1242.4L2016.5 1240.6L2017.3 1238.7L2018.2 1236.9L2019.1 1235.0L2019.9 1233.1L2020.7 1231.2L2021.6 1229.3L2022.4 1227.4L2023.2 1225.4L2024.0 1223.4L2024.7 1221.4L2025.5 1219.3L2026.2 1217.4L2026.9 1215.5L2027.5 1213.6L2028.2 1211.7L2028.8 1209.8L2029.4 1207.9L2030.0 1206.0L2030.6 1204.0L2031.2 1202.1L2031.8 1200.1L2032.4 1198.1L2033.0 1196.1L2033.6 1194.1L2034.2 1192.1L2034.8 1190.1L2035.4 1188.1L2036.0 1186.1L2036.6 1184.3L2037.2 1182.5L2037.8 1180.7L2038.4 1178.9L2039.0 1177.1L2039.6 1175.3L2040.2 1173.5L2040.8 1171.7L2041.4 1169.8L2042.0 1167.9L2042.6 1165.9L2043.2 1164.0L2043.8 1162.0L2044.4 1160.1L2045.0 1158.1L2045.6 1156.2L2046.2 1154.2L2046.8 1152.3L2047.4 1150.3L2047.9 1148.4L2048.5 1146.5L2049.1 1144.6L2049.6 1142.6L2050.2 1140.6L2050.7 1138.6L2051.3 1136.5L2051.9 1134.4L2052.4 1132.3L2053.0 1130.2L2053.5 1128.1L2054.1 1126.0L2054.6 1123.9L2055.2 1121.8L2055.7 1119.7L2056.3 1117.7L2056.8 1115.7L2057.3 1113.7L2057.8 1111.7L2058.3 1109.8L2058.8 1107.9L2059.3 1106.1L2059.8 1104.2L2060.4 1102.1L2060.9 1099.9L2061.4 1097.8L2061.9 1095.7L2062.4 1093.7L2062.9 1091.6L2063.4 1089.6L2063.9 1087.6L2064.4 1085.5L2064.8 1083.5L2065.3 1081.4L2065.8 1079.4L2066.3 1077.3L2066.7 1075.2L2067.2 1073.1L2067.7 1071.0" fill="none" stroke="#0000ff" stroke-width="10.8" stroke-linejoin="round" stroke-linecap="butt"/><path d="M250.4 1024.7L250.9 1022.7L251.4 1020.7L251.8 1018.6L252.3 1016.6L252.8 1014.6L253.3 1012.5L253.8 1010.5L254.3 1008.5L254.7 1006.5L255.2 1004.4L255.7 1002.4L256.2 1000.4L256.7 998.4L257.2 996.4L257.6 994.4L258.1 992.4L258.6 990.4L259.1 988.4L259.6 986.5L260.1 984.6L260.5 982.6L261.0 980.7L261.5 978.8L262.0 977.0L262.4 975.1L262.9 973.3L263.4 971.2L264.0 969.2L264.5 967.2L265.1 965.2L265.6 963.2L266.2 961.3L266.7 959.4L267.2 957.6L267.8 955.7L268.3 953.8L268.8 951.9L269.4 950.1L269.9 948.1L270.4 946.2L271.0 944.3L271.5 942.3L272.1 940.2L272.6 938.1L273.2 936.0L273.7 934.2L274.1 932.3L274.6 930.5L275.1 928.6L275.6 926.6L276.1 924.7L276.6 922.7L277.1 920.7L277.6 918.7L278.1 916.7L278.6 914.6L279.1 912.6L279.6 910.5L280.1 908.5L280.6 906.4L281.1 904.3L281.6 902.2L282.1 900.2L282.6 898.1L283.1 896.0L283.5 894.0L284.0 891.9L284.5 889.9L285.0 887.9L285.5 885.9L285.9 883.9L286.4 881.9L286.8 880.0L287.3 877.9L287.8 875.9L288.2 873.9L288.7 871.8L289.1 869.8L289.6 867.8L290.0 865.8L290.4 863.9L290.9 861.9L291.3 859.9L291.7 858.0L292.1 856.0L292.5 854.0L293.0 852.1L293.4 850.1L293.8 848.1L294.2 846.2L294.7 844.2L295.1 842.2L295.5 840.2L296.0 838.1L296.4 836.1L296.9 834.1L297.4 832.0L297.8 830.1L298.2 828.1L298.7 826.2L299.1 824.2L299.6 822.2L300.0 820.2L300.5 818.2L300.9 816.2L301.4 814.2L301.9 812.1L302.3 810.1L302.8 808.1L303.3 806.0L303.7 804.0L304.2 801.9L304.7 799.9L305.1 797.9L305.6 795.8L306.1 793.8L306.6 791.8L307.0 789.8L307.5 787.8L308.0 785.8L308.5 783.8L309.0 781.8L309.5 779.9L309.9 777.9L310.4 776.0L310.9 773.9L311.5 771.9L312.0 769.8L312.6 767.7L313.1 765.7L313.6 763.6L314.2 761.6L314.7 759.6L315.3 757.6L315.8 755.6L316.4 753.6L316.9 751.6L317.5 749.6L318.0 747.6L318.6 745.6L319.1 743.6L319.7 741.6L320.2 739.7L320.8 737.7L321.3 735.8L321.9 733.8L322.4 731.9L322.9 729.9L323.5 728.0L324.0 725.9L324.6 723.9L325.1 721.8L325.7 719.7L326.3 717.6L326.8 715.5L327.4 713.5L327.9 711.4L328.5 709.4L329.0 707.3L329.6 705.3L330.1 703.3L330.7 701.3L331.2 699.3L331.7 697.3L332.2 695.4L332.8 693.4L333.3 691.5L333.8 689.7L334.3 687.8L334.8 686.0L335.4 683.8L336.0 681.7L336.5 679.6L337.1 677.6L337.6 675.6L338.2 673.6L338.7 671.6L339.3 669.7L339.8 667.8L340.3 665.8L340.9 663.9L341.4 662.0L342.0 660.0L342.5 658.0L343.0 656.0L343.6 654.0L344.1 652.0L344.7 650.0L345.2 648.0L345.8 646.0L346.3 644.0L346.9 642.0L347.4 640.0L348.0 638.0L348.5 636.0L349.1 634.0L349.6 632.0L350.2 630.0L350.8 628.0L351.4 626.0L351.9 624.0L352.5 622.0L353.1 620.0L353.7 618.0L354.3 616.0L354.9 614.0L355.5 612.0L356.1 610.0L356.7 608.0L357.4 606.0L358.0 604.0L358.6 602.0L359.2 600.0L359.8 598.0L360.5 596.0L361.1 594.0L361.7 592.0L362.3 589.9L362.9 587.9L363.6 585.9L364.2 583.9L364.9 581.9L365.6 579.9L366.3 577.9L367.0 576.0L367.7 574.0L368.5 572.0L369.3 570.0L370.1 567.9L371.0 565.8L371.9 563.7L372.8 561.6L373.7 559.6L374.6 557.5L375.5 555.6L376.4 553.6L377.2 551.8L378.0 550.1L378.8 548.4L379.5 546.9L380.6 544.5L381.6 542.4L382.5 540.5L383.5 538.6L384.5 536.8L385.7 534.7L386.9 532.6L388.2 530.6L389.5 528.8L391.1 526.8L392.7 525.0L394.5 523.5L397.0 522.1L399.5 521.5L402.0 521.8L404.5 522.9L406.2 524.1L407.9 525.5L409.5 527.2L410.8 528.8L412.1 530.5L413.3 532.3L414.5 534.3L415.5 536.0L416.4 537.7L417.3 539.5L418.2 541.4L419.1 543.4L420.1 545.7L420.8 547.3L421.5 549.1L422.2 550.9L422.9 552.8L423.6 554.8L424.4 556.9L425.1 559.0L425.9 561.2L426.6 563.3L427.3 565.5L428.0 567.7L428.7 569.8L429.3 571.9L429.9 574.0L430.5 576.0L431.0 578.0L431.5 580.0L432.0 582.0L432.4 584.0L432.9 586.0L433.3 588.0L433.7 590.0L434.1 592.0L434.5 594.0L435.0 596.0L435.4 598.0L435.8 600.0L436.2 602.0L436.6 604.0L437.0 606.0L437.4 608.0L437.8 610.0L438.3 612.0L438.6 614.0L439.0 616.0L439.4 618.0L439.8 620.0L440.2 622.0L440.6 624.0L441.0 626.0L441.4 628.0L441.8 630.0L442.2 632.0L442.6 634.0L443.0 636.0L443.4 638.0L443.8 640.0L444.2 642.0L444.6 644.0L445.0 646.0L445.4 648.0L445.8 650.0L446.2 652.0L446.6 654.0L447.0 656.0L447.4 658.0L447.8 660.0L448.2 662.0L448.6 664.0L449.0 665.9L449.4 667.9L449.8 669.9L450.2 671.8L450.6 673.8L451.0 675.8L451.4 677.8L451.8 679.8L452.2 681.9L452.6 683.9L453.0 686.0L453.3 687.9L453.7 689.8L454.1 691.7L454.5 693.6L454.9 695.5L455.2 697.4L455.6 699.3L456.0 701.3L456.4 703.2L456.8 705.2L457.1 707.2L457.5 709.3L457.9 711.3L458.3 713.4L458.7 715.6L459.1 717.8L459.4 720.0L459.7 721.8L460.0 723.6L460.3 725.4L460.6 727.3L460.9 729.2L461.2 731.1L461.5 733.0L461.8 735.0L462.0 737.0L462.3 739.0L462.6 741.0L462.9 743.0L463.2 745.1L463.5 747.1L463.8 749.2L464.1 751.3L464.3 753.3L464.6 755.4L464.9 757.5L465.2 759.6L465.5 761.7L465.8 763.8L466.1 765.8L466.4 767.9L466.7 769.9L467.0 772.0L467.3 774.0L467.6 776.0L467.9 778.0L468.2 780.0L468.6 782.0L468.9 784.0L469.2 786.0L469.5 788.0L469.9 790.0L470.2 792.0L470.5 794.0L470.9 796.0L471.2 798.0L471.5 800.0L471.9 802.0L472.2 804.0L472.5 806.0L472.9 808.0L473.2 810.0L473.5 812.0L473.9 814.0L474.2 816.0L474.5 818.0L474.8 820.0L475.2 822.0L475.5 824.0L475.8 826.0L476.1 828.0L476.4 830.0L476.7 832.0L477.0 834.0L477.3 836.0L477.6 838.0L477.9 840.0L478.2 842.0L478.5 844.0L478.7 846.0L479.0 848.0L479.3 850.0L479.6 852.0L479.9 854.0L480.1 856.0L480.4 858.0L480.7 860.0L481.0 862.0L481.2 864.0L481.5 866.0L481.8 868.0L482.0 870.0L482.3 872.0L482.5 874.0L482.8 876.0L483.0 878.0L483.3 880.0L483.5 882.0L483.8 884.0L484.0 886.0L484.3 888.0L484.5 890.0L484.7 892.0L484.9 894.0L485.2 896.0L485.4 898.0L485.6 900.0L485.8 902.0L486.0 904.0L486.2 906.0L486.4 908.0L486.6 910.0L486.8 912.0L487.0 914.0L487.2 916.0L487.4 918.0L487.6 920.0L487.7 922.0L487.9 924.0L488.1 926.0L488.3 928.0L488.5 930.0L488.7 932.0L488.9 934.0L489.1 936.0L489.3 938.0L489.5 940.0L489.7 942.0L489.9 944.0L490.1 946.0L490.3 948.0L490.5 950.1L490.7 952.1L490.9 954.2L491.1 956.2L491.3 958.3L491.6 960.3L491.8 962.4L492.0 964.5L492.2 966.5L492.4 968.6L492.6 970.7L492.8 972.7L493.0 974.8L493.3 976.8L493.5 978.8L493.7 980.9L493.9 982.9L494.1 984.9L494.3 986.8L494.6 988.8L494.8 990.7L495.0 992.6L495.2 994.5L495.4 996.4L495.7 998.2L495.9 1000.0L496.2 1002.2L496.5 1004.4L496.8 1006.6L497.1 1008.7L497.4 1010.7L497.6 1012.8L497.9 1014.8L498.2 1016.8L498.5 1018.8L498.8 1020.7L499.1 1022.7L499.5 1024.7L499.8 1026.7L500.1 1028.7L500.4 1030.8L500.7 1032.8L501.0 1034.9L501.3 1037.1L501.6 1039.1L501.9 1041.0L502.2 1043.0L502.5 1045.0L502.9 1047.0L503.2 1049.1L503.5 1051.1L503.8 1053.2L504.1 1055.3L504.4 1057.4L504.7 1059.5L505.1 1061.6L505.4 1063.7L505.7 1065.8L506.0 1068.0L506.4 1070.1L506.7 1072.3L507.0 1074.4L507.3 1076.5L507.7 1078.6L508.0 1080.7L508.3 1082.9L508.6 1084.8L508.9 1086.8L509.2 1088.9L509.5 1090.9L509.9 1092.9L510.2 1094.9L510.5 1096.9L510.8 1098.9L511.1 1100.9L511.4 1102.9L511.7 1104.8L512.0 1106.8L512.3 1108.8L512.6 1110.8L513.0 1112.7L513.3 1114.7L513.6 1116.6L513.9 1118.6L514.3 1120.5L514.6 1122.4L515.0 1124.3L515.3 1126.3L515.7 1128.2L516.0 1130.0L516.4 1132.1L516.8 1134.2L517.3 1136.2L517.7 1138.2L518.1 1140.2L518.6 1142.1L519.0 1144.0L519.4 1145.9L519.9 1147.8L520.4 1149.7L520.8 1151.6L521.3 1153.5L521.7 1155.4L522.2 1157.3L522.7 1159.2L523.1 1161.2L523.6 1163.2L524.1 1165.2L524.5 1167.1L525.0 1169.1L525.5 1171.0L525.9 1173.0L526.4 1174.9L526.8 1176.9L527.3 1178.8L527.8 1180.8L528.2 1182.8L528.7 1184.8L529.2 1186.8L529.7 1188.8L530.1 1190.8L530.6 1192.8L531.1 1194.8L531.6 1196.8L532.1 1198.8L532.5 1200.8L533.0 1202.8L533.5 1204.7L534.0 1206.6L534.5 1208.6L535.0 1210.5L535.5 1212.5L536.1 1214.5L536.6 1216.5L537.1 1218.5L537.7 1220.5L538.2 1222.6L538.8 1224.6L539.3 1226.6L539.9 1228.7L540.4 1230.8L541.0 1232.8L541.6 1234.8L542.1 1236.8L542.7 1238.8L543.3 1240.8L543.8 1242.7L544.4 1244.6L545.0 1246.4L545.7 1248.6L546.4 1250.7L547.0 1252.8L547.7 1255.0L548.4 1257.1L549.1 1259.2L549.8 1261.2L550.5 1263.3L551.3 1265.2L552.0 1267.2L552.7 1269.1L553.5 1270.9L554.2 1272.6L555.0 1274.3L555.9 1276.3L556.9 1278.2L557.8 1280.2L558.8 1282.2L559.8 1284.3L560.8 1286.5L561.8 1288.7L562.8 1290.9L563.9 1293.0L565.0 1294.8L566.3 1296.8L567.7 1299.0L569.1 1301.3L570.5 1303.4L572.0 1305.3L573.5 1306.6L575.0 1307.7L576.9 1308.7L579.0 1309.6L581.0 1310.2L583.1 1310.6L585.0 1310.9L587.6 1311.5L590.1 1311.5L592.5 1310.8L593.9 1309.8L595.1 1308.3L596.3 1306.2L597.5 1304.0L598.7 1301.8L600.0 1299.7L601.2 1298.2L602.4 1296.5L603.6 1294.9L604.9 1293.2L606.2 1291.5L607.4 1289.8L608.7 1288.1L610.0 1286.4L611.4 1284.6L612.9 1282.9L614.3 1281.2L615.8 1279.5L617.2 1277.5L618.6 1275.4L620.0 1273.2L621.0 1271.5L621.9 1269.9L622.9 1268.2L623.8 1266.4L624.7 1264.6L625.6 1262.7L626.4 1260.8L627.3 1258.9L628.2 1256.9L629.1 1255.0L630.0 1253.1L630.8 1251.7L631.5 1250.2L632.3 1248.7L633.1 1247.1L633.9 1245.5L634.7 1243.8L635.5 1242.0L636.3 1240.1L637.1 1238.3L637.8 1236.5L638.6 1234.7L639.4 1232.9L640.2 1231.1L641.0 1229.3L641.7 1227.4L642.5 1225.5L643.2 1223.6L643.9 1221.7L644.6 1219.8L645.4 1217.9L646.1 1216.0L646.8 1214.0L647.5 1212.1L648.2 1210.1L648.9 1208.2L649.5 1206.2L650.2 1204.3L650.9 1202.3L651.6 1200.4L652.3 1198.5L653.0 1196.5L653.6 1194.5L654.3 1192.6L655.0 1190.6L655.6 1188.7L656.3 1186.8L656.9 1184.8L657.6 1182.8L658.2 1180.7L658.8 1178.7L659.4 1176.6L660.1 1174.5L660.7 1172.4L661.3 1170.3L661.9 1168.2L662.5 1166.1L663.2 1164.1L663.8 1162.1L664.4 1160.0L665.0 1157.9L665.6 1155.8L666.3 1153.7L666.9 1151.6L667.5 1149.5L668.1 1147.4L668.8 1145.3L669.4 1143.2L670.0 1141.2L670.6 1139.2L671.3 1137.2L671.9 1135.3L672.5 1133.4L673.1 1131.5L673.8 1129.6L674.4 1127.7L675.0 1125.8L675.7 1123.8L676.3 1121.9L676.9 1119.9L677.5 1117.9L678.1 1115.9L678.8 1113.9L679.4 1112.0L680.0 1110.0L680.6 1108.1L681.2 1106.3L681.7 1104.4L682.3 1102.5L682.9 1100.6L683.4 1098.7L684.0 1096.8L684.6 1094.8L685.1 1092.8L685.7 1090.9L686.3 1088.9L686.8 1086.9L687.4 1084.9L688.0 1082.9L688.5 1080.9L689.1 1078.9L689.6 1076.9L690.2 1074.9L690.8 1073.0L691.4 1071.0L691.9 1069.0L692.5 1067.1L693.1 1065.1L693.7 1063.1L694.3 1061.1L694.8 1059.2L695.4 1057.3L696.0 1055.3L696.6 1053.5L697.2 1051.6L697.8 1049.7L698.3 1047.9L698.9 1046.0L699.5 1044.1L700.1 1042.2L700.7 1040.3L701.3 1038.4L701.9 1036.4L702.5 1034.3L703.1 1032.3L703.7 1030.2L704.4 1028.0L705.0 1025.8L705.5 1024.2L705.9 1022.5L706.4 1020.8L706.9 1019.1L707.3 1017.4L707.8 1015.7L708.3 1013.9L708.8 1012.2L709.2 1010.4L709.7 1008.6L710.2 1006.7L710.7 1004.9L711.2 1003.0L711.7 1001.1L712.2 999.2L712.7 997.3L713.2 995.3L713.7 993.4L714.2 991.4L714.7 989.4L715.2 987.5L715.7 985.5L716.2 983.4L716.7 981.4L717.2 979.4L717.7 977.3L718.2 975.3L718.7 973.2L719.2 971.2L719.7 969.1L720.2 967.0L720.7 964.9L721.3 962.8L721.8 960.7L722.3 958.5L722.8 956.4L723.3 954.3L723.8 952.1L724.3 950.0L724.7 948.2L725.2 946.4L725.6 944.6L726.0 942.7L726.4 940.9L726.9 939.0L727.3 937.1L727.7 935.2L728.2 933.2L728.6 931.3L729.1 929.3L729.5 927.4L729.9 925.4L730.4 923.4L730.8 921.4L731.3 919.4L731.7 917.4L732.2 915.4L732.6 913.3L733.1 911.3L733.5 909.3L733.9 907.2L734.4 905.1L734.8 903.1L735.3 901.0L735.7 899.0L736.2 896.9L736.6 894.8L737.1 892.7L737.5 890.7L738.0 888.6L738.4 886.5L738.9 884.5L739.3 882.4L739.8 880.3L740.2 878.3L740.6 876.2L741.1 874.2L741.5 872.1L742.0 870.1L742.4 868.0L742.8 866.0L743.3 864.0L743.7 862.0L744.2 860.0L744.6 858.0L745.0 856.0L745.4 854.1L745.9 852.1L746.3 850.2L746.7 848.2L747.2 846.3L747.6 844.4L748.0 842.5L748.4 840.7L748.8 838.8L749.2 837.0L749.7 834.9L750.2 832.8L750.7 830.7L751.1 828.7L751.6 826.6L752.1 824.6L752.5 822.5L753.0 820.5L753.5 818.5L753.9 816.5L754.4 814.5L754.8 812.5L755.3 810.5L755.7 808.6L756.2 806.6L756.6 804.6L757.1 802.7L757.6 800.7L758.0 798.8L758.4 796.9L758.9 794.9L759.3 793.0L759.8 791.1L760.2 789.2L760.7 787.3L761.1 785.4L761.6 783.5L762.0 781.6L762.5 779.7L762.9 777.8L763.3 775.9L763.8 774.0L764.2 772.1L764.7 770.2L765.1 768.3L765.5 766.4L766.0 764.5L766.4 762.6L766.9 760.7L767.3 758.8L767.8 756.9L768.2 755.0L768.7 753.0L769.1 750.9L769.6 748.9L770.1 746.9L770.5 744.8L771.0 742.8L771.5 740.7L772.0 738.6L772.4 736.6L772.9 734.5L773.4 732.4L773.9 730.4L774.3 728.3L774.8 726.3L775.3 724.2L775.7 722.2L776.2 720.1L776.7 718.1L777.2 716.0L777.6 714.0L778.1 712.0L778.5 710.0L779.0 708.0L779.5 706.0L779.9 704.0L780.4 702.1L780.8 700.2L781.3 698.2L781.7 696.3L782.2 694.4L782.6 692.5L783.0 690.7L783.5 688.9L783.9 687.0L784.3 685.2L784.8 683.5L785.2 681.7L785.6 680.0L786.1 677.7L786.7 675.5L787.2 673.3L787.7 671.1L788.3 669.0L788.8 666.9L789.3 664.8L789.8 662.7L790.3 660.7L790.8 658.6L791.3 656.6L791.8 654.7L792.3 652.7L792.8 650.8L793.3 648.9L793.8 647.0L794.2 645.1L794.7 643.2L795.1 641.4L795.6 639.6L796.1 637.8L796.5 636.0L797.0 633.8L797.6 631.7L798.1 629.6L798.6 627.5L799.1 625.5L799.6 623.6L800.1 621.6L800.5 619.7L801.0 617.7L801.5 615.8L802.0 613.9L802.5 611.9L803.0 610.0L803.5 608.0L804.0 606.0L804.6 604.0L805.1 602.0L805.7 600.0L806.2 598.0L806.8 596.0L807.3 594.0L807.9 592.0L808.4 590.0L809.0 588.0L809.5 586.0L810.1 584.0L810.6 582.0L811.2 580.0L811.7 578.0L812.3 576.0L812.8 574.0L813.4 572.0L813.9 570.0L814.4 568.0L815.0 566.0L815.5 564.0L816.1 562.0L816.6 560.0L817.2 558.0L817.7 556.0L818.3 554.0L818.9 552.0L819.5 550.0L820.1 548.0L820.7 546.0L821.3 544.0L822.0 542.0L822.6 540.0L823.3 538.0L823.9 536.0L824.6 534.0L825.2 532.0L825.9 530.0L826.6 528.0L827.3 526.0L828.0 524.0L828.7 522.0L829.4 520.0L830.2 518.0L830.9 515.9L831.7 513.7L832.5 511.6L833.3 509.5L834.1 507.5L834.9 505.4L835.7 503.5L836.4 501.6L837.2 499.8L837.9 498.1L838.6 496.5L839.2 495.0L840.2 492.7L841.2 490.7L842.1 488.9L843.1 487.2L844.0 485.6L845.3 483.5L846.6 481.5L848.0 479.7L849.9 477.5L852.0 475.7L854.0 474.7L856.0 474.3L858.0 474.6L860.0 475.5L862.1 477.0L864.0 479.0L865.4 480.7L866.7 482.7L868.0 485.0L868.9 486.6L869.7 488.4L870.6 490.3L871.5 492.3L872.4 494.4L873.3 496.5L874.2 498.8L874.8 500.5L875.5 502.2L876.2 504.0L876.8 505.9L877.5 507.8L878.2 509.8L878.8 511.8L879.5 513.8L880.1 515.9L880.8 517.9L881.4 519.9L881.9 522.0L882.5 524.0L883.0 525.9L883.5 527.9L884.0 529.9L884.4 531.9L884.9 533.9L885.3 535.9L885.7 537.9L886.1 539.9L886.5 541.9L886.9 543.9L887.3 546.0L887.6 548.0L888.0 550.0L888.4 552.0L888.8 554.0L889.2 556.0L889.5 558.0L889.9 560.0L890.2 562.0L890.6 564.0L890.9 566.0L891.3 568.0L891.6 570.0L891.9 572.0L892.3 574.0L892.6 576.0L893.0 578.0L893.3 580.0L893.7 582.0L894.0 584.0L894.3 586.0L894.7 588.0L895.1 590.0L895.4 592.0L895.8 594.0L896.1 596.0L896.5 598.0L896.8 600.0L897.2 602.0L897.5 604.0L897.9 606.0L898.2 608.0L898.5 610.0L898.9 611.9L899.2 613.9L899.6 615.8L899.9 617.7L900.3 619.7L900.6 621.6L901.0 623.6L901.3 625.5L901.7 627.5L902.0 629.6L902.4 631.7L902.7 633.8L903.1 636.0L903.4 637.8L903.7 639.6L904.0 641.4L904.3 643.3L904.6 645.2L904.9 647.1L905.2 649.0L905.5 651.0L905.8 652.9L906.1 654.9L906.4 656.9L906.7 659.0L907.0 661.0L907.3 663.1L907.7 665.1L908.0 667.2L908.3 669.3L908.6 671.4L908.9 673.6L909.2 675.7L909.5 677.8L909.9 680.0L910.1 681.9L910.4 683.7L910.7 685.6L911.0 687.5L911.2 689.4L911.5 691.4L911.8 693.3L912.1 695.3L912.4 697.2L912.7 699.2L912.9 701.2L913.2 703.2L913.5 705.2L913.8 707.2L914.1 709.3L914.4 711.3L914.7 713.3L914.9 715.4L915.2 717.4L915.5 719.5L915.8 721.5L916.1 723.6L916.3 725.6L916.6 727.7L916.9 729.7L917.2 731.8L917.4 733.9L917.7 735.9L918.0 738.0L918.2 740.0L918.5 742.0L918.7 744.0L919.0 745.9L919.2 747.9L919.4 749.9L919.7 751.8L919.9 753.8L920.1 755.8L920.4 757.7L920.6 759.7L920.8 761.7L921.0 763.6L921.3 765.6L921.5 767.6L921.7 769.6L921.9 771.6L922.2 773.6L922.4 775.6L922.6 777.6L922.8 779.6L923.1 781.6L923.3 783.7L923.5 785.7L923.7 787.8L924.0 789.9L924.2 792.0L924.5 794.1L924.7 796.3L924.9 798.4L925.2 800.6L925.4 802.8L925.7 805.0L925.9 806.8L926.1 808.7L926.4 810.6L926.6 812.4L926.8 814.3L927.0 816.2L927.3 818.2L927.5 820.1L927.7 822.0L928.0 824.0L928.2 825.9L928.4 827.9L928.7 829.9L928.9 831.9L929.2 833.9L929.4 835.9L929.7 837.9L929.9 840.0L930.1 842.0L930.4 844.0L930.6 846.1L930.9 848.1L931.1 850.2L931.4 852.3L931.6 854.3L931.9 856.4L932.1 858.5L932.4 860.5L932.6 862.6L932.9 864.7L933.1 866.8L933.4 868.9L933.6 871.0L933.9 873.0L934.1 875.1L934.4 877.2L934.6 879.3L934.9 881.4L935.1 883.5L935.3 885.5L935.6 887.6L935.8 889.7L936.1 891.8L936.3 893.8L936.5 895.9L936.8 897.9L937.0 900.0L937.2 902.0L937.4 904.0L937.6 906.0L937.9 908.1L938.1 910.1L938.3 912.2L938.5 914.3L938.7 916.4L939.0 918.5L939.2 920.6L939.4 922.7L939.6 924.9L939.8 927.0L940.1 929.2L940.3 931.3L940.5 933.5L940.7 935.6L940.9 937.8L941.2 940.0L941.4 942.1L941.6 944.3L941.8 946.4L942.0 948.6L942.2 950.7L942.4 952.8L942.7 955.0L942.9 957.1L943.1 959.2L943.3 961.3L943.5 963.3L943.7 965.4L943.9 967.4L944.1 969.5L944.3 971.5L944.5 973.5L944.7 975.4L944.9 977.4L945.1 979.3L945.3 981.2L945.5 983.0L945.7 984.9L945.9 986.7L946.1 988.5L946.3 990.2L946.5 991.9L946.7 993.6L946.8 995.3L947.0 996.9L947.2 998.5L947.4 1000.0L947.7 1002.5L948.0 1004.9L948.3 1007.2L948.6 1009.4L948.8 1011.6L949.1 1013.7L949.4 1015.7L949.6 1017.7L949.9 1019.7L950.2 1021.6L950.4 1023.6L950.7 1025.5L951.0 1027.5L951.2 1029.4L951.5 1031.4L951.8 1033.5L952.0 1035.6L952.3 1037.8L952.5 1039.6L952.8 1041.5L953.0 1043.3L953.2 1045.2L953.4 1047.1L953.7 1048.9L953.9 1050.8L954.1 1052.7L954.3 1054.6L954.5 1056.5L954.8 1058.4L955.0 1060.3L955.2 1062.2L955.4 1064.2L955.7 1066.1L955.9 1068.1L956.1 1070.0L956.4 1072.0L956.6 1074.0L956.9 1076.1L957.1 1078.1L957.4 1080.2L957.7 1082.3L957.9 1084.4L958.2 1086.5L958.5 1088.4L958.7 1090.4L959.0 1092.3L959.3 1094.3L959.5 1096.3L959.8 1098.3L960.1 1100.3L960.4 1102.3L960.7 1104.4L961.0 1106.4L961.3 1108.4L961.6 1110.5L961.9 1112.6L962.2 1114.6L962.5 1116.7L962.8 1118.8L963.1 1120.8L963.4 1122.9L963.7 1125.0L964.1 1127.0L964.4 1129.1L964.7 1131.1L965.0 1133.2L965.3 1135.2L965.6 1137.3L965.9 1139.3L966.2 1141.3L966.5 1143.3L966.8 1145.3L967.1 1147.2L967.4 1149.2L967.7 1151.3L968.0 1153.4L968.4 1155.5L968.7 1157.6L969.0 1159.7L969.3 1161.8L969.6 1163.8L969.9 1165.9L970.2 1167.9L970.5 1169.9L970.9 1172.0L971.2 1174.0L971.5 1175.9L971.8 1177.9L972.1 1179.9L972.4 1181.9L972.7 1183.8L973.0 1185.8L973.3 1187.7L973.6 1189.6L973.9 1191.6L974.2 1193.5L974.6 1195.4L974.9 1197.4L975.2 1199.3L975.5 1201.4L975.8 1203.5L976.2 1205.6L976.5 1207.7L976.8 1209.8L977.1 1211.8L977.5 1213.9L977.8 1216.0L978.1 1218.1L978.4 1220.2L978.8 1222.2L979.1 1224.3L979.4 1226.4L979.7 1228.4L980.1 1230.5L980.4 1232.5L980.8 1234.5L981.1 1236.5L981.4 1238.5L981.8 1240.5L982.1 1242.5L982.5 1244.4L982.9 1246.6L983.3 1248.8L983.7 1251.0L984.1 1253.1L984.6 1255.2L985.0 1257.3L985.4 1259.4L985.8 1261.4L986.2 1263.5L986.7 1265.6L987.1 1267.6L987.6 1269.7L988.0 1271.8L988.5 1273.9L989.0 1276.0L989.5 1278.1L990.0 1280.2L990.5 1282.2L991.0 1284.3L991.6 1286.3L992.1 1288.3L992.7 1290.2L993.3 1292.2L993.9 1294.0L994.5 1295.9L995.1 1297.7L995.7 1299.5L996.3 1301.3L996.9 1303.0L997.5 1304.8L998.1 1306.6L998.7 1308.3L999.4 1310.1L1000.0 1311.9L1000.7 1313.9L1001.5 1315.9L1002.2 1317.9L1002.9 1319.9L1003.7 1321.9L1004.4 1323.8L1005.2 1325.7L1005.9 1327.6L1006.7 1329.5L1007.5 1331.4L1008.3 1333.3L1009.1 1335.2L1010.0 1337.0L1011.0 1339.2L1012.0 1341.3L1013.1 1343.3L1014.1 1345.2L1015.2 1347.1L1016.3 1348.8L1017.5 1350.4L1018.7 1351.8L1020.0 1352.9L1021.8 1354.1L1023.7 1355.3L1025.7 1356.2L1027.8 1356.7L1030.0 1357.2L1032.0 1357.9L1034.2 1358.5L1036.5 1358.7L1038.8 1358.4L1041.0 1358.2L1043.1 1357.8L1045.0 1356.7L1046.7 1355.4L1048.2 1353.9L1049.7 1352.4L1051.0 1350.8L1052.3 1349.2L1053.7 1347.5L1055.0 1345.8L1056.2 1344.3L1057.3 1343.0L1058.5 1341.8L1059.6 1340.6L1060.7 1339.3L1061.8 1337.8L1062.9 1336.0L1064.0 1334.1L1065.0 1332.1L1065.8 1330.2L1066.7 1328.4L1067.5 1326.5L1068.2 1324.5L1069.0 1322.6L1069.7 1320.7L1070.5 1318.6L1071.2 1316.4L1072.0 1314.2L1072.7 1311.9L1073.5 1309.5L1074.2 1307.1L1075.0 1304.8L1075.7 1302.9L1076.4 1301.0L1077.0 1299.2L1077.7 1297.3L1078.4 1295.3L1079.1 1293.3L1079.8 1291.3L1080.5 1289.3L1081.2 1287.3L1081.9 1285.3L1082.7 1283.3L1083.4 1281.2L1084.1 1279.3L1084.8 1277.3L1085.4 1275.3L1086.1 1273.4L1086.8 1271.5L1087.5 1269.5L1088.1 1267.7L1088.8 1265.8L1089.4 1263.9L1090.1 1261.9L1090.7 1260.0L1091.3 1258.0L1091.9 1256.0L1092.6 1254.1L1093.2 1252.1L1093.8 1250.2L1094.4 1248.2L1095.1 1246.3L1095.7 1244.3L1096.3 1242.3L1096.9 1240.3L1097.5 1238.3L1098.2 1236.2L1098.8 1234.2L1099.4 1232.1L1100.0 1230.0L1100.6 1228.0L1101.1 1226.1L1101.7 1224.1L1102.3 1222.1L1102.9 1220.2L1103.4 1218.2L1104.0 1216.2L1104.6 1214.3L1105.1 1212.3L1105.7 1210.3L1106.3 1208.2L1106.8 1206.1L1107.4 1204.0L1108.0 1201.9L1108.5 1199.8L1109.1 1197.7L1109.7 1195.6L1110.2 1193.5L1110.8 1191.5L1111.4 1189.5L1111.9 1187.6L1112.5 1185.7L1113.1 1183.7L1113.6 1181.7L1114.2 1179.8L1114.8 1177.8L1115.3 1175.8L1115.9 1173.9L1116.5 1171.9L1117.1 1170.0L1117.6 1168.0L1118.2 1166.1L1118.8 1164.2L1119.3 1162.3L1119.9 1160.5L1120.5 1158.6L1121.0 1156.8L1121.6 1155.0L1122.2 1153.3L1122.7 1151.5L1123.3 1149.7L1123.9 1147.8L1124.4 1145.9L1125.0 1144.0L1125.6 1142.1L1126.1 1140.2L1126.6 1138.3L1127.2 1136.5L1127.7 1134.6L1128.3 1132.8L1128.8 1130.9L1129.4 1129.1L1129.9 1127.2L1130.5 1125.4L1131.0 1123.5L1131.5 1121.6L1132.1 1119.7L1132.6 1117.7L1133.2 1115.7L1133.7 1113.7L1134.2 1111.7L1134.8 1109.7L1135.3 1107.7L1135.9 1105.7L1136.4 1103.7L1137.0 1101.7L1137.5 1099.7L1138.0 1097.7L1138.6 1095.7L1139.1 1093.7L1139.7 1091.7L1140.3 1089.7L1140.8 1087.7L1141.4 1085.7L1141.9 1083.6L1142.5 1081.6L1143.0 1079.6L1143.6 1077.6L1144.1 1075.6L1144.7 1073.6L1145.2 1071.6L1145.8 1069.6L1146.3 1067.7L1146.9 1065.8L1147.4 1063.9L1147.9 1062.1L1148.5 1060.3L1149.0 1058.5L1149.5 1056.8L1150.0 1055.1L1150.6 1053.1L1151.2 1051.1L1151.8 1049.1L1152.4 1047.1L1153.0 1045.1L1153.5 1043.1L1154.1 1041.1L1154.7 1039.2L1155.2 1037.3L1155.8 1035.4L1156.3 1033.5L1156.9 1031.7L1157.4 1029.8L1158.0 1028.0L1158.5 1026.1L1159.0 1024.3L1159.6 1022.2L1160.2 1020.2L1160.7 1018.4L1161.2 1016.5L1161.7 1014.7L1162.3 1012.9L1162.8 1011.1L1163.3 1009.1L1163.9 1007.1L1164.5 1004.9L1165.1 1002.6L1165.7 1000.0L1166.1 998.7L1166.4 997.3L1166.8 995.9L1167.1 994.4L1167.5 992.9L1167.9 991.4L1168.3 989.8L1168.7 988.1L1169.1 986.5L1169.5 984.8L1169.9 983.0L1170.3 981.2L1170.8 979.4L1171.2 977.5L1171.6 975.6L1172.1 973.7L1172.5 971.8L1173.0 969.8L1173.5 967.8L1173.9 965.8L1174.4 963.7L1174.9 961.7L1175.3 959.6L1175.8 957.5L1176.3 955.4L1176.8 953.2L1177.3 951.1L1177.7 948.9L1178.2 946.8L1178.7 944.6L1179.2 942.4L1179.7 940.3L1180.2 938.1L1180.7 935.9L1181.2 933.7L1181.7 931.5L1182.1 929.3L1182.6 927.2L1183.1 925.0L1183.6 922.8L1184.1 920.7L1184.5 918.5L1185.0 916.4L1185.5 914.3L1186.0 912.2L1186.4 910.1L1186.9 908.0L1187.3 906.0L1187.8 904.0L1188.2 902.0L1188.6 900.0L1189.1 898.0L1189.5 896.1L1189.9 894.1L1190.3 892.2L1190.8 890.2L1191.2 888.2L1191.6 886.3L1192.0 884.3L1192.5 882.3L1192.9 880.4L1193.3 878.4L1193.7 876.4L1194.1 874.5L1194.5 872.5L1195.0 870.5L1195.4 868.6L1195.8 866.6L1196.2 864.6L1196.6 862.6L1197.0 860.7L1197.4 858.7L1197.8 856.7L1198.3 854.8L1198.7 852.8L1199.1 850.8L1199.5 848.9L1199.9 846.9L1200.3 844.9L1200.7 843.0L1201.1 841.0L1201.5 839.0L1201.9 837.1L1202.3 835.1L1202.7 833.1L1203.1 831.2L1203.6 829.2L1204.0 827.3L1204.4 825.3L1204.8 823.4L1205.2 821.4L1205.6 819.4L1206.0 817.5L1206.4 815.5L1206.8 813.6L1207.2 811.6L1207.6 809.7L1208.0 807.8L1208.5 805.8L1208.9 803.9L1209.3 801.9L1209.7 800.0L1210.1 798.0L1210.5 796.0L1211.0 794.0L1211.4 791.9L1211.8 789.9L1212.3 787.9L1212.7 785.9L1213.2 783.8L1213.6 781.8L1214.0 779.7L1214.5 777.7L1214.9 775.7L1215.4 773.6L1215.8 771.6L1216.2 769.5L1216.7 767.5L1217.1 765.4L1217.6 763.4L1218.0 761.4L1218.4 759.3L1218.9 757.3L1219.3 755.3L1219.8 753.2L1220.2 751.2L1220.6 749.2L1221.1 747.2L1221.5 745.2L1221.9 743.2L1222.4 741.2L1222.8 739.2L1223.2 737.2L1223.7 735.2L1224.1 733.3L1224.5 731.3L1224.9 729.4L1225.4 727.4L1225.8 725.5L1226.2 723.6L1226.6 721.7L1227.0 719.8L1227.4 717.9L1227.8 716.0L1228.2 714.1L1228.6 712.3L1229.0 710.4L1229.4 708.6L1229.8 706.8L1230.2 705.0L1230.7 702.8L1231.1 700.7L1231.6 698.6L1232.0 696.5L1232.5 694.4L1232.9 692.3L1233.4 690.2L1233.8 688.1L1234.3 686.0L1234.7 684.0L1235.2 682.0L1235.6 679.9L1236.0 677.9L1236.5 675.9L1236.9 673.9L1237.3 671.9L1237.7 670.0L1238.2 668.0L1238.6 666.1L1239.0 664.1L1239.4 662.2L1239.8 660.3L1240.2 658.4L1240.6 656.5L1241.0 654.6L1241.4 652.7L1241.8 650.9L1242.2 649.0L1242.6 647.2L1243.0 645.4L1243.3 643.6L1243.7 641.8L1244.1 640.0L1244.6 637.8L1245.0 635.6L1245.4 633.5L1245.9 631.3L1246.3 629.2L1246.7 627.1L1247.2 625.0L1247.6 622.9L1248.0 620.9L1248.4 618.9L1248.8 616.8L1249.2 614.8L1249.6 612.9L1250.0 610.9L1250.4 609.0L1250.8 607.0L1251.2 605.1L1251.6 603.3L1252.0 601.4L1252.4 599.6L1252.8 597.8L1253.2 596.0L1253.7 593.8L1254.2 591.7L1254.7 589.6L1255.2 587.5L1255.7 585.5L1256.2 583.5L1256.7 581.6L1257.2 579.7L1257.7 577.7L1258.2 575.8L1258.7 573.9L1259.3 571.9L1259.8 570.0L1260.3 568.0L1260.8 566.0L1261.4 564.0L1261.9 562.0L1262.4 560.0L1263.0 558.0L1263.5 556.0L1264.1 554.0L1264.6 552.0L1265.2 550.0L1265.7 548.0L1266.3 546.0L1266.8 544.0L1267.4 542.0L1267.9 540.0L1268.4 538.0L1269.0 536.0L1269.5 534.0L1270.1 532.0L1270.6 530.0L1271.2 528.0L1271.7 526.0L1272.3 524.0L1272.8 522.0L1273.4 520.0L1273.9 518.0L1274.5 516.0L1275.0 514.0L1275.6 512.0L1276.1 510.0L1276.7 508.0L1277.2 506.0L1277.7 504.0L1278.2 502.0L1278.7 500.0L1279.3 498.0L1279.8 496.0L1280.3 494.1L1280.9 492.0L1281.5 490.0L1282.0 488.0L1282.7 486.0L1283.3 484.0L1283.9 482.1L1284.6 480.1L1285.3 478.1L1286.0 476.0L1286.8 473.9L1287.5 471.8L1288.3 469.7L1289.1 467.6L1289.9 465.6L1290.6 463.6L1291.4 461.7L1292.1 459.9L1292.8 458.1L1293.5 456.5L1294.1 455.0L1294.7 453.7L1295.8 451.3L1296.8 449.4L1297.7 447.6L1298.7 445.9L1300.0 443.7L1301.3 441.7L1302.7 439.8L1304.6 437.6L1306.7 435.9L1308.7 434.9L1310.7 434.5L1312.7 434.8L1314.7 435.7L1316.8 437.3L1318.7 439.5L1320.1 441.3L1321.4 443.4L1322.7 445.7L1323.6 447.3L1324.4 449.1L1325.2 450.9L1326.1 452.9L1326.9 455.0L1327.8 457.3L1328.4 459.0L1329.0 460.8L1329.7 462.7L1330.3 464.6L1331.0 466.7L1331.7 468.8L1332.3 471.0L1333.0 473.1L1333.6 475.3L1334.2 477.5L1334.8 479.7L1335.4 481.9L1335.9 484.0L1336.4 486.0L1336.8 487.9L1337.2 489.9L1337.6 491.9L1338.0 493.9L1338.3 495.9L1338.7 497.9L1339.0 499.9L1339.3 502.0L1339.6 504.0L1340.0 506.0L1340.3 508.0L1340.6 510.0L1341.0 512.0L1341.4 514.0L1341.7 516.0L1342.1 518.0L1342.4 520.0L1342.8 522.0L1343.2 524.0L1343.5 526.0L1343.9 528.0L1344.2 530.0L1344.6 532.0L1344.9 534.0L1345.2 536.0L1345.6 538.0L1345.9 540.0L1346.2 542.0L1346.5 544.0L1346.8 546.0L1347.2 548.0L1347.5 550.0L1347.7 552.0L1348.0 554.0L1348.3 556.0L1348.6 558.0L1348.9 560.0L1349.2 562.0L1349.5 564.0L1349.8 566.0L1350.1 568.0L1350.4 570.0L1350.7 571.9L1351.0 573.9L1351.3 575.8L1351.5 577.7L1351.8 579.7L1352.1 581.6L1352.4 583.6L1352.7 585.5L1353.0 587.5L1353.3 589.6L1353.6 591.7L1354.0 593.8L1354.3 596.0L1354.6 597.8L1354.9 599.6L1355.2 601.4L1355.5 603.3L1355.8 605.1L1356.1 607.0L1356.4 608.9L1356.7 610.9L1357.0 612.8L1357.4 614.8L1357.7 616.8L1358.0 618.8L1358.4 620.8L1358.7 622.8L1359.0 624.9L1359.4 627.0L1359.7 629.1L1360.0 631.3L1360.3 633.4L1360.7 635.6L1361.0 637.8L1361.3 640.0L1361.6 641.8L1361.8 643.6L1362.1 645.5L1362.3 647.3L1362.5 649.2L1362.8 651.1L1363.0 653.0L1363.3 655.0L1363.5 656.9L1363.8 658.9L1364.0 660.8L1364.3 662.8L1364.5 664.8L1364.8 666.8L1365.0 668.8L1365.2 670.9L1365.5 672.9L1365.7 675.0L1366.0 677.1L1366.2 679.1L1366.5 681.2L1366.7 683.3L1366.9 685.4L1367.2 687.5L1367.4 689.6L1367.7 691.8L1367.9 693.9L1368.2 696.1L1368.4 698.2L1368.7 700.3L1368.9 702.5L1369.2 704.7L1369.4 706.8L1369.7 709.0L1369.9 710.9L1370.1 712.8L1370.4 714.7L1370.6 716.6L1370.8 718.5L1371.0 720.5L1371.2 722.4L1371.5 724.3L1371.7 726.3L1371.9 728.2L1372.1 730.2L1372.4 732.2L1372.6 734.2L1372.8 736.2L1373.1 738.2L1373.3 740.2L1373.5 742.2L1373.7 744.2L1374.0 746.2L1374.2 748.2L1374.4 750.2L1374.7 752.3L1374.9 754.3L1375.1 756.4L1375.3 758.4L1375.6 760.5L1375.8 762.5L1376.0 764.6L1376.3 766.6L1376.5 768.7L1376.7 770.8L1377.0 772.9L1377.2 774.9L1377.4 777.0L1377.6 779.1L1377.9 781.2L1378.1 783.3L1378.3 785.4L1378.6 787.4L1378.8 789.5L1379.0 791.6L1379.3 793.7L1379.5 795.8L1379.7 797.9L1379.9 800.0L1380.2 802.0L1380.4 803.9L1380.6 805.9L1380.8 807.8L1381.0 809.8L1381.2 811.8L1381.4 813.8L1381.7 815.8L1381.9 817.8L1382.1 819.8L1382.3 821.8L1382.5 823.8L1382.7 825.8L1383.0 827.9L1383.2 829.9L1383.4 831.9L1383.6 834.0L1383.8 836.0L1384.0 838.0L1384.3 840.1L1384.5 842.1L1384.7 844.2L1384.9 846.2L1385.1 848.3L1385.3 850.3L1385.6 852.4L1385.8 854.4L1386.0 856.5L1386.2 858.5L1386.4 860.6L1386.6 862.6L1386.8 864.7L1387.1 866.7L1387.3 868.7L1387.5 870.8L1387.7 872.8L1387.9 874.9L1388.1 876.9L1388.3 878.9L1388.5 881.0L1388.7 883.0L1389.0 885.0L1389.2 887.0L1389.4 889.1L1389.6 891.1L1389.8 893.1L1390.0 895.1L1390.2 897.1L1390.4 899.1L1390.6 901.0L1390.8 903.0L1391.0 905.0L1391.2 907.1L1391.4 909.2L1391.6 911.3L1391.8 913.4L1392.0 915.5L1392.2 917.6L1392.4 919.7L1392.6 921.8L1392.8 923.9L1393.0 926.1L1393.2 928.2L1393.4 930.3L1393.6 932.5L1393.8 934.6L1394.0 936.7L1394.2 938.8L1394.4 941.0L1394.6 943.1L1394.8 945.2L1395.0 947.3L1395.2 949.4L1395.4 951.5L1395.6 953.6L1395.8 955.7L1396.0 957.8L1396.2 959.9L1396.4 961.9L1396.6 964.0L1396.7 966.0L1396.9 968.1L1397.1 970.1L1397.3 972.1L1397.5 974.1L1397.7 976.0L1397.9 978.0L1398.1 979.9L1398.2 981.9L1398.4 983.8L1398.6 985.7L1398.8 987.5L1399.0 989.4L1399.2 991.2L1399.4 993.0L1399.5 994.8L1399.7 996.6L1399.9 998.3L1400.1 1000.0L1400.3 1002.3L1400.6 1004.5L1400.8 1006.7L1401.0 1008.8L1401.3 1010.9L1401.5 1013.0L1401.7 1014.9L1402.0 1016.9L1402.2 1018.8L1402.4 1020.7L1402.7 1022.6L1402.9 1024.5L1403.1 1026.3L1403.3 1028.2L1403.6 1030.0L1403.8 1031.9L1404.0 1033.7L1404.3 1035.6L1404.5 1037.4L1404.7 1039.3L1405.0 1041.2L1405.2 1043.2L1405.4 1045.1L1405.7 1047.2L1405.9 1049.2L1406.2 1051.1L1406.4 1053.0L1406.6 1054.9L1406.8 1056.8L1407.1 1058.8L1407.3 1060.7L1407.5 1062.7L1407.8 1064.7L1408.0 1066.7L1408.3 1068.7L1408.5 1070.8L1408.7 1072.8L1409.0 1074.9L1409.2 1077.0L1409.5 1079.0L1409.7 1081.1L1409.9 1083.2L1410.2 1085.3L1410.4 1087.4L1410.7 1089.4L1410.9 1091.5L1411.2 1093.6L1411.4 1095.6L1411.7 1097.7L1411.9 1099.7L1412.2 1101.8L1412.4 1103.8L1412.7 1105.8L1412.9 1107.8L1413.2 1109.8L1413.4 1111.8L1413.7 1113.9L1413.9 1116.0L1414.2 1118.0L1414.5 1120.1L1414.7 1122.2L1415.0 1124.2L1415.3 1126.3L1415.5 1128.4L1415.8 1130.5L1416.0 1132.5L1416.3 1134.6L1416.6 1136.7L1416.8 1138.7L1417.1 1140.8L1417.4 1142.8L1417.6 1144.9L1417.9 1146.9L1418.2 1148.9L1418.5 1150.9L1418.7 1152.9L1419.0 1154.9L1419.3 1156.9L1419.6 1158.8L1419.8 1160.8L1420.1 1162.7L1420.4 1164.6L1420.7 1166.6L1421.0 1168.5L1421.2 1170.4L1421.6 1172.5L1421.9 1174.6L1422.2 1176.7L1422.5 1178.7L1422.8 1180.8L1423.2 1182.9L1423.5 1184.9L1423.8 1187.0L1424.1 1189.0L1424.5 1191.0L1424.8 1193.1L1425.1 1195.1L1425.5 1197.1L1425.8 1199.1L1426.1 1201.1L1426.5 1203.1L1426.8 1205.1L1427.1 1207.0L1427.5 1208.9L1427.8 1210.8L1428.1 1212.7L1428.5 1214.6L1428.8 1216.4L1429.2 1218.3L1429.5 1220.1L1429.9 1222.1L1430.2 1224.1L1430.6 1226.0L1431.0 1228.0L1431.4 1230.0L1431.8 1232.0L1432.1 1233.9L1432.5 1235.9L1432.9 1237.9L1433.3 1239.9L1433.7 1241.9L1434.1 1243.9L1434.4 1245.9L1434.8 1247.9L1435.2 1249.8L1435.6 1251.8L1436.0 1253.7L1436.4 1255.6L1436.7 1257.5L1437.1 1259.4L1437.5 1261.3L1437.9 1263.3L1438.3 1265.2L1438.7 1267.2L1439.0 1269.1L1439.4 1271.1L1439.8 1273.1L1440.1 1275.0L1440.5 1277.0L1440.9 1279.0L1441.3 1281.0L1441.6 1283.0L1442.0 1284.9L1442.4 1286.9L1442.8 1288.9L1443.2 1290.8L1443.7 1292.8L1444.1 1294.8L1444.5 1296.7L1445.0 1298.7L1445.5 1300.7L1446.0 1302.7L1446.5 1304.8L1447.0 1306.8L1447.5 1308.8L1448.1 1310.8L1448.6 1312.8L1449.2 1314.7L1449.7 1316.7L1450.3 1318.6L1450.9 1320.5L1451.4 1322.4L1452.0 1324.2L1452.6 1326.1L1453.2 1327.9L1453.8 1329.8L1454.4 1331.6L1455.0 1333.3L1455.7 1335.5L1456.4 1337.6L1457.2 1339.7L1457.9 1341.7L1458.6 1343.8L1459.4 1345.8L1460.1 1347.8L1460.9 1349.7L1461.7 1351.6L1462.5 1353.5L1463.3 1355.5L1464.1 1357.4L1465.0 1359.3L1466.1 1361.8L1467.3 1364.2L1468.5 1366.4L1469.7 1368.4L1470.9 1370.3L1472.2 1371.9L1473.6 1373.2L1475.0 1374.3L1476.9 1374.8L1478.8 1374.6L1480.8 1374.1L1482.9 1373.8L1485.0 1373.4L1487.1 1373.1L1489.3 1372.8L1491.5 1372.5L1493.7 1371.8L1495.7 1371.0L1497.5 1370.1L1498.9 1368.8L1500.1 1367.3L1501.1 1365.5L1502.0 1363.5L1503.0 1361.5L1503.9 1359.5L1505.0 1357.5L1506.0 1356.0L1506.9 1354.5L1507.9 1352.9L1508.9 1351.3L1510.0 1349.6L1511.0 1347.8L1512.0 1346.1L1513.0 1344.4L1514.0 1342.7L1515.0 1341.0L1515.9 1339.4L1516.9 1337.7L1517.8 1336.0L1518.7 1334.3L1519.6 1332.6L1520.6 1331.0L1521.5 1329.3L1522.4 1327.6L1523.3 1325.8L1524.1 1323.9L1525.0 1322.0L1525.8 1320.2L1526.5 1318.3L1527.3 1316.5L1528.0 1314.6L1528.7 1312.6L1529.4 1310.7L1530.1 1308.7L1530.8 1306.7L1531.5 1304.7L1532.2 1302.7L1532.9 1300.7L1533.6 1298.8L1534.3 1296.8L1535.0 1294.9L1535.7 1293.1L1536.4 1291.2L1537.0 1289.3L1537.7 1287.4L1538.4 1285.4L1539.0 1283.5L1539.7 1281.5L1540.4 1279.7L1541.0 1277.8L1541.7 1276.0L1542.4 1274.1L1543.0 1272.3L1543.7 1270.4L1544.3 1268.4L1545.0 1266.5L1545.6 1264.6L1546.2 1262.7L1546.8 1260.8L1547.4 1258.8L1548.0 1256.8L1548.6 1254.8L1549.2 1252.8L1549.7 1250.8L1550.3 1248.8L1550.9 1246.8L1551.5 1244.8L1552.1 1242.9L1552.7 1240.9L1553.3 1238.9L1553.8 1236.8L1554.4 1234.7L1555.0 1232.5L1555.6 1230.4L1556.1 1228.2L1556.7 1226.1L1557.3 1223.9L1557.8 1221.8L1558.4 1219.7L1558.9 1217.7L1559.5 1215.7L1560.0 1213.8L1560.6 1211.8L1561.1 1209.9L1561.7 1207.9L1562.3 1205.9L1562.8 1203.9L1563.4 1202.0L1563.9 1200.0L1564.5 1198.0L1565.0 1196.0L1565.5 1194.0L1566.1 1192.1L1566.6 1190.2L1567.1 1188.3L1567.6 1186.4L1568.1 1184.6L1568.7 1182.8L1569.2 1181.0L1569.7 1179.2L1570.2 1177.4L1570.7 1175.5L1571.3 1173.7L1571.8 1171.8L1572.3 1169.9L1572.8 1168.0L1573.4 1166.0L1573.9 1163.9L1574.4 1161.9L1575.0 1159.8L1575.5 1157.9L1576.0 1156.0L1576.5 1154.1L1577.0 1152.1L1577.5 1150.2L1578.0 1148.2L1578.6 1146.2L1579.1 1144.3L1579.6 1142.3L1580.1 1140.3L1580.7 1138.3L1581.2 1136.3L1581.7 1134.2L1582.2 1132.2L1582.8 1130.1L1583.3 1128.0L1583.8 1125.9L1584.4 1123.8L1584.9 1121.8L1585.4 1119.7L1585.9 1117.6L1586.5 1115.6L1587.0 1113.5L1587.5 1111.5L1588.0 1109.5L1588.5 1107.6L1589.0 1105.6L1589.5 1103.6L1590.0 1101.7L1590.5 1099.7L1591.0 1097.7L1591.5 1095.7L1592.0 1093.7L1592.6 1091.7L1593.1 1089.7L1593.6 1087.7L1594.1 1085.7L1594.6 1083.7L1595.1 1081.7L1595.6 1079.6L1596.1 1077.6L1596.6 1075.6L1597.0 1073.7L1597.5 1071.7L1598.0 1069.8L1598.5 1067.8L1599.0 1065.9L1599.5 1064.1L1600.0 1062.2L1600.6 1060.0L1601.1 1057.9L1601.7 1055.8L1602.3 1053.6L1602.9 1051.5L1603.5 1049.4L1604.1 1047.3L1604.6 1045.2L1605.2 1043.1L1605.8 1041.1L1606.4 1039.1L1606.9 1037.1L1607.5 1035.1L1608.0 1033.1L1608.5 1031.2L1609.1 1029.3L1609.6 1027.5L1610.0 1025.7L1610.5 1023.9L1611.0 1021.8L1611.5 1019.8L1612.0 1017.9L1612.4 1016.1L1612.8 1014.4L1613.3 1012.7L1613.7 1010.9L1614.1 1009.0L1614.6 1007.0L1615.0 1004.9L1615.6 1002.6L1616.2 1000.0L1616.5 998.7L1616.8 997.3L1617.1 995.9L1617.5 994.4L1617.8 992.9L1618.2 991.4L1618.6 989.8L1618.9 988.1L1619.3 986.5L1619.7 984.7L1620.1 983.0L1620.6 981.2L1621.0 979.4L1621.4 977.5L1621.8 975.6L1622.3 973.7L1622.7 971.7L1623.2 969.8L1623.7 967.8L1624.1 965.8L1624.6 963.7L1625.1 961.7L1625.6 959.6L1626.0 957.5L1626.5 955.4L1627.0 953.2L1627.5 951.1L1628.0 948.9L1628.5 946.8L1629.0 944.6L1629.5 942.4L1630.0 940.3L1630.5 938.1L1631.0 935.9L1631.5 933.7L1632.0 931.5L1632.5 929.3L1633.0 927.2L1633.5 925.0L1634.0 922.8L1634.4 920.7L1634.9 918.5L1635.4 916.4L1635.9 914.3L1636.4 912.2L1636.8 910.1L1637.3 908.0L1637.7 906.0L1638.2 904.0L1638.6 902.0L1639.1 900.0L1639.5 898.0L1639.9 896.1L1640.3 894.1L1640.8 892.2L1641.2 890.2L1641.6 888.2L1642.0 886.3L1642.5 884.3L1642.9 882.3L1643.3 880.4L1643.7 878.4L1644.1 876.4L1644.6 874.5L1645.0 872.5L1645.4 870.5L1645.8 868.6L1646.2 866.6L1646.6 864.6L1647.0 862.6L1647.5 860.7L1647.9 858.7L1648.3 856.7L1648.7 854.8L1649.1 852.8L1649.5 850.8L1649.9 848.9L1650.3 846.9L1650.7 844.9L1651.1 843.0L1651.5 841.0L1652.0 839.0L1652.4 837.1L1652.8 835.1L1653.2 833.1L1653.6 831.2L1654.0 829.2L1654.4 827.3L1654.8 825.3L1655.2 823.4L1655.6 821.4L1656.0 819.4L1656.4 817.5L1656.8 815.5L1657.2 813.6L1657.7 811.6L1658.1 809.7L1658.5 807.8L1658.9 805.8L1659.3 803.9L1659.7 801.9L1660.1 800.0L1660.5 798.0L1661.0 796.0L1661.4 794.0L1661.8 791.9L1662.3 789.9L1662.7 787.9L1663.1 785.9L1663.6 783.8L1664.0 781.8L1664.4 779.7L1664.9 777.7L1665.3 775.7L1665.7 773.6L1666.2 771.6L1666.6 769.5L1667.1 767.5L1667.5 765.4L1667.9 763.4L1668.4 761.4L1668.8 759.3L1669.2 757.3L1669.7 755.3L1670.1 753.2L1670.5 751.2L1671.0 749.2L1671.4 747.2L1671.8 745.2L1672.3 743.2L1672.7 741.2L1673.1 739.2L1673.5 737.2L1674.0 735.2L1674.4 733.3L1674.8 731.3L1675.2 729.4L1675.6 727.4L1676.1 725.5L1676.5 723.6L1676.9 721.7L1677.3 719.8L1677.7 717.9L1678.1 716.0L1678.5 714.1L1678.9 712.3L1679.3 710.4L1679.7 708.6L1680.0 706.8L1680.4 705.0L1680.9 702.8L1681.3 700.7L1681.8 698.6L1682.2 696.5L1682.7 694.4L1683.1 692.3L1683.5 690.2L1684.0 688.1L1684.4 686.0L1684.8 684.0L1685.3 682.0L1685.7 679.9L1686.1 677.9L1686.5 675.9L1686.9 673.9L1687.4 671.9L1687.8 670.0L1688.2 668.0L1688.6 666.0L1689.0 664.1L1689.4 662.2L1689.8 660.3L1690.2 658.4L1690.6 656.5L1691.0 654.6L1691.4 652.7L1691.8 650.9L1692.2 649.0L1692.6 647.2L1692.9 645.4L1693.3 643.6L1693.7 641.8L1694.1 640.0L1694.6 637.8L1695.0 635.6L1695.5 633.5L1696.0 631.3L1696.5 629.2L1696.9 627.1L1697.4 625.0L1697.9 622.9L1698.3 620.9L1698.8 618.9L1699.2 616.8L1699.7 614.8L1700.1 612.9L1700.5 610.9L1701.0 609.0L1701.4 607.1L1701.8 605.2L1702.3 603.3L1702.7 601.4L1703.1 599.6L1703.5 597.8L1703.9 596.0L1704.4 593.8L1704.9 591.7L1705.3 589.6L1705.8 587.5L1706.2 585.5L1706.7 583.6L1707.1 581.6L1707.6 579.7L1708.0 577.7L1708.4 575.8L1708.9 573.9L1709.3 571.9L1709.8 570.0L1710.2 568.0L1710.6 566.0L1711.1 564.0L1711.5 562.0L1712.0 560.0L1712.4 558.0L1712.8 556.0L1713.3 554.0L1713.7 552.0L1714.2 550.0L1714.6 548.0L1715.1 546.0L1715.5 544.0L1716.0 542.0L1716.5 540.0L1717.0 538.0L1717.5 536.0L1718.0 534.0L1718.5 532.0L1719.0 530.0L1719.5 528.0L1720.0 526.0L1720.6 524.0L1721.1 522.0L1721.6 520.0L1722.2 518.0L1722.7 516.0L1723.3 514.0L1723.9 512.0L1724.5 510.0L1725.1 508.0L1725.7 506.0L1726.3 504.0L1727.0 502.1L1727.6 500.1L1728.2 498.1L1728.9 496.1L1729.5 494.1L1730.2 492.1L1730.9 490.1L1731.6 488.1L1732.3 486.1L1733.0 484.0L1733.7 482.1L1734.3 480.1L1735.1 478.1L1735.8 476.0L1736.5 473.8L1737.3 471.7L1738.1 469.5L1738.8 467.4L1739.6 465.3L1740.3 463.2L1741.1 461.2L1741.8 459.2L1742.5 457.4L1743.2 455.6L1743.9 453.9L1744.5 452.4L1745.1 451.0L1746.1 448.8L1747.0 446.8L1747.9 445.1L1748.8 443.5L1749.7 441.9L1751.0 439.7L1752.3 437.6L1753.7 435.8L1755.6 433.6L1757.7 431.9L1759.7 430.9L1761.7 430.5L1763.7 430.8L1765.7 431.7L1767.8 433.3L1769.7 435.5L1771.1 437.3L1772.4 439.3L1773.7 441.7L1774.6 443.4L1775.5 445.2L1776.4 447.2L1777.3 449.3L1778.2 451.6L1779.0 453.9L1779.9 456.3L1780.5 458.0L1781.1 459.8L1781.6 461.6L1782.2 463.5L1782.8 465.5L1783.3 467.5L1783.9 469.5L1784.5 471.6L1785.0 473.7L1785.5 475.8L1786.0 477.9L1786.5 479.9L1787.0 482.0L1787.5 484.0L1787.9 486.0L1788.4 488.0L1788.8 490.0L1789.2 492.0L1789.6 494.0L1789.9 496.0L1790.3 498.0L1790.7 500.0L1791.0 502.0L1791.4 504.0L1791.7 506.0L1792.0 508.0L1792.4 510.0L1792.7 512.0L1793.0 514.0L1793.4 516.0L1793.7 518.0L1794.0 520.0L1794.3 522.0L1794.6 524.0L1794.9 526.0L1795.2 528.0L1795.4 530.0L1795.7 532.0L1796.0 534.0L1796.3 536.0L1796.6 538.0L1796.9 540.0L1797.2 542.0L1797.5 544.0L1797.8 546.0L1798.1 548.0L1798.4 550.0L1798.7 552.0L1799.0 554.0L1799.3 556.0L1799.6 558.0L1799.9 560.0L1800.2 562.0L1800.5 564.0L1800.8 566.0L1801.1 568.0L1801.4 570.0L1801.7 571.9L1802.0 573.9L1802.3 575.8L1802.6 577.7L1802.9 579.7L1803.2 581.6L1803.4 583.6L1803.7 585.5L1804.0 587.5L1804.4 589.6L1804.7 591.7L1805.0 593.8L1805.3 596.0L1805.6 597.8L1805.8 599.6L1806.1 601.4L1806.4 603.3L1806.6 605.2L1806.9 607.1L1807.2 609.0L1807.5 610.9L1807.7 612.9L1808.0 614.8L1808.3 616.8L1808.6 618.9L1808.9 620.9L1809.2 623.0L1809.5 625.0L1809.8 627.1L1810.1 629.2L1810.4 631.3L1810.7 633.5L1811.0 635.6L1811.3 637.8L1811.6 640.0L1811.9 641.8L1812.1 643.7L1812.4 645.6L1812.6 647.4L1812.9 649.3L1813.2 651.2L1813.5 653.1L1813.7 655.1L1814.0 657.0L1814.3 659.0L1814.6 660.9L1814.9 662.9L1815.1 664.9L1815.4 666.9L1815.7 668.9L1816.0 670.9L1816.3 673.0L1816.6 675.0L1816.8 677.1L1817.1 679.2L1817.4 681.2L1817.7 683.3L1818.0 685.5L1818.3 687.6L1818.6 689.7L1818.8 691.9L1819.1 694.0L1819.4 696.2L1819.7 698.4L1820.0 700.6L1820.2 702.8L1820.5 705.0L1820.7 706.8L1821.0 708.7L1821.2 710.6L1821.4 712.4L1821.6 714.3L1821.9 716.2L1822.1 718.1L1822.3 720.1L1822.5 722.0L1822.8 724.0L1823.0 725.9L1823.2 727.9L1823.4 729.9L1823.6 731.9L1823.9 733.9L1824.1 735.9L1824.3 737.9L1824.5 740.0L1824.8 742.0L1825.0 744.0L1825.2 746.1L1825.4 748.1L1825.6 750.2L1825.9 752.2L1826.1 754.3L1826.3 756.4L1826.5 758.5L1826.7 760.5L1827.0 762.6L1827.2 764.7L1827.4 766.8L1827.6 768.9L1827.8 771.0L1828.1 773.0L1828.3 775.1L1828.5 777.2L1828.7 779.3L1828.9 781.4L1829.1 783.5L1829.3 785.5L1829.6 787.6L1829.8 789.7L1830.0 791.8L1830.2 793.8L1830.4 795.9L1830.6 797.9L1830.8 800.0L1831.0 802.0L1831.2 804.0L1831.4 805.9L1831.6 807.9L1831.8 809.9L1832.0 811.9L1832.2 813.9L1832.4 815.9L1832.6 817.8L1832.8 819.8L1833.0 821.8L1833.2 823.8L1833.4 825.8L1833.6 827.8L1833.8 829.8L1834.0 831.8L1834.2 833.8L1834.3 835.8L1834.5 837.8L1834.7 839.8L1834.9 841.8L1835.1 843.8L1835.3 845.8L1835.5 847.8L1835.7 849.8L1835.9 851.8L1836.0 853.9L1836.2 855.9L1836.4 857.9L1836.6 859.9L1836.8 861.9L1837.0 863.9L1837.2 865.9L1837.4 867.9L1837.6 869.9L1837.8 871.9L1837.9 873.9L1838.1 875.9L1838.3 878.0L1838.5 880.0L1838.7 882.0L1838.9 884.0L1839.1 886.0L1839.3 888.0L1839.5 890.0L1839.7 892.0L1839.9 894.0L1840.1 896.0L1840.3 898.0L1840.5 900.0L1840.7 902.0L1840.9 904.0L1841.1 906.1L1841.3 908.1L1841.5 910.2L1841.7 912.2L1841.9 914.3L1842.2 916.4L1842.4 918.5L1842.6 920.6L1842.8 922.7L1843.0 924.8L1843.2 926.9L1843.5 929.0L1843.7 931.1L1843.9 933.2L1844.1 935.3L1844.3 937.4L1844.6 939.5L1844.8 941.6L1845.0 943.8L1845.2 945.9L1845.4 948.0L1845.7 950.1L1845.9 952.1L1846.1 954.2L1846.3 956.3L1846.5 958.4L1846.7 960.4L1847.0 962.5L1847.2 964.5L1847.4 966.5L1847.6 968.5L1847.8 970.5L1848.0 972.5L1848.2 974.5L1848.4 976.4L1848.6 978.4L1848.8 980.3L1849.0 982.2L1849.2 984.1L1849.4 985.9L1849.6 987.8L1849.8 989.6L1850.0 991.4L1850.2 993.2L1850.4 994.9L1850.6 996.6L1850.7 998.3L1850.9 1000.0L1851.2 1002.3L1851.4 1004.6L1851.6 1006.8L1851.8 1008.9L1852.1 1011.0L1852.3 1013.1L1852.5 1015.1L1852.7 1017.1L1852.9 1019.1L1853.1 1021.0L1853.3 1022.9L1853.5 1024.8L1853.7 1026.7L1853.9 1028.6L1854.1 1030.4L1854.3 1032.3L1854.5 1034.2L1854.7 1036.0L1854.9 1037.9L1855.1 1039.8L1855.3 1041.7L1855.5 1043.6L1855.7 1045.6L1855.9 1047.5L1856.2 1049.5L1856.4 1051.5L1856.6 1053.4L1856.8 1055.4L1857.1 1057.3L1857.3 1059.3L1857.5 1061.3L1857.8 1063.3L1858.0 1065.2L1858.2 1067.2L1858.5 1069.2L1858.7 1071.3L1859.0 1073.3L1859.2 1075.3L1859.4 1077.4L1859.7 1079.5L1859.9 1081.5L1860.2 1083.6L1860.4 1085.7L1860.7 1087.8L1860.9 1089.8L1861.2 1091.9L1861.5 1094.0L1861.7 1096.0L1862.0 1098.1L1862.2 1100.2L1862.5 1102.2L1862.7 1104.2L1863.0 1106.3L1863.3 1108.3L1863.5 1110.4L1863.8 1112.5L1864.1 1114.5L1864.3 1116.6L1864.6 1118.7L1864.9 1120.7L1865.1 1122.8L1865.4 1124.8L1865.7 1126.9L1865.9 1128.9L1866.2 1131.0L1866.5 1133.0L1866.8 1135.1L1867.0 1137.1L1867.3 1139.2L1867.6 1141.2L1867.9 1143.2L1868.2 1145.3L1868.5 1147.3L1868.7 1149.4L1869.0 1151.4L1869.3 1153.5L1869.6 1155.5L1869.9 1157.6L1870.2 1159.6L1870.6 1161.7L1870.9 1163.8L1871.2 1165.9L1871.5 1168.0L1871.9 1170.1L1872.2 1172.2L1872.6 1174.3L1872.9 1176.4L1873.2 1178.5L1873.6 1180.5L1873.9 1182.6L1874.3 1184.6L1874.7 1186.6L1875.0 1188.6L1875.4 1190.6L1875.7 1192.7L1876.1 1194.7L1876.5 1196.7L1876.8 1198.7L1877.2 1200.7L1877.6 1202.7L1877.9 1204.7L1878.3 1206.7L1878.6 1208.7L1879.0 1210.7L1879.4 1212.7L1879.8 1214.8L1880.2 1216.9L1880.6 1219.0L1881.0 1221.1L1881.4 1223.2L1881.8 1225.3L1882.2 1227.3L1882.6 1229.4L1883.1 1231.4L1883.5 1233.4L1883.9 1235.4L1884.3 1237.4L1884.7 1239.3L1885.1 1241.3L1885.6 1243.3L1886.0 1245.2L1886.4 1247.1L1886.8 1249.1L1887.2 1251.0L1887.6 1252.9L1888.0 1254.8L1888.4 1257.0L1888.9 1259.1L1889.3 1261.2L1889.7 1263.2L1890.2 1265.2L1890.6 1267.2L1891.0 1269.2L1891.4 1271.1L1891.9 1273.1L1892.3 1275.0L1892.7 1277.0L1893.2 1278.9L1893.6 1280.9L1894.1 1282.9L1894.5 1284.9L1895.0 1286.9L1895.5 1289.0L1896.0 1290.9L1896.5 1292.9L1896.9 1294.8L1897.4 1296.7L1897.9 1298.7L1898.4 1300.6L1899.0 1302.5L1899.5 1304.5L1900.0 1306.4L1900.5 1308.3L1901.1 1310.3L1901.6 1312.2L1902.1 1314.2L1902.7 1316.2L1903.2 1318.1L1903.8 1320.0L1904.4 1321.8L1904.9 1323.6L1905.5 1325.3L1906.2 1327.4L1906.8 1329.4L1907.5 1331.5L1908.1 1333.6L1908.8 1335.6L1909.5 1337.7L1910.2 1339.8L1910.9 1341.9L1911.6 1343.9L1912.3 1346.0L1913.1 1348.0L1913.8 1349.9L1914.7 1351.7L1915.5 1353.4L1916.6 1355.4L1917.8 1357.4L1919.0 1359.4L1920.2 1361.3L1921.4 1363.1L1922.8 1364.6L1924.1 1365.9L1925.5 1366.9L1927.4 1368.0L1929.3 1368.7L1931.3 1369.2L1933.4 1369.6L1935.5 1370.0L1937.5 1370.1L1939.7 1369.8L1941.9 1369.4L1944.0 1368.8L1946.1 1368.0L1948.0 1367.0L1949.5 1365.9L1950.8 1364.6L1952.1 1363.0L1953.4 1361.4L1954.5 1359.8L1955.7 1358.0L1956.8 1356.2L1958.0 1354.4L1959.0 1352.8L1959.9 1351.0L1960.9 1349.1L1961.8 1347.2L1962.7 1345.2L1963.6 1343.3L1964.5 1341.3L1965.4 1339.4L1966.2 1337.5L1967.1 1335.5L1968.0 1333.4L1968.9 1331.5L1969.7 1329.5L1970.6 1327.6L1971.4 1325.7L1972.2 1323.8L1973.1 1321.9L1973.9 1320.0L1974.7 1318.1L1975.6 1316.2L1976.4 1314.3L1977.2 1312.4L1978.0 1310.4L1978.7 1308.5L1979.5 1306.6L1980.2 1304.7L1980.9 1302.7L1981.7 1300.7L1982.4 1298.6L1983.1 1296.6L1983.8 1294.5L1984.5 1292.4L1985.2 1290.3L1985.9 1288.3L1986.6 1286.2L1987.3 1284.2L1988.0 1282.1L1988.7 1280.0L1989.4 1277.9L1990.0 1275.8L1990.7 1273.6L1991.4 1271.5L1992.0 1269.4L1992.7 1267.3L1993.4 1265.3L1994.0 1263.3L1994.7 1261.3L1995.4 1259.4L1996.0 1257.5L1996.7 1255.6L1997.3 1253.6L1998.0 1251.7L1998.6 1249.9L1999.2 1248.1L1999.8 1246.2L2000.4 1244.4L2001.0 1242.5L2001.5 1240.8L2002.1 1239.0L2002.7 1237.4L2003.3 1235.8L2003.9 1234.1L2004.4 1232.5L2005.0 1230.9L2005.6 1229.2L2006.2 1227.5L2006.8 1225.7L2007.4 1223.8L2008.0 1221.8L2008.6 1219.9L2009.2 1218.0L2009.8 1216.0L2010.4 1214.1L2011.0 1212.1L2011.6 1210.1L2012.2 1208.1L2012.8 1206.1L2013.4 1204.2L2014.0 1202.2L2014.6 1200.2L2015.3 1198.2L2015.9 1196.1L2016.5 1193.9L2017.1 1191.7L2017.7 1189.5L2018.4 1187.3L2019.0 1185.1L2019.6 1182.9L2020.3 1180.8L2020.9 1178.9L2021.5 1177.0L2022.2 1175.2L2022.8 1173.4L2023.5 1171.6L2024.1 1169.8L2024.8 1167.9L2025.4 1166.1L2026.1 1164.2L2026.8 1162.3L2027.4 1160.3L2028.1 1158.3L2028.8 1156.2L2029.4 1154.1L2030.1 1152.1L2030.8 1149.9L2031.3 1148.5L2031.7 1147.0L2032.2 1145.4L2032.7 1143.9L2033.1 1142.2L2033.6 1140.6L2034.1 1138.8L2034.6 1137.1L2035.1 1135.2L2035.6 1133.3L2036.1 1131.4L2036.6 1129.5L2037.1 1127.6L2037.6 1125.7L2038.0 1123.7L2038.5 1121.8L2039.1 1119.9L2039.6 1117.9L2040.1 1115.9L2040.6 1113.9L2041.1 1111.9L2041.6 1109.8L2042.1 1107.8L2042.6 1105.7L2043.1 1103.5L2043.6 1101.4L2044.1 1099.3L2044.6 1097.2L2045.1 1095.1L2045.6 1093.0L2046.1 1090.9L2046.6 1088.8L2047.1 1086.8L2047.6 1084.7L2048.1 1082.7L2048.6 1080.7L2049.1 1078.7L2049.5 1076.7L2050.0 1074.8L2050.5 1072.8L2051.0 1070.7L2051.5 1068.5L2052.1 1066.3L2052.6 1064.1L2053.1 1062.0L2053.6 1059.8L2054.1 1057.7L2054.6 1055.6L2055.1 1053.5L2055.6 1051.4L2056.1 1049.4L2056.6 1047.3L2057.1 1045.3L2057.7 1043.2L2058.2 1041.2L2058.7 1039.1L2059.2 1037.1L2059.7 1035.0L2060.2 1033.0L2060.7 1031.0L2061.2 1028.9L2061.7 1026.9L2062.2 1024.9L2062.7 1022.9L2063.2 1020.9L2063.7 1018.9L2064.2 1016.9L2064.7 1014.9L2065.2 1013.0L2065.7 1011.0L2066.2 1009.0L2066.7 1007.0L2067.2 1005.0L2067.7 1003.0" fill="none" stroke="#ff00ff" stroke-width="10.8" stroke-linejoin="round" stroke-linecap="butt"/></g><g font-family="'Liberation Serif', 'Times New Roman', serif" font-weight="bold" fill="#000"><line x1="354.7" y1="112.5" x2="477.49999999999994" y2="112.5" stroke="#ff0000" stroke-width="10.8" stroke-linecap="round" shape-rendering="crispEdges"/><text x="493.3" y="135" font-size="61.5" textLength="219" lengthAdjust="spacingAndGlyphs">100 kHz</text><line x1="791.5" y1="112.5" x2="914.3000000000001" y2="112.5" stroke="#000000" stroke-width="10.8" stroke-linecap="round" shape-rendering="crispEdges"/><text x="929.3" y="135" font-size="61.5" textLength="218.3" lengthAdjust="spacingAndGlyphs">200 kHz</text><line x1="1226.3999999999999" y1="112.5" x2="1349.2" y2="112.5" stroke="#0000ff" stroke-width="10.8" stroke-linecap="round" shape-rendering="crispEdges"/><text x="1365.5" y="135" font-size="61.5" textLength="219.3" lengthAdjust="spacingAndGlyphs">250 kHz</text><line x1="1663.3" y1="112.5" x2="1786.1000000000001" y2="112.5" stroke="#ff00ff" stroke-width="10.8" stroke-linecap="round" shape-rendering="crispEdges"/><text x="1803.6" y="135" font-size="61.5" textLength="217.3" lengthAdjust="spacingAndGlyphs">400 kHz</text><text x="218.7" y="1327.7" font-size="77" text-anchor="end">298</text><text x="218.7" y="962.4" font-size="77" text-anchor="end">300</text><text x="218.7" y="597.0" font-size="77" text-anchor="end">302</text><text x="218.7" y="231.7" font-size="77" text-anchor="end">304</text><text x="250.5" y="1577.5" font-size="77" text-anchor="middle">2</text><text x="1158.5" y="1577.5" font-size="77" text-anchor="middle">4</text><text x="2065.5" y="1577.5" font-size="77" text-anchor="middle">6</text><text transform="translate(72.9 756.5) rotate(-90)" font-size="75" text-anchor="middle">T(K)</text><text x="1160" y="1691.8" font-size="91.5" font-style="italic" text-anchor="middle">ωt</text></g></svg>
</body>
</html>
